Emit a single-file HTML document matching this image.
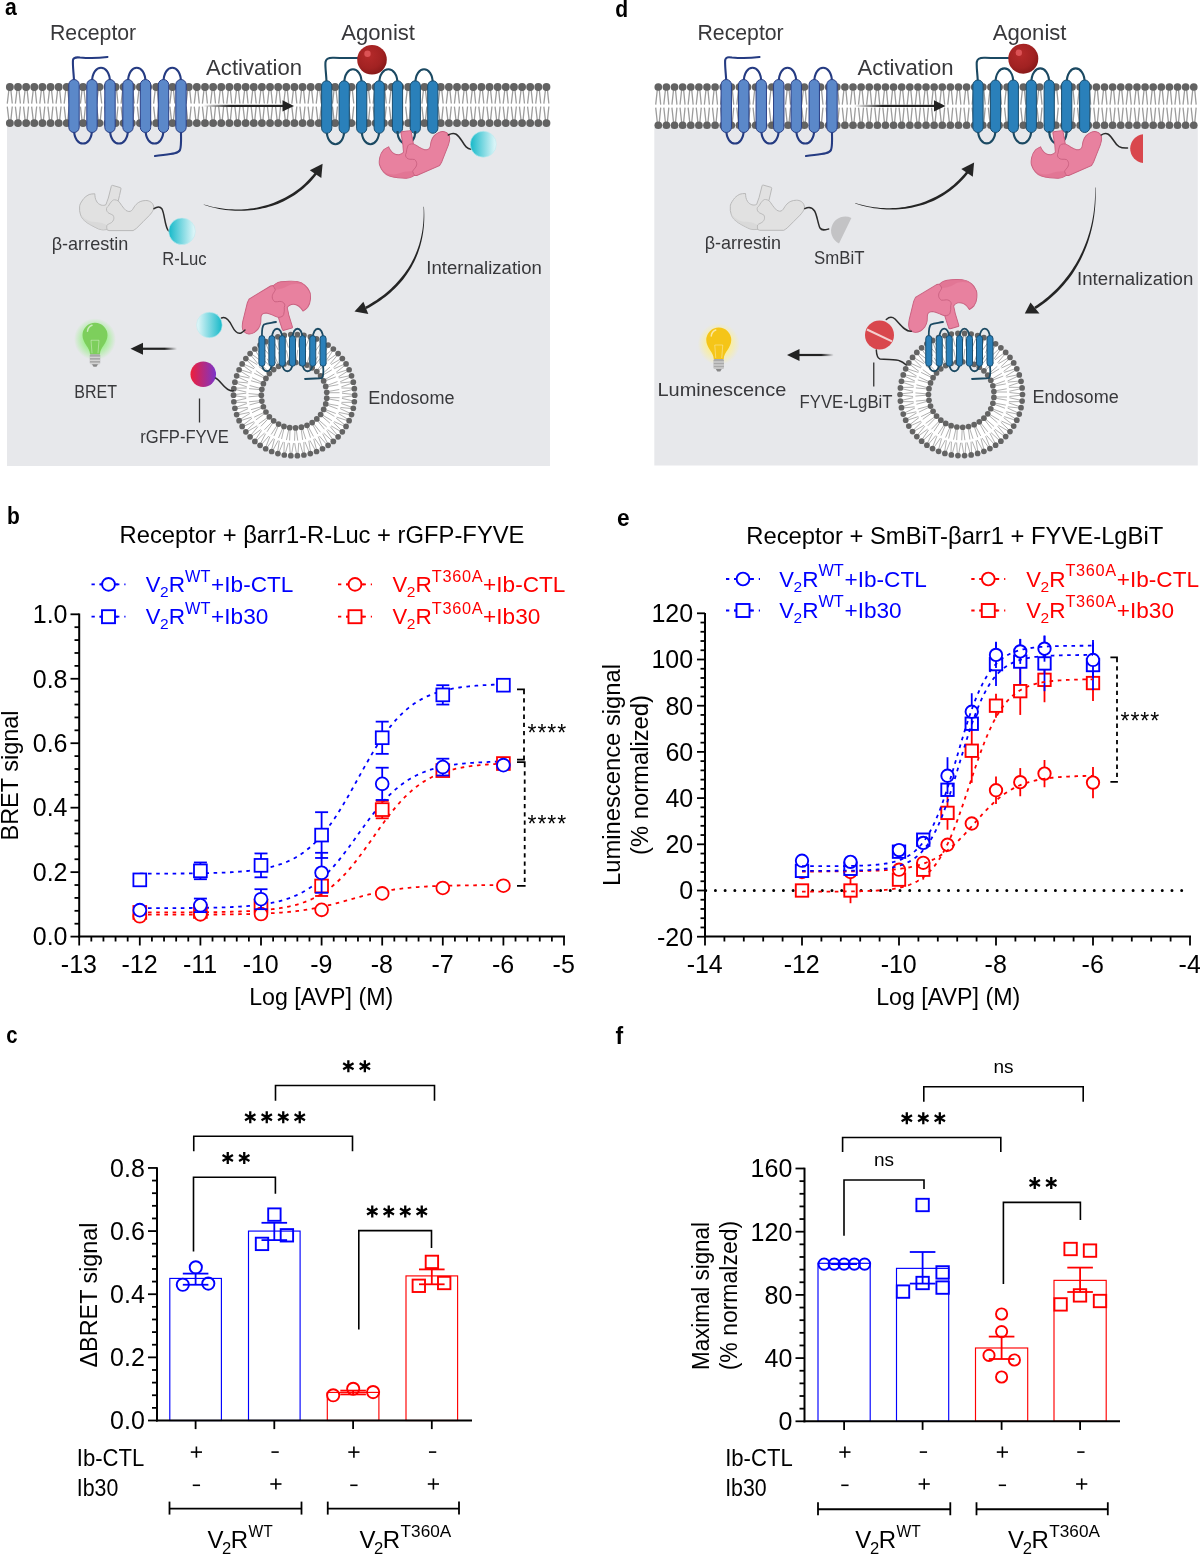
<!DOCTYPE html>
<html><head><meta charset="utf-8"><style>
html,body{margin:0;padding:0;background:#fff;}
svg{display:block;will-change:transform;}
text{font-family:"Liberation Sans",sans-serif;}
</style></head><body>
<svg width="1200" height="1555" viewBox="0 0 1200 1555">
<rect width="1200" height="1555" fill="#fff"/>
<g>
<line x1="79.2" y1="613.5" x2="79.2" y2="937.6" stroke="#000" stroke-width="2" />
<line x1="78.2" y1="936.6" x2="565" y2="936.6" stroke="#000" stroke-width="2" />
<line x1="70.5" y1="936.6" x2="79.2" y2="936.6" stroke="#000" stroke-width="1.8" />
<text x="67.5" y="945.4" font-size="25" text-anchor="end" fill="#000" font-weight="normal" >0.0</text>
<line x1="74.5" y1="923.71" x2="79.2" y2="923.71" stroke="#000" stroke-width="1.8" />
<line x1="74.5" y1="910.82" x2="79.2" y2="910.82" stroke="#000" stroke-width="1.8" />
<line x1="74.5" y1="897.92" x2="79.2" y2="897.92" stroke="#000" stroke-width="1.8" />
<line x1="74.5" y1="885.03" x2="79.2" y2="885.03" stroke="#000" stroke-width="1.8" />
<line x1="70.5" y1="872.14" x2="79.2" y2="872.14" stroke="#000" stroke-width="1.8" />
<text x="67.5" y="880.94" font-size="25" text-anchor="end" fill="#000" font-weight="normal" >0.2</text>
<line x1="74.5" y1="859.25" x2="79.2" y2="859.25" stroke="#000" stroke-width="1.8" />
<line x1="74.5" y1="846.36" x2="79.2" y2="846.36" stroke="#000" stroke-width="1.8" />
<line x1="74.5" y1="833.46" x2="79.2" y2="833.46" stroke="#000" stroke-width="1.8" />
<line x1="74.5" y1="820.57" x2="79.2" y2="820.57" stroke="#000" stroke-width="1.8" />
<line x1="70.5" y1="807.68" x2="79.2" y2="807.68" stroke="#000" stroke-width="1.8" />
<text x="67.5" y="816.48" font-size="25" text-anchor="end" fill="#000" font-weight="normal" >0.4</text>
<line x1="74.5" y1="794.79" x2="79.2" y2="794.79" stroke="#000" stroke-width="1.8" />
<line x1="74.5" y1="781.9" x2="79.2" y2="781.9" stroke="#000" stroke-width="1.8" />
<line x1="74.5" y1="769" x2="79.2" y2="769" stroke="#000" stroke-width="1.8" />
<line x1="74.5" y1="756.11" x2="79.2" y2="756.11" stroke="#000" stroke-width="1.8" />
<line x1="70.5" y1="743.22" x2="79.2" y2="743.22" stroke="#000" stroke-width="1.8" />
<text x="67.5" y="752.02" font-size="25" text-anchor="end" fill="#000" font-weight="normal" >0.6</text>
<line x1="74.5" y1="730.33" x2="79.2" y2="730.33" stroke="#000" stroke-width="1.8" />
<line x1="74.5" y1="717.44" x2="79.2" y2="717.44" stroke="#000" stroke-width="1.8" />
<line x1="74.5" y1="704.54" x2="79.2" y2="704.54" stroke="#000" stroke-width="1.8" />
<line x1="74.5" y1="691.65" x2="79.2" y2="691.65" stroke="#000" stroke-width="1.8" />
<line x1="70.5" y1="678.76" x2="79.2" y2="678.76" stroke="#000" stroke-width="1.8" />
<text x="67.5" y="687.56" font-size="25" text-anchor="end" fill="#000" font-weight="normal" >0.8</text>
<line x1="74.5" y1="665.87" x2="79.2" y2="665.87" stroke="#000" stroke-width="1.8" />
<line x1="74.5" y1="652.98" x2="79.2" y2="652.98" stroke="#000" stroke-width="1.8" />
<line x1="74.5" y1="640.08" x2="79.2" y2="640.08" stroke="#000" stroke-width="1.8" />
<line x1="74.5" y1="627.19" x2="79.2" y2="627.19" stroke="#000" stroke-width="1.8" />
<line x1="70.5" y1="614.3" x2="79.2" y2="614.3" stroke="#000" stroke-width="1.8" />
<text x="67.5" y="623.1" font-size="25" text-anchor="end" fill="#000" font-weight="normal" >1.0</text>
<line x1="79.2" y1="936.6" x2="79.2" y2="945.5" stroke="#000" stroke-width="1.8" />
<text x="78.9" y="972.6" font-size="25" text-anchor="middle" fill="#000" font-weight="normal" >-13</text>
<line x1="91.32" y1="936.6" x2="91.32" y2="941.5" stroke="#000" stroke-width="1.8" />
<line x1="103.44" y1="936.6" x2="103.44" y2="941.5" stroke="#000" stroke-width="1.8" />
<line x1="115.56" y1="936.6" x2="115.56" y2="941.5" stroke="#000" stroke-width="1.8" />
<line x1="127.68" y1="936.6" x2="127.68" y2="941.5" stroke="#000" stroke-width="1.8" />
<line x1="139.8" y1="936.6" x2="139.8" y2="945.5" stroke="#000" stroke-width="1.8" />
<text x="139.5" y="972.6" font-size="25" text-anchor="middle" fill="#000" font-weight="normal" >-12</text>
<line x1="151.92" y1="936.6" x2="151.92" y2="941.5" stroke="#000" stroke-width="1.8" />
<line x1="164.04" y1="936.6" x2="164.04" y2="941.5" stroke="#000" stroke-width="1.8" />
<line x1="176.16" y1="936.6" x2="176.16" y2="941.5" stroke="#000" stroke-width="1.8" />
<line x1="188.28" y1="936.6" x2="188.28" y2="941.5" stroke="#000" stroke-width="1.8" />
<line x1="200.4" y1="936.6" x2="200.4" y2="945.5" stroke="#000" stroke-width="1.8" />
<text x="200.1" y="972.6" font-size="25" text-anchor="middle" fill="#000" font-weight="normal" >-11</text>
<line x1="212.52" y1="936.6" x2="212.52" y2="941.5" stroke="#000" stroke-width="1.8" />
<line x1="224.64" y1="936.6" x2="224.64" y2="941.5" stroke="#000" stroke-width="1.8" />
<line x1="236.76" y1="936.6" x2="236.76" y2="941.5" stroke="#000" stroke-width="1.8" />
<line x1="248.88" y1="936.6" x2="248.88" y2="941.5" stroke="#000" stroke-width="1.8" />
<line x1="261" y1="936.6" x2="261" y2="945.5" stroke="#000" stroke-width="1.8" />
<text x="260.7" y="972.6" font-size="25" text-anchor="middle" fill="#000" font-weight="normal" >-10</text>
<line x1="273.12" y1="936.6" x2="273.12" y2="941.5" stroke="#000" stroke-width="1.8" />
<line x1="285.24" y1="936.6" x2="285.24" y2="941.5" stroke="#000" stroke-width="1.8" />
<line x1="297.36" y1="936.6" x2="297.36" y2="941.5" stroke="#000" stroke-width="1.8" />
<line x1="309.48" y1="936.6" x2="309.48" y2="941.5" stroke="#000" stroke-width="1.8" />
<line x1="321.6" y1="936.6" x2="321.6" y2="945.5" stroke="#000" stroke-width="1.8" />
<text x="321.3" y="972.6" font-size="25" text-anchor="middle" fill="#000" font-weight="normal" >-9</text>
<line x1="333.72" y1="936.6" x2="333.72" y2="941.5" stroke="#000" stroke-width="1.8" />
<line x1="345.84" y1="936.6" x2="345.84" y2="941.5" stroke="#000" stroke-width="1.8" />
<line x1="357.96" y1="936.6" x2="357.96" y2="941.5" stroke="#000" stroke-width="1.8" />
<line x1="370.08" y1="936.6" x2="370.08" y2="941.5" stroke="#000" stroke-width="1.8" />
<line x1="382.2" y1="936.6" x2="382.2" y2="945.5" stroke="#000" stroke-width="1.8" />
<text x="381.9" y="972.6" font-size="25" text-anchor="middle" fill="#000" font-weight="normal" >-8</text>
<line x1="394.32" y1="936.6" x2="394.32" y2="941.5" stroke="#000" stroke-width="1.8" />
<line x1="406.44" y1="936.6" x2="406.44" y2="941.5" stroke="#000" stroke-width="1.8" />
<line x1="418.56" y1="936.6" x2="418.56" y2="941.5" stroke="#000" stroke-width="1.8" />
<line x1="430.68" y1="936.6" x2="430.68" y2="941.5" stroke="#000" stroke-width="1.8" />
<line x1="442.8" y1="936.6" x2="442.8" y2="945.5" stroke="#000" stroke-width="1.8" />
<text x="442.5" y="972.6" font-size="25" text-anchor="middle" fill="#000" font-weight="normal" >-7</text>
<line x1="454.92" y1="936.6" x2="454.92" y2="941.5" stroke="#000" stroke-width="1.8" />
<line x1="467.04" y1="936.6" x2="467.04" y2="941.5" stroke="#000" stroke-width="1.8" />
<line x1="479.16" y1="936.6" x2="479.16" y2="941.5" stroke="#000" stroke-width="1.8" />
<line x1="491.28" y1="936.6" x2="491.28" y2="941.5" stroke="#000" stroke-width="1.8" />
<line x1="503.4" y1="936.6" x2="503.4" y2="945.5" stroke="#000" stroke-width="1.8" />
<text x="503.1" y="972.6" font-size="25" text-anchor="middle" fill="#000" font-weight="normal" >-6</text>
<line x1="515.52" y1="936.6" x2="515.52" y2="941.5" stroke="#000" stroke-width="1.8" />
<line x1="527.64" y1="936.6" x2="527.64" y2="941.5" stroke="#000" stroke-width="1.8" />
<line x1="539.76" y1="936.6" x2="539.76" y2="941.5" stroke="#000" stroke-width="1.8" />
<line x1="551.88" y1="936.6" x2="551.88" y2="941.5" stroke="#000" stroke-width="1.8" />
<line x1="564" y1="936.6" x2="564" y2="945.5" stroke="#000" stroke-width="1.8" />
<text x="563.7" y="972.6" font-size="25" text-anchor="middle" fill="#000" font-weight="normal" >-5</text>
<text x="321.2" y="1005" font-size="24.6" text-anchor="middle" fill="#000" font-weight="normal" textLength="144" lengthAdjust="spacingAndGlyphs">Log [AVP] (M)</text>
<text x="18" y="775.5" font-size="24" text-anchor="middle" fill="#000" font-weight="normal" transform="rotate(-90 18 775.5)" textLength="130" lengthAdjust="spacingAndGlyphs">BRET signal</text>
<text x="322" y="542.7" font-size="24.6" text-anchor="middle" fill="#000" font-weight="normal" textLength="405" lengthAdjust="spacingAndGlyphs">Receptor + βarr1-R-Luc + rGFP-FYVE</text>
<polyline points="139.8,912.41 141.62,912.4 143.44,912.4 145.25,912.4 147.07,912.4 148.89,912.4 150.71,912.4 152.53,912.39 154.34,912.39 156.16,912.39 157.98,912.39 159.8,912.38 161.62,912.38 163.43,912.38 165.25,912.37 167.07,912.37 168.89,912.36 170.71,912.36 172.52,912.35 174.34,912.35 176.16,912.34 177.98,912.34 179.8,912.33 181.61,912.32 183.43,912.32 185.25,912.31 187.07,912.3 188.89,912.29 190.7,912.28 192.52,912.27 194.34,912.26 196.16,912.25 197.98,912.23 199.79,912.22 201.61,912.21 203.43,912.19 205.25,912.17 207.07,912.16 208.88,912.14 210.7,912.12 212.52,912.09 214.34,912.07 216.16,912.04 217.97,912.02 219.79,911.99 221.61,911.96 223.43,911.92 225.25,911.89 227.06,911.85 228.88,911.81 230.7,911.76 232.52,911.71 234.34,911.66 236.15,911.61 237.97,911.55 239.79,911.49 241.61,911.42 243.43,911.35 245.24,911.27 247.06,911.19 248.88,911.1 250.7,911.01 252.52,910.91 254.33,910.8 256.15,910.69 257.97,910.56 259.79,910.43 261.61,910.29 263.42,910.14 265.24,909.98 267.06,909.81 268.88,909.63 270.7,909.43 272.51,909.22 274.33,908.99 276.15,908.76 277.97,908.5 279.79,908.23 281.6,907.93 283.42,907.62 285.24,907.29 287.06,906.94 288.88,906.56 290.69,906.16 292.51,905.73 294.33,905.27 296.15,904.79 297.97,904.27 299.78,903.72 301.6,903.14 303.42,902.52 305.24,901.86 307.06,901.16 308.87,900.42 310.69,899.63 312.51,898.8 314.33,897.92 316.15,896.99 317.96,896.01 319.78,894.97 321.6,893.88 323.42,892.73 325.24,891.51 327.05,890.24 328.87,888.9 330.69,887.5 332.51,886.03 334.33,884.49 336.14,882.89 337.96,881.22 339.78,879.48 341.6,877.67 343.42,875.79 345.23,873.84 347.05,871.83 348.87,869.75 350.69,867.61 352.51,865.41 354.32,863.16 356.14,860.85 357.96,858.48 359.78,856.08 361.6,853.63 363.41,851.14 365.23,848.63 367.05,846.08 368.87,843.52 370.69,840.94 372.5,838.36 374.32,835.77 376.14,833.18 377.96,830.61 379.78,828.05 381.59,825.52 383.41,823.01 385.23,820.54 387.05,818.1 388.87,815.71 390.68,813.36 392.5,811.07 394.32,808.83 396.14,806.65 397.96,804.53 399.77,802.48 401.59,800.49 403.41,798.56 405.23,796.71 407.05,794.92 408.86,793.2 410.68,791.55 412.5,789.97 414.32,788.46 416.14,787.01 417.95,785.63 419.77,784.31 421.59,783.06 423.41,781.87 425.23,780.74 427.04,779.66 428.86,778.64 430.68,777.68 432.5,776.76 434.32,775.9 436.13,775.08 437.95,774.31 439.77,773.59 441.59,772.9 443.41,772.26 445.22,771.65 447.04,771.08 448.86,770.54 450.68,770.03 452.5,769.56 454.31,769.11 456.13,768.69 457.95,768.3 459.77,767.93 461.59,767.58 463.4,767.26 465.22,766.95 467.04,766.67 468.86,766.4 470.68,766.15 472.49,765.91 474.31,765.7 476.13,765.49 477.95,765.3 479.77,765.12 481.58,764.95 483.4,764.79 485.22,764.65 487.04,764.51 488.86,764.38 490.67,764.26 492.49,764.15 494.31,764.04 496.13,763.94 497.95,763.85 499.76,763.77 501.58,763.69 503.4,763.61" fill="none" stroke="#ff0000" stroke-width="1.8" stroke-dasharray="3.6 4.6"/>
<polyline points="139.8,914.67 141.62,914.67 143.44,914.67 145.25,914.67 147.07,914.67 148.89,914.67 150.71,914.67 152.53,914.67 154.34,914.67 156.16,914.66 157.98,914.66 159.8,914.66 161.62,914.66 163.43,914.66 165.25,914.66 167.07,914.65 168.89,914.65 170.71,914.65 172.52,914.65 174.34,914.64 176.16,914.64 177.98,914.64 179.8,914.64 181.61,914.63 183.43,914.63 185.25,914.62 187.07,914.62 188.89,914.62 190.7,914.61 192.52,914.61 194.34,914.6 196.16,914.59 197.98,914.59 199.79,914.58 201.61,914.57 203.43,914.57 205.25,914.56 207.07,914.55 208.88,914.54 210.7,914.53 212.52,914.52 214.34,914.51 216.16,914.49 217.97,914.48 219.79,914.47 221.61,914.45 223.43,914.43 225.25,914.42 227.06,914.4 228.88,914.38 230.7,914.35 232.52,914.33 234.34,914.31 236.15,914.28 237.97,914.25 239.79,914.22 241.61,914.19 243.43,914.15 245.24,914.12 247.06,914.08 248.88,914.03 250.7,913.99 252.52,913.94 254.33,913.89 256.15,913.83 257.97,913.77 259.79,913.71 261.61,913.64 263.42,913.57 265.24,913.5 267.06,913.42 268.88,913.33 270.7,913.24 272.51,913.14 274.33,913.03 276.15,912.92 277.97,912.81 279.79,912.68 281.6,912.55 283.42,912.41 285.24,912.26 287.06,912.1 288.88,911.93 290.69,911.75 292.51,911.57 294.33,911.37 296.15,911.16 297.97,910.94 299.78,910.71 301.6,910.46 303.42,910.21 305.24,909.94 307.06,909.66 308.87,909.36 310.69,909.05 312.51,908.73 314.33,908.4 316.15,908.05 317.96,907.68 319.78,907.31 321.6,906.92 323.42,906.52 325.24,906.1 327.05,905.67 328.87,905.23 330.69,904.78 332.51,904.32 334.33,903.85 336.14,903.37 337.96,902.89 339.78,902.39 341.6,901.89 343.42,901.39 345.23,900.88 347.05,900.37 348.87,899.86 350.69,899.35 352.51,898.84 354.32,898.33 356.14,897.82 357.96,897.32 359.78,896.83 361.6,896.34 363.41,895.86 365.23,895.39 367.05,894.93 368.87,894.48 370.69,894.04 372.5,893.61 374.32,893.2 376.14,892.8 377.96,892.41 379.78,892.03 381.59,891.67 383.41,891.32 385.23,890.98 387.05,890.66 388.87,890.35 390.68,890.06 392.5,889.78 394.32,889.51 396.14,889.25 397.96,889.01 399.77,888.78 401.59,888.56 403.41,888.35 405.23,888.15 407.05,887.96 408.86,887.78 410.68,887.62 412.5,887.46 414.32,887.31 416.14,887.17 417.95,887.03 419.77,886.91 421.59,886.79 423.41,886.68 425.23,886.58 427.04,886.48 428.86,886.39 430.68,886.3 432.5,886.22 434.32,886.14 436.13,886.07 437.95,886 439.77,885.94 441.59,885.88 443.41,885.83 445.22,885.78 447.04,885.73 448.86,885.68 450.68,885.64 452.5,885.6 454.31,885.56 456.13,885.53 457.95,885.49 459.77,885.46 461.59,885.44 463.4,885.41 465.22,885.38 467.04,885.36 468.86,885.34 470.68,885.32 472.49,885.3 474.31,885.28 476.13,885.27 477.95,885.25 479.77,885.24 481.58,885.22 483.4,885.21 485.22,885.2 487.04,885.19 488.86,885.18 490.67,885.17 492.49,885.16 494.31,885.15 496.13,885.14 497.95,885.13 499.76,885.13 501.58,885.12 503.4,885.12" fill="none" stroke="#ff0000" stroke-width="1.8" stroke-dasharray="3.6 4.6"/>
<polyline points="139.8,873.7 141.62,873.7 143.44,873.7 145.25,873.69 147.07,873.69 148.89,873.68 150.71,873.68 152.53,873.67 154.34,873.67 156.16,873.66 157.98,873.66 159.8,873.65 161.62,873.64 163.43,873.63 165.25,873.63 167.07,873.62 168.89,873.61 170.71,873.6 172.52,873.59 174.34,873.57 176.16,873.56 177.98,873.55 179.8,873.53 181.61,873.52 183.43,873.5 185.25,873.48 187.07,873.46 188.89,873.44 190.7,873.42 192.52,873.4 194.34,873.37 196.16,873.35 197.98,873.32 199.79,873.29 201.61,873.25 203.43,873.22 205.25,873.18 207.07,873.14 208.88,873.09 210.7,873.05 212.52,873 214.34,872.94 216.16,872.89 217.97,872.82 219.79,872.76 221.61,872.69 223.43,872.61 225.25,872.53 227.06,872.44 228.88,872.35 230.7,872.25 232.52,872.15 234.34,872.03 236.15,871.91 237.97,871.78 239.79,871.64 241.61,871.49 243.43,871.33 245.24,871.16 247.06,870.98 248.88,870.78 250.7,870.58 252.52,870.35 254.33,870.11 256.15,869.86 257.97,869.59 259.79,869.3 261.61,868.99 263.42,868.65 265.24,868.3 267.06,867.92 268.88,867.52 270.7,867.09 272.51,866.63 274.33,866.14 276.15,865.62 277.97,865.07 279.79,864.47 281.6,863.85 283.42,863.18 285.24,862.47 287.06,861.71 288.88,860.91 290.69,860.05 292.51,859.15 294.33,858.19 296.15,857.17 297.97,856.1 299.78,854.96 301.6,853.76 303.42,852.49 305.24,851.15 307.06,849.74 308.87,848.25 310.69,846.69 312.51,845.04 314.33,843.32 316.15,841.51 317.96,839.62 319.78,837.64 321.6,835.58 323.42,833.42 325.24,831.19 327.05,828.86 328.87,826.45 330.69,823.95 332.51,821.37 334.33,818.71 336.14,815.97 337.96,813.15 339.78,810.27 341.6,807.31 343.42,804.3 345.23,801.22 347.05,798.1 348.87,794.93 350.69,791.73 352.51,788.49 354.32,785.23 356.14,781.96 357.96,778.67 359.78,775.39 361.6,772.12 363.41,768.86 365.23,765.62 367.05,762.41 368.87,759.25 370.69,756.12 372.5,753.05 374.32,750.03 376.14,747.08 377.96,744.19 379.78,741.38 381.59,738.64 383.41,735.98 385.23,733.39 387.05,730.9 388.87,728.49 390.68,726.16 392.5,723.92 394.32,721.77 396.14,719.71 397.96,717.73 399.77,715.84 401.59,714.03 403.41,712.3 405.23,710.66 407.05,709.1 408.86,707.61 410.68,706.2 412.5,704.86 414.32,703.59 416.14,702.38 417.95,701.25 419.77,700.17 421.59,699.16 423.41,698.2 425.23,697.29 427.04,696.44 428.86,695.64 430.68,694.88 432.5,694.17 434.32,693.5 436.13,692.87 437.95,692.28 439.77,691.73 441.59,691.2 443.41,690.72 445.22,690.26 447.04,689.83 448.86,689.42 450.68,689.05 452.5,688.69 454.31,688.36 456.13,688.05 457.95,687.76 459.77,687.49 461.59,687.23 463.4,686.99 465.22,686.77 467.04,686.56 468.86,686.37 470.68,686.18 472.49,686.01 474.31,685.85 476.13,685.7 477.95,685.57 479.77,685.43 481.58,685.31 483.4,685.2 485.22,685.09 487.04,684.99 488.86,684.9 490.67,684.81 492.49,684.73 494.31,684.66 496.13,684.59 497.95,684.52 499.76,684.46 501.58,684.4 503.4,684.35" fill="none" stroke="#0000ff" stroke-width="1.8" stroke-dasharray="3.6 4.6"/>
<polyline points="139.8,908.2 141.62,908.2 143.44,908.2 145.25,908.19 147.07,908.19 148.89,908.19 150.71,908.18 152.53,908.18 154.34,908.17 156.16,908.17 157.98,908.16 159.8,908.16 161.62,908.15 163.43,908.15 165.25,908.14 167.07,908.13 168.89,908.13 170.71,908.12 172.52,908.11 174.34,908.1 176.16,908.09 177.98,908.08 179.8,908.07 181.61,908.06 183.43,908.04 185.25,908.03 187.07,908.02 188.89,908 190.7,907.98 192.52,907.96 194.34,907.94 196.16,907.92 197.98,907.9 199.79,907.88 201.61,907.85 203.43,907.82 205.25,907.79 207.07,907.76 208.88,907.73 210.7,907.69 212.52,907.65 214.34,907.61 216.16,907.57 217.97,907.52 219.79,907.47 221.61,907.41 223.43,907.36 225.25,907.29 227.06,907.23 228.88,907.15 230.7,907.08 232.52,906.99 234.34,906.91 236.15,906.81 237.97,906.71 239.79,906.6 241.61,906.49 243.43,906.36 245.24,906.23 247.06,906.09 248.88,905.94 250.7,905.78 252.52,905.61 254.33,905.42 256.15,905.22 257.97,905.01 259.79,904.79 261.61,904.55 263.42,904.29 265.24,904.02 267.06,903.72 268.88,903.41 270.7,903.08 272.51,902.72 274.33,902.34 276.15,901.94 277.97,901.51 279.79,901.05 281.6,900.56 283.42,900.05 285.24,899.5 287.06,898.91 288.88,898.29 290.69,897.63 292.51,896.93 294.33,896.18 296.15,895.4 297.97,894.56 299.78,893.68 301.6,892.75 303.42,891.77 305.24,890.73 307.06,889.64 308.87,888.48 310.69,887.27 312.51,886 314.33,884.66 316.15,883.26 317.96,881.8 319.78,880.27 321.6,878.67 323.42,877 325.24,875.27 327.05,873.47 328.87,871.6 330.69,869.66 332.51,867.66 334.33,865.6 336.14,863.48 337.96,861.3 339.78,859.06 341.6,856.77 343.42,854.44 345.23,852.06 347.05,849.64 348.87,847.19 350.69,844.7 352.51,842.2 354.32,839.67 356.14,837.13 357.96,834.59 359.78,832.05 361.6,829.51 363.41,826.99 365.23,824.48 367.05,822 368.87,819.55 370.69,817.13 372.5,814.75 374.32,812.41 376.14,810.12 377.96,807.88 379.78,805.7 381.59,803.58 383.41,801.52 385.23,799.52 387.05,797.59 388.87,795.72 390.68,793.92 392.5,792.18 394.32,790.52 396.14,788.92 397.96,787.39 399.77,785.92 401.59,784.52 403.41,783.18 405.23,781.91 407.05,780.7 408.86,779.55 410.68,778.45 412.5,777.42 414.32,776.43 416.14,775.5 417.95,774.62 419.77,773.79 421.59,773 423.41,772.26 425.23,771.56 427.04,770.9 428.86,770.27 430.68,769.69 432.5,769.14 434.32,768.62 436.13,768.13 437.95,767.67 439.77,767.24 441.59,766.84 443.41,766.46 445.22,766.11 447.04,765.77 448.86,765.46 450.68,765.17 452.5,764.89 454.31,764.64 456.13,764.4 457.95,764.17 459.77,763.96 461.59,763.76 463.4,763.58 465.22,763.41 467.04,763.24 468.86,763.09 470.68,762.95 472.49,762.82 474.31,762.7 476.13,762.58 477.95,762.47 479.77,762.37 481.58,762.28 483.4,762.19 485.22,762.11 487.04,762.03 488.86,761.96 490.67,761.89 492.49,761.83 494.31,761.77 496.13,761.72 497.95,761.66 499.76,761.62 501.58,761.57 503.4,761.53" fill="none" stroke="#0000ff" stroke-width="1.8" stroke-dasharray="3.6 4.6"/>
<rect x="133.4" y="906.03" width="12.8" height="12.8" fill="#fff" stroke="#ff0000" stroke-width="1.8"/>
<rect x="194" y="905.06" width="12.8" height="12.8" fill="#fff" stroke="#ff0000" stroke-width="1.8"/>
<rect x="254.6" y="899.58" width="12.8" height="12.8" fill="#fff" stroke="#ff0000" stroke-width="1.8"/>
<line x1="321.6" y1="876.01" x2="321.6" y2="895.99" stroke="#ff0000" stroke-width="1.8" />
<line x1="315.1" y1="876.01" x2="328.1" y2="876.01" stroke="#ff0000" stroke-width="1.8" />
<line x1="315.1" y1="895.99" x2="328.1" y2="895.99" stroke="#ff0000" stroke-width="1.8" />
<rect x="315.2" y="879.6" width="12.8" height="12.8" fill="#fff" stroke="#ff0000" stroke-width="1.8"/>
<line x1="382.2" y1="800.91" x2="382.2" y2="818.32" stroke="#ff0000" stroke-width="1.8" />
<line x1="375.7" y1="800.91" x2="388.7" y2="800.91" stroke="#ff0000" stroke-width="1.8" />
<line x1="375.7" y1="818.32" x2="388.7" y2="818.32" stroke="#ff0000" stroke-width="1.8" />
<rect x="375.8" y="803.21" width="12.8" height="12.8" fill="#fff" stroke="#ff0000" stroke-width="1.8"/>
<rect x="436.4" y="764.22" width="12.8" height="12.8" fill="#fff" stroke="#ff0000" stroke-width="1.8"/>
<rect x="497" y="757.12" width="12.8" height="12.8" fill="#fff" stroke="#ff0000" stroke-width="1.8"/>
<circle cx="139.8" cy="916.3" r="6.4" fill="#fff" stroke="#ff0000" stroke-width="1.8"/>
<circle cx="200.4" cy="914.36" r="6.4" fill="#fff" stroke="#ff0000" stroke-width="1.8"/>
<circle cx="261" cy="914.04" r="6.4" fill="#fff" stroke="#ff0000" stroke-width="1.8"/>
<circle cx="321.6" cy="909.85" r="6.4" fill="#fff" stroke="#ff0000" stroke-width="1.8"/>
<circle cx="382.2" cy="893.41" r="6.4" fill="#fff" stroke="#ff0000" stroke-width="1.8"/>
<circle cx="442.8" cy="887.93" r="6.4" fill="#fff" stroke="#ff0000" stroke-width="1.8"/>
<circle cx="503.4" cy="885.68" r="6.4" fill="#fff" stroke="#ff0000" stroke-width="1.8"/>
<rect x="133.4" y="873.48" width="12.8" height="12.8" fill="#fff" stroke="#0000ff" stroke-width="1.8"/>
<line x1="200.4" y1="862.47" x2="200.4" y2="879.23" stroke="#0000ff" stroke-width="1.8" />
<line x1="193.9" y1="862.47" x2="206.9" y2="862.47" stroke="#0000ff" stroke-width="1.8" />
<line x1="193.9" y1="879.23" x2="206.9" y2="879.23" stroke="#0000ff" stroke-width="1.8" />
<rect x="194" y="864.45" width="12.8" height="12.8" fill="#fff" stroke="#0000ff" stroke-width="1.8"/>
<line x1="261" y1="853.45" x2="261" y2="877.3" stroke="#0000ff" stroke-width="1.8" />
<line x1="254.5" y1="853.45" x2="267.5" y2="853.45" stroke="#0000ff" stroke-width="1.8" />
<line x1="254.5" y1="877.3" x2="267.5" y2="877.3" stroke="#0000ff" stroke-width="1.8" />
<rect x="254.6" y="858.97" width="12.8" height="12.8" fill="#fff" stroke="#0000ff" stroke-width="1.8"/>
<line x1="321.6" y1="812.19" x2="321.6" y2="857.96" stroke="#0000ff" stroke-width="1.8" />
<line x1="315.1" y1="812.19" x2="328.1" y2="812.19" stroke="#0000ff" stroke-width="1.8" />
<line x1="315.1" y1="857.96" x2="328.1" y2="857.96" stroke="#0000ff" stroke-width="1.8" />
<rect x="315.2" y="828.68" width="12.8" height="12.8" fill="#fff" stroke="#0000ff" stroke-width="1.8"/>
<line x1="382.2" y1="721.63" x2="382.2" y2="753.86" stroke="#0000ff" stroke-width="1.8" />
<line x1="375.7" y1="721.63" x2="388.7" y2="721.63" stroke="#0000ff" stroke-width="1.8" />
<line x1="375.7" y1="753.86" x2="388.7" y2="753.86" stroke="#0000ff" stroke-width="1.8" />
<rect x="375.8" y="731.34" width="12.8" height="12.8" fill="#fff" stroke="#0000ff" stroke-width="1.8"/>
<line x1="442.8" y1="685.21" x2="442.8" y2="704.54" stroke="#0000ff" stroke-width="1.8" />
<line x1="436.3" y1="685.21" x2="449.3" y2="685.21" stroke="#0000ff" stroke-width="1.8" />
<line x1="436.3" y1="704.54" x2="449.3" y2="704.54" stroke="#0000ff" stroke-width="1.8" />
<rect x="436.4" y="688.48" width="12.8" height="12.8" fill="#fff" stroke="#0000ff" stroke-width="1.8"/>
<rect x="497" y="678.81" width="12.8" height="12.8" fill="#fff" stroke="#0000ff" stroke-width="1.8"/>
<circle cx="139.8" cy="910.17" r="6.4" fill="#fff" stroke="#0000ff" stroke-width="1.8"/>
<line x1="200.4" y1="898.57" x2="200.4" y2="912.11" stroke="#0000ff" stroke-width="1.8" />
<line x1="193.9" y1="898.57" x2="206.9" y2="898.57" stroke="#0000ff" stroke-width="1.8" />
<line x1="193.9" y1="912.11" x2="206.9" y2="912.11" stroke="#0000ff" stroke-width="1.8" />
<circle cx="200.4" cy="905.34" r="6.4" fill="#fff" stroke="#0000ff" stroke-width="1.8"/>
<line x1="261" y1="889.22" x2="261" y2="909.2" stroke="#0000ff" stroke-width="1.8" />
<line x1="254.5" y1="889.22" x2="267.5" y2="889.22" stroke="#0000ff" stroke-width="1.8" />
<line x1="254.5" y1="909.2" x2="267.5" y2="909.2" stroke="#0000ff" stroke-width="1.8" />
<circle cx="261" cy="899.21" r="6.4" fill="#fff" stroke="#0000ff" stroke-width="1.8"/>
<line x1="321.6" y1="852.8" x2="321.6" y2="892.77" stroke="#0000ff" stroke-width="1.8" />
<line x1="315.1" y1="852.8" x2="328.1" y2="852.8" stroke="#0000ff" stroke-width="1.8" />
<line x1="315.1" y1="892.77" x2="328.1" y2="892.77" stroke="#0000ff" stroke-width="1.8" />
<circle cx="321.6" cy="872.78" r="6.4" fill="#fff" stroke="#0000ff" stroke-width="1.8"/>
<line x1="382.2" y1="767.71" x2="382.2" y2="799.94" stroke="#0000ff" stroke-width="1.8" />
<line x1="375.7" y1="767.71" x2="388.7" y2="767.71" stroke="#0000ff" stroke-width="1.8" />
<line x1="375.7" y1="799.94" x2="388.7" y2="799.94" stroke="#0000ff" stroke-width="1.8" />
<circle cx="382.2" cy="783.83" r="6.4" fill="#fff" stroke="#0000ff" stroke-width="1.8"/>
<line x1="442.8" y1="758.69" x2="442.8" y2="775.45" stroke="#0000ff" stroke-width="1.8" />
<line x1="436.3" y1="758.69" x2="449.3" y2="758.69" stroke="#0000ff" stroke-width="1.8" />
<line x1="436.3" y1="775.45" x2="449.3" y2="775.45" stroke="#0000ff" stroke-width="1.8" />
<circle cx="442.8" cy="767.07" r="6.4" fill="#fff" stroke="#0000ff" stroke-width="1.8"/>
<circle cx="503.4" cy="765.14" r="6.4" fill="#fff" stroke="#0000ff" stroke-width="1.8"/>
<g stroke="#000" stroke-width="1.8" fill="none">
<path d="M517 689.3H524.9M517 759.6H524.9M517 762.2H525.6M517 885.8H525.6"/>
<path d="M524 690V759M524.7 763V885" stroke-dasharray="4.3 3.9"/>
</g>
<text x="547.3" y="741.4" font-size="23" text-anchor="middle" fill="#000" font-weight="normal" letter-spacing="0.9">****</text>
<text x="547.3" y="832" font-size="23" text-anchor="middle" fill="#000" font-weight="normal" letter-spacing="0.9">****</text>
<line x1="91.5" y1="584.4" x2="125.5" y2="584.4" stroke="#0000ff" stroke-width="1.8" stroke-dasharray="3.3 4.9"/>
<circle cx="108.5" cy="584.4" r="6.4" fill="#fff" stroke="#0000ff" stroke-width="1.9"/>
<line x1="99.5" y1="584.4" x2="102.1" y2="584.4" stroke="#0000ff" stroke-width="1.8" />
<line x1="114.9" y1="584.4" x2="118" y2="584.4" stroke="#0000ff" stroke-width="1.8" />
<text x="145.8" y="592.3" font-size="22" fill="#0000ff">V</text>
<text x="160" y="597.3" font-size="15.5" fill="#0000ff">2</text>
<text x="168.8" y="592.3" font-size="22.6" fill="#0000ff">R</text>
<text x="185.1" y="581.7" font-size="16.3" fill="#0000ff">WT</text>
<text x="211.1" y="592.3" font-size="22.6" fill="#0000ff">+Ib-CTL</text>
<line x1="91.5" y1="616.7" x2="125.5" y2="616.7" stroke="#0000ff" stroke-width="1.8" stroke-dasharray="3.3 4.9"/>
<rect x="102" y="610.2" width="13" height="13" fill="#fff" stroke="#0000ff" stroke-width="1.9"/>
<line x1="99.5" y1="616.7" x2="102" y2="616.7" stroke="#0000ff" stroke-width="1.8" />
<line x1="115" y1="616.7" x2="118" y2="616.7" stroke="#0000ff" stroke-width="1.8" />
<text x="145.8" y="624.3" font-size="22" fill="#0000ff">V</text>
<text x="160" y="629.3" font-size="15.5" fill="#0000ff">2</text>
<text x="168.8" y="624.3" font-size="22.6" fill="#0000ff">R</text>
<text x="185.1" y="613.7" font-size="16.3" fill="#0000ff">WT</text>
<text x="211.1" y="624.3" font-size="22.6" fill="#0000ff">+Ib30</text>
<line x1="338" y1="584.4" x2="372" y2="584.4" stroke="#ff0000" stroke-width="1.8" stroke-dasharray="3.3 4.9"/>
<circle cx="355" cy="584.4" r="6.4" fill="#fff" stroke="#ff0000" stroke-width="1.9"/>
<line x1="346" y1="584.4" x2="348.6" y2="584.4" stroke="#ff0000" stroke-width="1.8" />
<line x1="361.4" y1="584.4" x2="364.5" y2="584.4" stroke="#ff0000" stroke-width="1.8" />
<text x="392.5" y="592.3" font-size="22" fill="#ff0000">V</text>
<text x="406.7" y="597.3" font-size="15.5" fill="#ff0000">2</text>
<text x="415.5" y="592.3" font-size="22.6" fill="#ff0000">R</text>
<text x="431.8" y="581.7" font-size="16.3" fill="#ff0000" textLength="50.7">T360A</text>
<text x="483.1" y="592.3" font-size="22.6" fill="#ff0000">+Ib-CTL</text>
<line x1="338" y1="616.7" x2="372" y2="616.7" stroke="#ff0000" stroke-width="1.8" stroke-dasharray="3.3 4.9"/>
<rect x="348.5" y="610.2" width="13" height="13" fill="#fff" stroke="#ff0000" stroke-width="1.9"/>
<line x1="346" y1="616.7" x2="348.5" y2="616.7" stroke="#ff0000" stroke-width="1.8" />
<line x1="361.5" y1="616.7" x2="364.5" y2="616.7" stroke="#ff0000" stroke-width="1.8" />
<text x="392.5" y="624.3" font-size="22" fill="#ff0000">V</text>
<text x="406.7" y="629.3" font-size="15.5" fill="#ff0000">2</text>
<text x="415.5" y="624.3" font-size="22.6" fill="#ff0000">R</text>
<text x="431.8" y="613.7" font-size="16.3" fill="#ff0000" textLength="50.7">T360A</text>
<text x="483.1" y="624.3" font-size="22.6" fill="#ff0000">+Ib30</text>
</g>
<g>
<line x1="705" y1="613" x2="705" y2="937.5" stroke="#000" stroke-width="2" />
<line x1="704" y1="936.6" x2="1191" y2="936.6" stroke="#000" stroke-width="2" />
<line x1="697" y1="936.7" x2="705" y2="936.7" stroke="#000" stroke-width="1.8" />
<text x="693.2" y="945.5" font-size="25" text-anchor="end" fill="#000" font-weight="normal" >-20</text>
<line x1="700.5" y1="927.46" x2="705" y2="927.46" stroke="#000" stroke-width="1.8" />
<line x1="700.5" y1="918.22" x2="705" y2="918.22" stroke="#000" stroke-width="1.8" />
<line x1="700.5" y1="908.98" x2="705" y2="908.98" stroke="#000" stroke-width="1.8" />
<line x1="700.5" y1="899.74" x2="705" y2="899.74" stroke="#000" stroke-width="1.8" />
<line x1="697" y1="890.5" x2="705" y2="890.5" stroke="#000" stroke-width="1.8" />
<text x="693.2" y="899.3" font-size="25" text-anchor="end" fill="#000" font-weight="normal" >0</text>
<line x1="700.5" y1="881.26" x2="705" y2="881.26" stroke="#000" stroke-width="1.8" />
<line x1="700.5" y1="872.02" x2="705" y2="872.02" stroke="#000" stroke-width="1.8" />
<line x1="700.5" y1="862.78" x2="705" y2="862.78" stroke="#000" stroke-width="1.8" />
<line x1="700.5" y1="853.54" x2="705" y2="853.54" stroke="#000" stroke-width="1.8" />
<line x1="697" y1="844.3" x2="705" y2="844.3" stroke="#000" stroke-width="1.8" />
<text x="693.2" y="853.1" font-size="25" text-anchor="end" fill="#000" font-weight="normal" >20</text>
<line x1="700.5" y1="835.06" x2="705" y2="835.06" stroke="#000" stroke-width="1.8" />
<line x1="700.5" y1="825.82" x2="705" y2="825.82" stroke="#000" stroke-width="1.8" />
<line x1="700.5" y1="816.58" x2="705" y2="816.58" stroke="#000" stroke-width="1.8" />
<line x1="700.5" y1="807.34" x2="705" y2="807.34" stroke="#000" stroke-width="1.8" />
<line x1="697" y1="798.1" x2="705" y2="798.1" stroke="#000" stroke-width="1.8" />
<text x="693.2" y="806.9" font-size="25" text-anchor="end" fill="#000" font-weight="normal" >40</text>
<line x1="700.5" y1="788.86" x2="705" y2="788.86" stroke="#000" stroke-width="1.8" />
<line x1="700.5" y1="779.62" x2="705" y2="779.62" stroke="#000" stroke-width="1.8" />
<line x1="700.5" y1="770.38" x2="705" y2="770.38" stroke="#000" stroke-width="1.8" />
<line x1="700.5" y1="761.14" x2="705" y2="761.14" stroke="#000" stroke-width="1.8" />
<line x1="697" y1="751.9" x2="705" y2="751.9" stroke="#000" stroke-width="1.8" />
<text x="693.2" y="760.7" font-size="25" text-anchor="end" fill="#000" font-weight="normal" >60</text>
<line x1="700.5" y1="742.66" x2="705" y2="742.66" stroke="#000" stroke-width="1.8" />
<line x1="700.5" y1="733.42" x2="705" y2="733.42" stroke="#000" stroke-width="1.8" />
<line x1="700.5" y1="724.18" x2="705" y2="724.18" stroke="#000" stroke-width="1.8" />
<line x1="700.5" y1="714.94" x2="705" y2="714.94" stroke="#000" stroke-width="1.8" />
<line x1="697" y1="705.7" x2="705" y2="705.7" stroke="#000" stroke-width="1.8" />
<text x="693.2" y="714.5" font-size="25" text-anchor="end" fill="#000" font-weight="normal" >80</text>
<line x1="700.5" y1="696.46" x2="705" y2="696.46" stroke="#000" stroke-width="1.8" />
<line x1="700.5" y1="687.22" x2="705" y2="687.22" stroke="#000" stroke-width="1.8" />
<line x1="700.5" y1="677.98" x2="705" y2="677.98" stroke="#000" stroke-width="1.8" />
<line x1="700.5" y1="668.74" x2="705" y2="668.74" stroke="#000" stroke-width="1.8" />
<line x1="697" y1="659.5" x2="705" y2="659.5" stroke="#000" stroke-width="1.8" />
<text x="693.2" y="668.3" font-size="25" text-anchor="end" fill="#000" font-weight="normal" >100</text>
<line x1="700.5" y1="650.26" x2="705" y2="650.26" stroke="#000" stroke-width="1.8" />
<line x1="700.5" y1="641.02" x2="705" y2="641.02" stroke="#000" stroke-width="1.8" />
<line x1="700.5" y1="631.78" x2="705" y2="631.78" stroke="#000" stroke-width="1.8" />
<line x1="700.5" y1="622.54" x2="705" y2="622.54" stroke="#000" stroke-width="1.8" />
<line x1="697" y1="613.3" x2="705" y2="613.3" stroke="#000" stroke-width="1.8" />
<text x="693.2" y="622.1" font-size="25" text-anchor="end" fill="#000" font-weight="normal" >120</text>
<line x1="705" y1="936.6" x2="705" y2="945.5" stroke="#000" stroke-width="1.8" />
<text x="704.7" y="972.6" font-size="25" text-anchor="middle" fill="#000" font-weight="normal" >-14</text>
<line x1="724.4" y1="936.6" x2="724.4" y2="941.5" stroke="#000" stroke-width="1.8" />
<line x1="743.8" y1="936.6" x2="743.8" y2="941.5" stroke="#000" stroke-width="1.8" />
<line x1="763.2" y1="936.6" x2="763.2" y2="941.5" stroke="#000" stroke-width="1.8" />
<line x1="782.6" y1="936.6" x2="782.6" y2="941.5" stroke="#000" stroke-width="1.8" />
<line x1="802" y1="936.6" x2="802" y2="945.5" stroke="#000" stroke-width="1.8" />
<text x="801.7" y="972.6" font-size="25" text-anchor="middle" fill="#000" font-weight="normal" >-12</text>
<line x1="821.4" y1="936.6" x2="821.4" y2="941.5" stroke="#000" stroke-width="1.8" />
<line x1="840.8" y1="936.6" x2="840.8" y2="941.5" stroke="#000" stroke-width="1.8" />
<line x1="860.2" y1="936.6" x2="860.2" y2="941.5" stroke="#000" stroke-width="1.8" />
<line x1="879.6" y1="936.6" x2="879.6" y2="941.5" stroke="#000" stroke-width="1.8" />
<line x1="899" y1="936.6" x2="899" y2="945.5" stroke="#000" stroke-width="1.8" />
<text x="898.7" y="972.6" font-size="25" text-anchor="middle" fill="#000" font-weight="normal" >-10</text>
<line x1="918.4" y1="936.6" x2="918.4" y2="941.5" stroke="#000" stroke-width="1.8" />
<line x1="937.8" y1="936.6" x2="937.8" y2="941.5" stroke="#000" stroke-width="1.8" />
<line x1="957.2" y1="936.6" x2="957.2" y2="941.5" stroke="#000" stroke-width="1.8" />
<line x1="976.6" y1="936.6" x2="976.6" y2="941.5" stroke="#000" stroke-width="1.8" />
<line x1="996" y1="936.6" x2="996" y2="945.5" stroke="#000" stroke-width="1.8" />
<text x="995.7" y="972.6" font-size="25" text-anchor="middle" fill="#000" font-weight="normal" >-8</text>
<line x1="1015.4" y1="936.6" x2="1015.4" y2="941.5" stroke="#000" stroke-width="1.8" />
<line x1="1034.8" y1="936.6" x2="1034.8" y2="941.5" stroke="#000" stroke-width="1.8" />
<line x1="1054.2" y1="936.6" x2="1054.2" y2="941.5" stroke="#000" stroke-width="1.8" />
<line x1="1073.6" y1="936.6" x2="1073.6" y2="941.5" stroke="#000" stroke-width="1.8" />
<line x1="1093" y1="936.6" x2="1093" y2="945.5" stroke="#000" stroke-width="1.8" />
<text x="1092.7" y="972.6" font-size="25" text-anchor="middle" fill="#000" font-weight="normal" >-6</text>
<line x1="1112.4" y1="936.6" x2="1112.4" y2="941.5" stroke="#000" stroke-width="1.8" />
<line x1="1131.8" y1="936.6" x2="1131.8" y2="941.5" stroke="#000" stroke-width="1.8" />
<line x1="1151.2" y1="936.6" x2="1151.2" y2="941.5" stroke="#000" stroke-width="1.8" />
<line x1="1170.6" y1="936.6" x2="1170.6" y2="941.5" stroke="#000" stroke-width="1.8" />
<line x1="1190" y1="936.6" x2="1190" y2="945.5" stroke="#000" stroke-width="1.8" />
<text x="1189.7" y="972.6" font-size="25" text-anchor="middle" fill="#000" font-weight="normal" >-4</text>
<line x1="705.7" y1="890.5" x2="1182.5" y2="890.5" stroke="#000" stroke-width="3" stroke-linecap="round" stroke-dasharray="0 9.714"/>
<text x="948.2" y="1005" font-size="24.6" text-anchor="middle" fill="#000" font-weight="normal" textLength="144" lengthAdjust="spacingAndGlyphs">Log [AVP] (M)</text>
<text x="620.1" y="775" font-size="24.4" text-anchor="middle" fill="#000" font-weight="normal" transform="rotate(-90 620.1 775)" textLength="222" lengthAdjust="spacingAndGlyphs">Luminescence signal</text>
<text x="647.5" y="775" font-size="24.4" text-anchor="middle" fill="#000" font-weight="normal" transform="rotate(-90 647.5 775)" textLength="160" lengthAdjust="spacingAndGlyphs">(% normalized)</text>
<text x="954.8" y="544" font-size="24.6" text-anchor="middle" fill="#000" font-weight="normal" textLength="417" lengthAdjust="spacingAndGlyphs">Receptor + SmBiT-βarr1 + FYVE-LgBiT</text>
<rect x="795.8" y="884.3" width="12.4" height="12.4" fill="#fff" stroke="#ff0000" stroke-width="1.9"/>
<line x1="850.5" y1="877.79" x2="850.5" y2="903.21" stroke="#ff0000" stroke-width="1.8" />
<rect x="844.3" y="884.3" width="12.4" height="12.4" fill="#fff" stroke="#ff0000" stroke-width="1.9"/>
<rect x="892.8" y="873.44" width="12.4" height="12.4" fill="#fff" stroke="#ff0000" stroke-width="1.9"/>
<line x1="923.25" y1="859.78" x2="923.25" y2="879.64" stroke="#ff0000" stroke-width="1.8" />
<rect x="917.05" y="863.51" width="12.4" height="12.4" fill="#fff" stroke="#ff0000" stroke-width="1.9"/>
<line x1="947.5" y1="796.02" x2="947.5" y2="829.75" stroke="#ff0000" stroke-width="1.8" />
<rect x="941.3" y="806.68" width="12.4" height="12.4" fill="#fff" stroke="#ff0000" stroke-width="1.9"/>
<line x1="971.75" y1="718.64" x2="971.75" y2="782.85" stroke="#ff0000" stroke-width="1.8" />
<rect x="965.55" y="744.54" width="12.4" height="12.4" fill="#fff" stroke="#ff0000" stroke-width="1.9"/>
<line x1="996" y1="693.69" x2="996" y2="717.71" stroke="#ff0000" stroke-width="1.8" />
<rect x="989.8" y="699.5" width="12.4" height="12.4" fill="#fff" stroke="#ff0000" stroke-width="1.9"/>
<line x1="1020.25" y1="667.35" x2="1020.25" y2="714.94" stroke="#ff0000" stroke-width="1.8" />
<rect x="1014.05" y="684.95" width="12.4" height="12.4" fill="#fff" stroke="#ff0000" stroke-width="1.9"/>
<line x1="1044.5" y1="657.42" x2="1044.5" y2="702.24" stroke="#ff0000" stroke-width="1.8" />
<rect x="1038.3" y="673.63" width="12.4" height="12.4" fill="#fff" stroke="#ff0000" stroke-width="1.9"/>
<line x1="1093" y1="665.04" x2="1093" y2="701.08" stroke="#ff0000" stroke-width="1.8" />
<rect x="1086.8" y="676.86" width="12.4" height="12.4" fill="#fff" stroke="#ff0000" stroke-width="1.9"/>
<circle cx="802" cy="872.02" r="6.2" fill="#fff" stroke="#ff0000" stroke-width="1.9"/>
<line x1="850.5" y1="865.09" x2="850.5" y2="878.95" stroke="#ff0000" stroke-width="1.8" />
<circle cx="850.5" cy="872.02" r="6.2" fill="#fff" stroke="#ff0000" stroke-width="1.9"/>
<circle cx="899" cy="869.71" r="6.2" fill="#fff" stroke="#ff0000" stroke-width="1.9"/>
<circle cx="923.25" cy="862.78" r="6.2" fill="#fff" stroke="#ff0000" stroke-width="1.9"/>
<circle cx="947.5" cy="844.76" r="6.2" fill="#fff" stroke="#ff0000" stroke-width="1.9"/>
<circle cx="971.75" cy="823.51" r="6.2" fill="#fff" stroke="#ff0000" stroke-width="1.9"/>
<line x1="996" y1="776.62" x2="996" y2="803.88" stroke="#ff0000" stroke-width="1.8" />
<circle cx="996" cy="790.25" r="6.2" fill="#fff" stroke="#ff0000" stroke-width="1.9"/>
<line x1="1020.25" y1="768.07" x2="1020.25" y2="796.25" stroke="#ff0000" stroke-width="1.8" />
<circle cx="1020.25" cy="782.16" r="6.2" fill="#fff" stroke="#ff0000" stroke-width="1.9"/>
<line x1="1044.5" y1="759.99" x2="1044.5" y2="787.24" stroke="#ff0000" stroke-width="1.8" />
<circle cx="1044.5" cy="773.61" r="6.2" fill="#fff" stroke="#ff0000" stroke-width="1.9"/>
<line x1="1093" y1="766.91" x2="1093" y2="798.33" stroke="#ff0000" stroke-width="1.8" />
<circle cx="1093" cy="782.62" r="6.2" fill="#fff" stroke="#ff0000" stroke-width="1.9"/>
<rect x="795.8" y="864.66" width="12.4" height="12.4" fill="#fff" stroke="#0000ff" stroke-width="1.9"/>
<rect x="844.3" y="862.59" width="12.4" height="12.4" fill="#fff" stroke="#0000ff" stroke-width="1.9"/>
<rect x="892.8" y="845.49" width="12.4" height="12.4" fill="#fff" stroke="#0000ff" stroke-width="1.9"/>
<rect x="917.05" y="833.48" width="12.4" height="12.4" fill="#fff" stroke="#0000ff" stroke-width="1.9"/>
<rect x="941.3" y="783.58" width="12.4" height="12.4" fill="#fff" stroke="#0000ff" stroke-width="1.9"/>
<rect x="965.55" y="717.52" width="12.4" height="12.4" fill="#fff" stroke="#0000ff" stroke-width="1.9"/>
<line x1="996" y1="642.17" x2="996" y2="686.07" stroke="#0000ff" stroke-width="1.8" />
<rect x="989.8" y="657.92" width="12.4" height="12.4" fill="#fff" stroke="#0000ff" stroke-width="1.9"/>
<line x1="1020.25" y1="638.94" x2="1020.25" y2="684.22" stroke="#0000ff" stroke-width="1.8" />
<rect x="1014.05" y="655.38" width="12.4" height="12.4" fill="#fff" stroke="#0000ff" stroke-width="1.9"/>
<line x1="1044.5" y1="635.71" x2="1044.5" y2="691.15" stroke="#0000ff" stroke-width="1.8" />
<rect x="1038.3" y="657.23" width="12.4" height="12.4" fill="#fff" stroke="#0000ff" stroke-width="1.9"/>
<line x1="1093" y1="640.1" x2="1093" y2="689.99" stroke="#0000ff" stroke-width="1.8" />
<rect x="1086.8" y="658.84" width="12.4" height="12.4" fill="#fff" stroke="#0000ff" stroke-width="1.9"/>
<circle cx="802" cy="860.7" r="6.2" fill="#fff" stroke="#0000ff" stroke-width="1.9"/>
<circle cx="850.5" cy="861.86" r="6.2" fill="#fff" stroke="#0000ff" stroke-width="1.9"/>
<circle cx="899" cy="850.08" r="6.2" fill="#fff" stroke="#0000ff" stroke-width="1.9"/>
<circle cx="923.25" cy="842.91" r="6.2" fill="#fff" stroke="#0000ff" stroke-width="1.9"/>
<line x1="947.5" y1="757.21" x2="947.5" y2="794.17" stroke="#0000ff" stroke-width="1.8" />
<circle cx="947.5" cy="775.69" r="6.2" fill="#fff" stroke="#0000ff" stroke-width="1.9"/>
<line x1="971.75" y1="693.23" x2="971.75" y2="730.19" stroke="#0000ff" stroke-width="1.8" />
<circle cx="971.75" cy="711.71" r="6.2" fill="#fff" stroke="#0000ff" stroke-width="1.9"/>
<line x1="996" y1="641.71" x2="996" y2="668.05" stroke="#0000ff" stroke-width="1.8" />
<circle cx="996" cy="654.88" r="6.2" fill="#fff" stroke="#0000ff" stroke-width="1.9"/>
<line x1="1020.25" y1="638.94" x2="1020.25" y2="663.89" stroke="#0000ff" stroke-width="1.8" />
<circle cx="1020.25" cy="651.41" r="6.2" fill="#fff" stroke="#0000ff" stroke-width="1.9"/>
<line x1="1044.5" y1="635.59" x2="1044.5" y2="661.69" stroke="#0000ff" stroke-width="1.8" />
<circle cx="1044.5" cy="648.64" r="6.2" fill="#fff" stroke="#0000ff" stroke-width="1.9"/>
<line x1="1093" y1="642.41" x2="1093" y2="677.52" stroke="#0000ff" stroke-width="1.8" />
<circle cx="1093" cy="659.96" r="6.2" fill="#fff" stroke="#0000ff" stroke-width="1.9"/>
<polyline points="802,891.64 803.45,891.64 804.91,891.64 806.37,891.64 807.82,891.63 809.27,891.63 810.73,891.63 812.19,891.63 813.64,891.63 815.1,891.62 816.55,891.62 818,891.62 819.46,891.61 820.91,891.61 822.37,891.61 823.82,891.6 825.28,891.6 826.74,891.59 828.19,891.59 829.64,891.58 831.1,891.57 832.56,891.57 834.01,891.56 835.46,891.55 836.92,891.54 838.38,891.53 839.83,891.52 841.29,891.51 842.74,891.5 844.19,891.48 845.65,891.47 847.11,891.45 848.56,891.44 850.01,891.42 851.47,891.4 852.93,891.38 854.38,891.35 855.84,891.32 857.29,891.3 858.75,891.27 860.2,891.23 861.65,891.2 863.11,891.16 864.56,891.11 866.02,891.07 867.48,891.02 868.93,890.96 870.38,890.9 871.84,890.84 873.3,890.76 874.75,890.69 876.2,890.6 877.66,890.51 879.12,890.42 880.57,890.31 882.02,890.19 883.48,890.07 884.94,889.93 886.39,889.79 887.85,889.63 889.3,889.45 890.75,889.26 892.21,889.06 893.66,888.84 895.12,888.6 896.57,888.34 898.03,888.06 899.49,887.75 900.94,887.42 902.39,887.06 903.85,886.68 905.3,886.26 906.76,885.8 908.21,885.31 909.67,884.78 911.12,884.21 912.58,883.59 914.04,882.92 915.49,882.2 916.95,881.42 918.4,880.58 919.86,879.68 921.31,878.71 922.76,877.66 924.22,876.54 925.68,875.34 927.13,874.04 928.59,872.66 930.04,871.17 931.5,869.59 932.95,867.89 934.4,866.09 935.86,864.16 937.31,862.12 938.77,859.94 940.23,857.64 941.68,855.21 943.13,852.63 944.59,849.92 946.05,847.07 947.5,844.08 948.95,840.95 950.41,837.68 951.87,834.28 953.32,830.74 954.77,827.08 956.23,823.29 957.69,819.39 959.14,815.39 960.6,811.29 962.05,807.11 963.5,802.85 964.96,798.54 966.41,794.18 967.87,789.8 969.33,785.39 970.78,780.99 972.24,776.61 973.69,772.25 975.14,767.94 976.6,763.68 978.05,759.5 979.51,755.4 980.96,751.4 982.42,747.5 983.88,743.71 985.33,740.05 986.79,736.51 988.24,733.11 989.7,729.84 991.15,726.71 992.61,723.72 994.06,720.87 995.51,718.16 996.97,715.58 998.42,713.15 999.88,710.85 1001.34,708.67 1002.79,706.63 1004.25,704.7 1005.7,702.9 1007.15,701.2 1008.61,699.62 1010.07,698.13 1011.52,696.75 1012.97,695.45 1014.43,694.25 1015.88,693.13 1017.34,692.08 1018.8,691.11 1020.25,690.21 1021.7,689.37 1023.16,688.59 1024.62,687.87 1026.07,687.2 1027.53,686.58 1028.98,686.01 1030.43,685.48 1031.89,684.99 1033.35,684.53 1034.8,684.11 1036.26,683.73 1037.71,683.37 1039.16,683.04 1040.62,682.73 1042.08,682.45 1043.53,682.19 1044.99,681.95 1046.44,681.73 1047.89,681.53 1049.35,681.34 1050.81,681.16 1052.26,681 1053.72,680.86 1055.17,680.72 1056.62,680.6 1058.08,680.48 1059.53,680.37 1060.99,680.28 1062.44,680.19 1063.9,680.1 1065.36,680.03 1066.81,679.95 1068.26,679.89 1069.72,679.83 1071.17,679.77 1072.63,679.72 1074.09,679.68 1075.54,679.63 1076.99,679.59 1078.45,679.56 1079.9,679.52 1081.36,679.49 1082.82,679.47 1084.27,679.44 1085.72,679.41 1087.18,679.39 1088.63,679.37 1090.09,679.35 1091.55,679.34 1093,679.32" fill="none" stroke="#ff0000" stroke-width="1.8" stroke-dasharray="3.6 4.6"/>
<polyline points="802,871.53 803.45,871.53 804.91,871.53 806.37,871.52 807.82,871.52 809.27,871.52 810.73,871.52 812.19,871.51 813.64,871.51 815.1,871.51 816.55,871.5 818,871.5 819.46,871.5 820.91,871.49 822.37,871.49 823.82,871.48 825.28,871.48 826.74,871.47 828.19,871.46 829.64,871.46 831.1,871.45 832.56,871.44 834.01,871.43 835.46,871.43 836.92,871.42 838.38,871.41 839.83,871.4 841.29,871.38 842.74,871.37 844.19,871.36 845.65,871.34 847.11,871.33 848.56,871.31 850.01,871.29 851.47,871.28 852.93,871.26 854.38,871.23 855.84,871.21 857.29,871.19 858.75,871.16 860.2,871.13 861.65,871.1 863.11,871.07 864.56,871.03 866.02,871 867.48,870.96 868.93,870.91 870.38,870.87 871.84,870.82 873.3,870.77 874.75,870.71 876.2,870.65 877.66,870.58 879.12,870.52 880.57,870.44 882.02,870.36 883.48,870.28 884.94,870.19 886.39,870.09 887.85,869.99 889.3,869.88 890.75,869.76 892.21,869.64 893.66,869.5 895.12,869.36 896.57,869.2 898.03,869.04 899.49,868.86 900.94,868.68 902.39,868.48 903.85,868.27 905.3,868.04 906.76,867.8 908.21,867.54 909.67,867.26 911.12,866.97 912.58,866.66 914.04,866.33 915.49,865.98 916.95,865.6 918.4,865.2 919.86,864.78 921.31,864.33 922.76,863.86 924.22,863.36 925.68,862.82 927.13,862.26 928.59,861.66 930.04,861.03 931.5,860.37 932.95,859.66 934.4,858.93 935.86,858.15 937.31,857.33 938.77,856.47 940.23,855.57 941.68,854.63 943.13,853.65 944.59,852.62 946.05,851.55 947.5,850.43 948.95,849.27 950.41,848.06 951.87,846.82 953.32,845.53 954.77,844.19 956.23,842.82 957.69,841.41 959.14,839.97 960.6,838.48 962.05,836.97 963.5,835.43 964.96,833.86 966.41,832.26 967.87,830.65 969.33,829.02 970.78,827.37 972.24,825.72 973.69,824.06 975.14,822.4 976.6,820.75 978.05,819.1 979.51,817.46 980.96,815.83 982.42,814.22 983.88,812.64 985.33,811.08 986.79,809.54 988.24,808.04 989.7,806.57 991.15,805.13 992.61,803.74 994.06,802.38 995.51,801.06 996.97,799.78 998.42,798.55 999.88,797.36 1001.34,796.21 1002.79,795.11 1004.25,794.05 1005.7,793.04 1007.15,792.07 1008.61,791.14 1010.07,790.26 1011.52,789.41 1012.97,788.61 1014.43,787.84 1015.88,787.12 1017.34,786.43 1018.8,785.78 1020.25,785.16 1021.7,784.57 1023.16,784.02 1024.62,783.49 1026.07,783 1027.53,782.53 1028.98,782.09 1030.43,781.68 1031.89,781.29 1033.35,780.92 1034.8,780.58 1036.26,780.25 1037.71,779.95 1039.16,779.66 1040.62,779.39 1042.08,779.14 1043.53,778.9 1044.99,778.68 1046.44,778.47 1047.89,778.28 1049.35,778.1 1050.81,777.92 1052.26,777.76 1053.72,777.61 1055.17,777.47 1056.62,777.34 1058.08,777.22 1059.53,777.1 1060.99,777 1062.44,776.89 1063.9,776.8 1065.36,776.71 1066.81,776.63 1068.26,776.55 1069.72,776.48 1071.17,776.41 1072.63,776.35 1074.09,776.29 1075.54,776.24 1076.99,776.19 1078.45,776.14 1079.9,776.09 1081.36,776.05 1082.82,776.01 1084.27,775.98 1085.72,775.94 1087.18,775.91 1088.63,775.88 1090.09,775.85 1091.55,775.83 1093,775.8" fill="none" stroke="#ff0000" stroke-width="1.8" stroke-dasharray="3.6 4.6"/>
<polyline points="802,870.85 803.45,870.85 804.91,870.85 806.37,870.85 807.82,870.85 809.27,870.84 810.73,870.84 812.19,870.84 813.64,870.84 815.1,870.84 816.55,870.83 818,870.83 819.46,870.83 820.91,870.82 822.37,870.82 823.82,870.82 825.28,870.81 826.74,870.81 828.19,870.8 829.64,870.79 831.1,870.79 832.56,870.78 834.01,870.77 835.46,870.76 836.92,870.75 838.38,870.74 839.83,870.73 841.29,870.72 842.74,870.71 844.19,870.69 845.65,870.67 847.11,870.66 848.56,870.64 850.01,870.62 851.47,870.59 852.93,870.57 854.38,870.54 855.84,870.51 857.29,870.48 858.75,870.44 860.2,870.4 861.65,870.36 863.11,870.31 864.56,870.26 866.02,870.2 867.48,870.14 868.93,870.07 870.38,869.99 871.84,869.91 873.3,869.82 874.75,869.72 876.2,869.62 877.66,869.5 879.12,869.37 880.57,869.24 882.02,869.08 883.48,868.92 884.94,868.74 886.39,868.54 887.85,868.32 889.3,868.09 890.75,867.83 892.21,867.55 893.66,867.24 895.12,866.91 896.57,866.54 898.03,866.15 899.49,865.71 900.94,865.24 902.39,864.73 903.85,864.17 905.3,863.56 906.76,862.9 908.21,862.18 909.67,861.4 911.12,860.56 912.58,859.64 914.04,858.64 915.49,857.57 916.95,856.4 918.4,855.14 919.86,853.78 921.31,852.31 922.76,850.73 924.22,849.03 925.68,847.2 927.13,845.24 928.59,843.15 930.04,840.9 931.5,838.51 932.95,835.96 934.4,833.25 935.86,830.38 937.31,827.34 938.77,824.14 940.23,820.77 941.68,817.23 943.13,813.53 944.59,809.67 946.05,805.65 947.5,801.49 948.95,797.2 950.41,792.78 951.87,788.25 953.32,783.62 954.77,778.92 956.23,774.15 957.69,769.33 959.14,764.49 960.6,759.64 962.05,754.81 963.5,750 964.96,745.25 966.41,740.57 967.87,735.97 969.33,731.48 970.78,727.1 972.24,722.85 973.69,718.74 975.14,714.77 976.6,710.97 978.05,707.32 979.51,703.83 980.96,700.52 982.42,697.37 983.88,694.39 985.33,691.57 986.79,688.92 988.24,686.42 989.7,684.08 991.15,681.88 992.61,679.83 994.06,677.92 995.51,676.13 996.97,674.47 998.42,672.93 999.88,671.5 1001.34,670.17 1002.79,668.95 1004.25,667.81 1005.7,666.76 1007.15,665.79 1008.61,664.9 1010.07,664.07 1011.52,663.32 1012.97,662.62 1014.43,661.97 1015.88,661.38 1017.34,660.84 1018.8,660.34 1020.25,659.88 1021.7,659.46 1023.16,659.08 1024.62,658.72 1026.07,658.4 1027.53,658.1 1028.98,657.83 1030.43,657.58 1031.89,657.35 1033.35,657.14 1034.8,656.95 1036.26,656.77 1037.71,656.61 1039.16,656.46 1040.62,656.33 1042.08,656.2 1043.53,656.09 1044.99,655.99 1046.44,655.89 1047.89,655.81 1049.35,655.73 1050.81,655.65 1052.26,655.59 1053.72,655.53 1055.17,655.47 1056.62,655.42 1058.08,655.37 1059.53,655.33 1060.99,655.29 1062.44,655.26 1063.9,655.23 1065.36,655.2 1066.81,655.17 1068.26,655.14 1069.72,655.12 1071.17,655.1 1072.63,655.08 1074.09,655.06 1075.54,655.05 1076.99,655.03 1078.45,655.02 1079.9,655.01 1081.36,655 1082.82,654.99 1084.27,654.98 1085.72,654.97 1087.18,654.96 1088.63,654.96 1090.09,654.95 1091.55,654.94 1093,654.94" fill="none" stroke="#0000ff" stroke-width="1.8" stroke-dasharray="3.6 4.6"/>
<polyline points="802,866.23 803.45,866.23 804.91,866.23 806.37,866.23 807.82,866.22 809.27,866.22 810.73,866.22 812.19,866.22 813.64,866.21 815.1,866.21 816.55,866.21 818,866.2 819.46,866.2 820.91,866.2 822.37,866.19 823.82,866.19 825.28,866.18 826.74,866.17 828.19,866.17 829.64,866.16 831.1,866.15 832.56,866.14 834.01,866.13 835.46,866.12 836.92,866.11 838.38,866.1 839.83,866.09 841.29,866.07 842.74,866.06 844.19,866.04 845.65,866.02 847.11,866 848.56,865.98 850.01,865.95 851.47,865.92 852.93,865.89 854.38,865.86 855.84,865.82 857.29,865.78 858.75,865.74 860.2,865.69 861.65,865.64 863.11,865.58 864.56,865.52 866.02,865.45 867.48,865.38 868.93,865.3 870.38,865.21 871.84,865.11 873.3,865.01 874.75,864.89 876.2,864.77 877.66,864.63 879.12,864.48 880.57,864.31 882.02,864.13 883.48,863.94 884.94,863.72 886.39,863.49 887.85,863.23 889.3,862.96 890.75,862.65 892.21,862.32 893.66,861.96 895.12,861.56 896.57,861.13 898.03,860.67 899.49,860.16 900.94,859.6 902.39,859 903.85,858.34 905.3,857.63 906.76,856.85 908.21,856.01 909.67,855.1 911.12,854.11 912.58,853.04 914.04,851.88 915.49,850.62 916.95,849.27 918.4,847.81 919.86,846.23 921.31,844.54 922.76,842.71 924.22,840.76 925.68,838.66 927.13,836.42 928.59,834.03 930.04,831.48 931.5,828.77 932.95,825.89 934.4,822.85 935.86,819.63 937.31,816.24 938.77,812.69 940.23,808.96 941.68,805.07 943.13,801.02 944.59,796.82 946.05,792.48 947.5,788.01 948.95,783.42 950.41,778.72 951.87,773.94 953.32,769.09 954.77,764.18 956.23,759.24 957.69,754.29 959.14,749.35 960.6,744.43 962.05,739.56 963.5,734.75 964.96,730.02 966.41,725.39 967.87,720.88 969.33,716.49 970.78,712.25 972.24,708.15 973.69,704.2 975.14,700.42 976.6,696.81 978.05,693.36 979.51,690.09 980.96,686.99 982.42,684.06 983.88,681.29 985.33,678.69 986.79,676.24 988.24,673.95 989.7,671.81 991.15,669.81 992.61,667.94 994.06,666.2 995.51,664.59 996.97,663.09 998.42,661.7 999.88,660.41 1001.34,659.22 1002.79,658.12 1004.25,657.11 1005.7,656.17 1007.15,655.3 1008.61,654.51 1010.07,653.77 1011.52,653.1 1012.97,652.48 1014.43,651.91 1015.88,651.38 1017.34,650.9 1018.8,650.46 1020.25,650.05 1021.7,649.68 1023.16,649.34 1024.62,649.03 1026.07,648.74 1027.53,648.48 1028.98,648.24 1030.43,648.02 1031.89,647.81 1033.35,647.63 1034.8,647.46 1036.26,647.3 1037.71,647.16 1039.16,647.03 1040.62,646.91 1042.08,646.8 1043.53,646.71 1044.99,646.61 1046.44,646.53 1047.89,646.45 1049.35,646.38 1050.81,646.32 1052.26,646.26 1053.72,646.21 1055.17,646.16 1056.62,646.12 1058.08,646.08 1059.53,646.04 1060.99,646 1062.44,645.97 1063.9,645.94 1065.36,645.92 1066.81,645.89 1068.26,645.87 1069.72,645.85 1071.17,645.83 1072.63,645.82 1074.09,645.8 1075.54,645.79 1076.99,645.78 1078.45,645.76 1079.9,645.75 1081.36,645.74 1082.82,645.73 1084.27,645.73 1085.72,645.72 1087.18,645.71 1088.63,645.71 1090.09,645.7 1091.55,645.7 1093,645.69" fill="none" stroke="#0000ff" stroke-width="1.8" stroke-dasharray="3.6 4.6"/>
<path d="M1110.4 657.4H1117.9M1110.4 781.9H1117.9" stroke="#000" stroke-width="1.8" fill="none"/>
<path d="M1117 658V781" stroke="#000" stroke-width="1.8" fill="none" stroke-dasharray="4.3 3.9"/>
<text x="1140.3" y="728.6" font-size="23" text-anchor="middle" fill="#000" font-weight="normal" letter-spacing="0.9">****</text>
<line x1="726" y1="579" x2="760" y2="579" stroke="#0000ff" stroke-width="1.8" stroke-dasharray="3.3 4.9"/>
<circle cx="743" cy="579" r="6.4" fill="#fff" stroke="#0000ff" stroke-width="1.9"/>
<line x1="734" y1="579" x2="736.6" y2="579" stroke="#0000ff" stroke-width="1.8" />
<line x1="749.4" y1="579" x2="752.5" y2="579" stroke="#0000ff" stroke-width="1.8" />
<text x="779.2" y="586.5" font-size="22" fill="#0000ff">V</text>
<text x="793.4" y="591.5" font-size="15.5" fill="#0000ff">2</text>
<text x="802.2" y="586.5" font-size="22.6" fill="#0000ff">R</text>
<text x="818.5" y="575.9" font-size="16.3" fill="#0000ff">WT</text>
<text x="844.5" y="586.5" font-size="22.6" fill="#0000ff">+Ib-CTL</text>
<line x1="726" y1="610.5" x2="760" y2="610.5" stroke="#0000ff" stroke-width="1.8" stroke-dasharray="3.3 4.9"/>
<rect x="736.5" y="604" width="13" height="13" fill="#fff" stroke="#0000ff" stroke-width="1.9"/>
<line x1="734" y1="610.5" x2="736.5" y2="610.5" stroke="#0000ff" stroke-width="1.8" />
<line x1="749.5" y1="610.5" x2="752.5" y2="610.5" stroke="#0000ff" stroke-width="1.8" />
<text x="779.2" y="617.8" font-size="22" fill="#0000ff">V</text>
<text x="793.4" y="622.8" font-size="15.5" fill="#0000ff">2</text>
<text x="802.2" y="617.8" font-size="22.6" fill="#0000ff">R</text>
<text x="818.5" y="607.2" font-size="16.3" fill="#0000ff">WT</text>
<text x="844.5" y="617.8" font-size="22.6" fill="#0000ff">+Ib30</text>
<line x1="971.3" y1="579" x2="1005.3" y2="579" stroke="#ff0000" stroke-width="1.8" stroke-dasharray="3.3 4.9"/>
<circle cx="988.3" cy="579" r="6.4" fill="#fff" stroke="#ff0000" stroke-width="1.9"/>
<line x1="979.3" y1="579" x2="981.9" y2="579" stroke="#ff0000" stroke-width="1.8" />
<line x1="994.7" y1="579" x2="997.8" y2="579" stroke="#ff0000" stroke-width="1.8" />
<text x="1026.2" y="586.5" font-size="22" fill="#ff0000">V</text>
<text x="1040.4" y="591.5" font-size="15.5" fill="#ff0000">2</text>
<text x="1049.2" y="586.5" font-size="22.6" fill="#ff0000">R</text>
<text x="1065.5" y="575.9" font-size="16.3" fill="#ff0000" textLength="50.7">T360A</text>
<text x="1116.8" y="586.5" font-size="22.6" fill="#ff0000">+Ib-CTL</text>
<line x1="971.3" y1="610.5" x2="1005.3" y2="610.5" stroke="#ff0000" stroke-width="1.8" stroke-dasharray="3.3 4.9"/>
<rect x="981.8" y="604" width="13" height="13" fill="#fff" stroke="#ff0000" stroke-width="1.9"/>
<line x1="979.3" y1="610.5" x2="981.8" y2="610.5" stroke="#ff0000" stroke-width="1.8" />
<line x1="994.8" y1="610.5" x2="997.8" y2="610.5" stroke="#ff0000" stroke-width="1.8" />
<text x="1026.2" y="617.8" font-size="22" fill="#ff0000">V</text>
<text x="1040.4" y="622.8" font-size="15.5" fill="#ff0000">2</text>
<text x="1049.2" y="617.8" font-size="22.6" fill="#ff0000">R</text>
<text x="1065.5" y="607.2" font-size="16.3" fill="#ff0000" textLength="50.7">T360A</text>
<text x="1116.8" y="617.8" font-size="22.6" fill="#ff0000">+Ib30</text>
</g>
<g>
<rect x="169.8" y="1278.43" width="51.6" height="142.07" fill="none" stroke="#0000ff" stroke-width="1.15"/>
<rect x="248.5" y="1231.08" width="51.6" height="189.42" fill="none" stroke="#0000ff" stroke-width="1.15"/>
<rect x="327.3" y="1392.4" width="51.6" height="28.1" fill="none" stroke="#ff0000" stroke-width="1.15"/>
<rect x="406" y="1275.91" width="51.6" height="144.59" fill="none" stroke="#ff0000" stroke-width="1.15"/>
<circle cx="195.8" cy="1267.3" r="6.1" fill="none" stroke="#0000ff" stroke-width="1.9"/>
<circle cx="182.8" cy="1284.75" r="6.1" fill="none" stroke="#0000ff" stroke-width="1.9"/>
<circle cx="208.3" cy="1283.6" r="6.1" fill="none" stroke="#0000ff" stroke-width="1.9"/>
<rect x="268.2" y="1208.4" width="12.4" height="12.4" fill="none" stroke="#0000ff" stroke-width="1.9"/>
<rect x="255.8" y="1237.7" width="12.4" height="12.4" fill="none" stroke="#0000ff" stroke-width="1.9"/>
<rect x="280.7" y="1229.1" width="12.4" height="12.4" fill="none" stroke="#0000ff" stroke-width="1.9"/>
<circle cx="333.2" cy="1395.3" r="6.1" fill="none" stroke="#ff0000" stroke-width="1.9"/>
<circle cx="353.2" cy="1388.8" r="6.1" fill="none" stroke="#ff0000" stroke-width="1.9"/>
<circle cx="373.1" cy="1392.1" r="6.1" fill="none" stroke="#ff0000" stroke-width="1.9"/>
<rect x="425.7" y="1255.7" width="12.4" height="12.4" fill="none" stroke="#ff0000" stroke-width="1.9"/>
<rect x="412.6" y="1279.6" width="12.4" height="12.4" fill="none" stroke="#ff0000" stroke-width="1.9"/>
<rect x="438" y="1276.8" width="12.4" height="12.4" fill="none" stroke="#ff0000" stroke-width="1.9"/>
<line x1="195.6" y1="1273.6" x2="195.6" y2="1284.75" stroke="#0000ff" stroke-width="1.8" />
<line x1="182.8" y1="1273.6" x2="208.4" y2="1273.6" stroke="#0000ff" stroke-width="1.8" />
<line x1="182.8" y1="1284.75" x2="208.4" y2="1284.75" stroke="#0000ff" stroke-width="1.8" />
<line x1="274.3" y1="1222.8" x2="274.3" y2="1240.1" stroke="#0000ff" stroke-width="1.8" />
<line x1="261.5" y1="1222.8" x2="287.1" y2="1222.8" stroke="#0000ff" stroke-width="1.8" />
<line x1="261.5" y1="1240.1" x2="287.1" y2="1240.1" stroke="#0000ff" stroke-width="1.8" />
<line x1="353.1" y1="1390.6" x2="353.1" y2="1394.4" stroke="#ff0000" stroke-width="1.8" />
<line x1="340.3" y1="1390.6" x2="365.9" y2="1390.6" stroke="#ff0000" stroke-width="1.8" />
<line x1="340.3" y1="1394.4" x2="365.9" y2="1394.4" stroke="#ff0000" stroke-width="1.8" />
<line x1="431.8" y1="1269.4" x2="431.8" y2="1284.3" stroke="#ff0000" stroke-width="1.8" />
<line x1="419" y1="1269.4" x2="444.6" y2="1269.4" stroke="#ff0000" stroke-width="1.8" />
<line x1="419" y1="1284.3" x2="444.6" y2="1284.3" stroke="#ff0000" stroke-width="1.8" />
<line x1="157" y1="1167.3" x2="157" y2="1421.5" stroke="#000" stroke-width="2" />
<line x1="156" y1="1420.5" x2="472" y2="1420.5" stroke="#000" stroke-width="2" />
<line x1="148" y1="1420.5" x2="157" y2="1420.5" stroke="#000" stroke-width="1.8" />
<text x="144.8" y="1429.3" font-size="25" text-anchor="end" fill="#000" font-weight="normal" >0.0</text>
<line x1="152" y1="1407.87" x2="157" y2="1407.87" stroke="#000" stroke-width="1.8" />
<line x1="152" y1="1395.24" x2="157" y2="1395.24" stroke="#000" stroke-width="1.8" />
<line x1="152" y1="1382.62" x2="157" y2="1382.62" stroke="#000" stroke-width="1.8" />
<line x1="152" y1="1369.99" x2="157" y2="1369.99" stroke="#000" stroke-width="1.8" />
<line x1="148" y1="1357.36" x2="157" y2="1357.36" stroke="#000" stroke-width="1.8" />
<text x="144.8" y="1366.16" font-size="25" text-anchor="end" fill="#000" font-weight="normal" >0.2</text>
<line x1="152" y1="1344.73" x2="157" y2="1344.73" stroke="#000" stroke-width="1.8" />
<line x1="152" y1="1332.1" x2="157" y2="1332.1" stroke="#000" stroke-width="1.8" />
<line x1="152" y1="1319.48" x2="157" y2="1319.48" stroke="#000" stroke-width="1.8" />
<line x1="152" y1="1306.85" x2="157" y2="1306.85" stroke="#000" stroke-width="1.8" />
<line x1="148" y1="1294.22" x2="157" y2="1294.22" stroke="#000" stroke-width="1.8" />
<text x="144.8" y="1303.02" font-size="25" text-anchor="end" fill="#000" font-weight="normal" >0.4</text>
<line x1="152" y1="1281.59" x2="157" y2="1281.59" stroke="#000" stroke-width="1.8" />
<line x1="152" y1="1268.96" x2="157" y2="1268.96" stroke="#000" stroke-width="1.8" />
<line x1="152" y1="1256.34" x2="157" y2="1256.34" stroke="#000" stroke-width="1.8" />
<line x1="152" y1="1243.71" x2="157" y2="1243.71" stroke="#000" stroke-width="1.8" />
<line x1="148" y1="1231.08" x2="157" y2="1231.08" stroke="#000" stroke-width="1.8" />
<text x="144.8" y="1239.88" font-size="25" text-anchor="end" fill="#000" font-weight="normal" >0.6</text>
<line x1="152" y1="1218.45" x2="157" y2="1218.45" stroke="#000" stroke-width="1.8" />
<line x1="152" y1="1205.82" x2="157" y2="1205.82" stroke="#000" stroke-width="1.8" />
<line x1="152" y1="1193.2" x2="157" y2="1193.2" stroke="#000" stroke-width="1.8" />
<line x1="152" y1="1180.57" x2="157" y2="1180.57" stroke="#000" stroke-width="1.8" />
<line x1="148" y1="1167.94" x2="157" y2="1167.94" stroke="#000" stroke-width="1.8" />
<text x="144.8" y="1176.74" font-size="25" text-anchor="end" fill="#000" font-weight="normal" >0.8</text>
<line x1="195.6" y1="1420.5" x2="195.6" y2="1429.1" stroke="#000" stroke-width="1.8" />
<line x1="274.3" y1="1420.5" x2="274.3" y2="1429.1" stroke="#000" stroke-width="1.8" />
<line x1="353.1" y1="1420.5" x2="353.1" y2="1429.1" stroke="#000" stroke-width="1.8" />
<line x1="431.8" y1="1420.5" x2="431.8" y2="1429.1" stroke="#000" stroke-width="1.8" />
</g>
<text x="97" y="1295" font-size="24.2" text-anchor="middle" fill="#000" font-weight="normal" transform="rotate(-90 97 1295)" textLength="145" lengthAdjust="spacingAndGlyphs">ΔBRET signal</text>
<path d="M193.5 1251.6V1177.3H275.4V1193.7" stroke="#000" stroke-width="1.6" fill="none"/>
<path d="M227.75 1151.9L227.75 1163.9M222.55 1154.9L232.95 1160.9M232.95 1154.9L222.55 1160.9" stroke="#000" stroke-width="2.3" fill="none"/>
<path d="M244.25 1151.9L244.25 1163.9M239.05 1154.9L249.45 1160.9M249.45 1154.9L239.05 1160.9" stroke="#000" stroke-width="2.3" fill="none"/>
<path d="M193.75 1151.25V1136.25H352.5V1151.25" stroke="#000" stroke-width="1.6" fill="none"/>
<path d="M250.25 1111.2L250.25 1123.2M245.05 1114.2L255.45 1120.2M255.45 1114.2L245.05 1120.2" stroke="#000" stroke-width="2.3" fill="none"/>
<path d="M266.75 1111.2L266.75 1123.2M261.55 1114.2L271.95 1120.2M271.95 1114.2L261.55 1120.2" stroke="#000" stroke-width="2.3" fill="none"/>
<path d="M283.25 1111.2L283.25 1123.2M278.05 1114.2L288.45 1120.2M288.45 1114.2L278.05 1120.2" stroke="#000" stroke-width="2.3" fill="none"/>
<path d="M299.75 1111.2L299.75 1123.2M294.55 1114.2L304.95 1120.2M304.95 1114.2L294.55 1120.2" stroke="#000" stroke-width="2.3" fill="none"/>
<path d="M275.5 1100.75V1085.5H434.5V1100.75" stroke="#000" stroke-width="1.6" fill="none"/>
<path d="M348.35 1060.3L348.35 1072.3M343.15 1063.3L353.55 1069.3M353.55 1063.3L343.15 1069.3" stroke="#000" stroke-width="2.3" fill="none"/>
<path d="M364.85 1060.3L364.85 1072.3M359.65 1063.3L370.05 1069.3M370.05 1063.3L359.65 1069.3" stroke="#000" stroke-width="2.3" fill="none"/>
<path d="M358.8 1329.4V1230.6H431.5V1248" stroke="#000" stroke-width="1.6" fill="none"/>
<path d="M372.25 1205.6L372.25 1217.6M367.05 1208.6L377.45 1214.6M377.45 1208.6L367.05 1214.6" stroke="#000" stroke-width="2.3" fill="none"/>
<path d="M388.75 1205.6L388.75 1217.6M383.55 1208.6L393.95 1214.6M393.95 1208.6L383.55 1214.6" stroke="#000" stroke-width="2.3" fill="none"/>
<path d="M405.25 1205.6L405.25 1217.6M400.05 1208.6L410.45 1214.6M410.45 1208.6L400.05 1214.6" stroke="#000" stroke-width="2.3" fill="none"/>
<path d="M421.75 1205.6L421.75 1217.6M416.55 1208.6L426.95 1214.6M426.95 1208.6L416.55 1214.6" stroke="#000" stroke-width="2.3" fill="none"/>
<text x="76.8" y="1465.7" font-size="24" text-anchor="start" fill="#000" font-weight="normal" textLength="67.5" lengthAdjust="spacingAndGlyphs">Ib-CTL</text>
<text x="76.8" y="1495.6" font-size="23.5" text-anchor="start" fill="#000" font-weight="normal" textLength="41.5" lengthAdjust="spacingAndGlyphs">Ib30</text>
<line x1="190.8" y1="1452.1" x2="202" y2="1452.1" stroke="#000" stroke-width="1.6" />
<line x1="196.4" y1="1446.5" x2="196.4" y2="1457.7" stroke="#000" stroke-width="1.6" />
<line x1="192.75" y1="1485.3" x2="200.05" y2="1485.3" stroke="#000" stroke-width="1.6" />
<line x1="271.45" y1="1452.1" x2="278.75" y2="1452.1" stroke="#000" stroke-width="1.6" />
<line x1="270.3" y1="1484" x2="281.5" y2="1484" stroke="#000" stroke-width="1.6" />
<line x1="275.9" y1="1478.4" x2="275.9" y2="1489.6" stroke="#000" stroke-width="1.6" />
<line x1="348.3" y1="1452.1" x2="359.5" y2="1452.1" stroke="#000" stroke-width="1.6" />
<line x1="353.9" y1="1446.5" x2="353.9" y2="1457.7" stroke="#000" stroke-width="1.6" />
<line x1="350.25" y1="1485.3" x2="357.55" y2="1485.3" stroke="#000" stroke-width="1.6" />
<line x1="428.95" y1="1452.1" x2="436.25" y2="1452.1" stroke="#000" stroke-width="1.6" />
<line x1="427.8" y1="1484" x2="439" y2="1484" stroke="#000" stroke-width="1.6" />
<line x1="433.4" y1="1478.4" x2="433.4" y2="1489.6" stroke="#000" stroke-width="1.6" />
<line x1="169.5" y1="1508.6" x2="301.5" y2="1508.6" stroke="#000" stroke-width="1.8" />
<line x1="169.5" y1="1501.6" x2="169.5" y2="1514.6" stroke="#000" stroke-width="1.8" />
<line x1="301.5" y1="1501.6" x2="301.5" y2="1514.6" stroke="#000" stroke-width="1.8" />
<line x1="327.75" y1="1508.6" x2="459" y2="1508.6" stroke="#000" stroke-width="1.8" />
<line x1="327.75" y1="1501.6" x2="327.75" y2="1514.6" stroke="#000" stroke-width="1.8" />
<line x1="459" y1="1501.6" x2="459" y2="1514.6" stroke="#000" stroke-width="1.8" />
<text x="207.4" y="1548.2" font-size="24" fill="#000">V</text>
<text x="222.1" y="1553.5" font-size="16.6" fill="#000">2</text>
<text x="230.8" y="1548.2" font-size="24" fill="#000">R</text>
<text x="248.6" y="1537" font-size="17.3" fill="#000" textLength="24.2" lengthAdjust="spacingAndGlyphs">WT</text>
<text x="359.4" y="1548.2" font-size="24" fill="#000">V</text>
<text x="374.1" y="1553.5" font-size="16.6" fill="#000">2</text>
<text x="382.8" y="1548.2" font-size="24" fill="#000">R</text>
<text x="400.6" y="1537" font-size="17.3" fill="#000" textLength="50.6" lengthAdjust="spacingAndGlyphs">T360A</text>
<g>
<rect x="818" y="1263.3" width="52.2" height="158" fill="none" stroke="#0000ff" stroke-width="1.15"/>
<rect x="896.5" y="1268.36" width="52.2" height="152.94" fill="none" stroke="#0000ff" stroke-width="1.15"/>
<rect x="975.5" y="1347.99" width="52.2" height="73.31" fill="none" stroke="#ff0000" stroke-width="1.15"/>
<rect x="1054" y="1280.36" width="52.2" height="140.94" fill="none" stroke="#ff0000" stroke-width="1.15"/>
<circle cx="824.1" cy="1264.1" r="5.6" fill="none" stroke="#0000ff" stroke-width="1.9"/>
<circle cx="834.2" cy="1264.1" r="5.6" fill="none" stroke="#0000ff" stroke-width="1.9"/>
<circle cx="844.1" cy="1264.1" r="5.6" fill="none" stroke="#0000ff" stroke-width="1.9"/>
<circle cx="854.3" cy="1264.1" r="5.6" fill="none" stroke="#0000ff" stroke-width="1.9"/>
<circle cx="864.6" cy="1264.1" r="5.6" fill="none" stroke="#0000ff" stroke-width="1.9"/>
<rect x="916.4" y="1198.8" width="12.4" height="12.4" fill="none" stroke="#0000ff" stroke-width="1.9"/>
<rect x="896.8" y="1285.4" width="12.4" height="12.4" fill="none" stroke="#0000ff" stroke-width="1.9"/>
<rect x="916.4" y="1276.8" width="12.4" height="12.4" fill="none" stroke="#0000ff" stroke-width="1.9"/>
<rect x="936.4" y="1266.2" width="12.4" height="12.4" fill="none" stroke="#0000ff" stroke-width="1.9"/>
<rect x="936.4" y="1281.4" width="12.4" height="12.4" fill="none" stroke="#0000ff" stroke-width="1.9"/>
<circle cx="1001.6" cy="1314" r="5.6" fill="none" stroke="#ff0000" stroke-width="1.9"/>
<circle cx="1001.6" cy="1331.6" r="5.6" fill="none" stroke="#ff0000" stroke-width="1.9"/>
<circle cx="989" cy="1355.4" r="5.6" fill="none" stroke="#ff0000" stroke-width="1.9"/>
<circle cx="1014.4" cy="1360" r="5.6" fill="none" stroke="#ff0000" stroke-width="1.9"/>
<circle cx="1001.6" cy="1377" r="5.6" fill="none" stroke="#ff0000" stroke-width="1.9"/>
<rect x="1064.4" y="1242.8" width="12.4" height="12.4" fill="none" stroke="#ff0000" stroke-width="1.9"/>
<rect x="1083.8" y="1244.4" width="12.4" height="12.4" fill="none" stroke="#ff0000" stroke-width="1.9"/>
<rect x="1054.4" y="1298.2" width="12.4" height="12.4" fill="none" stroke="#ff0000" stroke-width="1.9"/>
<rect x="1073.8" y="1289.2" width="12.4" height="12.4" fill="none" stroke="#ff0000" stroke-width="1.9"/>
<rect x="1093.8" y="1294.8" width="12.4" height="12.4" fill="none" stroke="#ff0000" stroke-width="1.9"/>
<line x1="844.1" y1="1264.1" x2="844.1" y2="1264.1" stroke="#0000ff" stroke-width="1.8" />
<line x1="831.3" y1="1264.1" x2="856.9" y2="1264.1" stroke="#0000ff" stroke-width="1.8" />
<line x1="831.3" y1="1264.1" x2="856.9" y2="1264.1" stroke="#0000ff" stroke-width="1.8" />
<line x1="922.6" y1="1252" x2="922.6" y2="1283.6" stroke="#0000ff" stroke-width="1.8" />
<line x1="909.8" y1="1252" x2="935.4" y2="1252" stroke="#0000ff" stroke-width="1.8" />
<line x1="909.8" y1="1283.6" x2="935.4" y2="1283.6" stroke="#0000ff" stroke-width="1.8" />
<line x1="1001.6" y1="1336.6" x2="1001.6" y2="1359" stroke="#ff0000" stroke-width="1.8" />
<line x1="988.8" y1="1336.6" x2="1014.4" y2="1336.6" stroke="#ff0000" stroke-width="1.8" />
<line x1="988.8" y1="1359" x2="1014.4" y2="1359" stroke="#ff0000" stroke-width="1.8" />
<line x1="1080.1" y1="1267.6" x2="1080.1" y2="1292" stroke="#ff0000" stroke-width="1.8" />
<line x1="1067.3" y1="1267.6" x2="1092.9" y2="1267.6" stroke="#ff0000" stroke-width="1.8" />
<line x1="1067.3" y1="1292" x2="1092.9" y2="1292" stroke="#ff0000" stroke-width="1.8" />
<line x1="804.5" y1="1167.7" x2="804.5" y2="1422.3" stroke="#000" stroke-width="2" />
<line x1="803.5" y1="1421.3" x2="1120" y2="1421.3" stroke="#000" stroke-width="2" />
<line x1="795.5" y1="1421.3" x2="804.5" y2="1421.3" stroke="#000" stroke-width="1.8" />
<text x="792.3" y="1430.1" font-size="25" text-anchor="end" fill="#000" font-weight="normal" >0</text>
<line x1="799.5" y1="1408.66" x2="804.5" y2="1408.66" stroke="#000" stroke-width="1.8" />
<line x1="799.5" y1="1396.02" x2="804.5" y2="1396.02" stroke="#000" stroke-width="1.8" />
<line x1="799.5" y1="1383.38" x2="804.5" y2="1383.38" stroke="#000" stroke-width="1.8" />
<line x1="799.5" y1="1370.74" x2="804.5" y2="1370.74" stroke="#000" stroke-width="1.8" />
<line x1="795.5" y1="1358.1" x2="804.5" y2="1358.1" stroke="#000" stroke-width="1.8" />
<text x="792.3" y="1366.9" font-size="25" text-anchor="end" fill="#000" font-weight="normal" >40</text>
<line x1="799.5" y1="1345.46" x2="804.5" y2="1345.46" stroke="#000" stroke-width="1.8" />
<line x1="799.5" y1="1332.82" x2="804.5" y2="1332.82" stroke="#000" stroke-width="1.8" />
<line x1="799.5" y1="1320.18" x2="804.5" y2="1320.18" stroke="#000" stroke-width="1.8" />
<line x1="799.5" y1="1307.54" x2="804.5" y2="1307.54" stroke="#000" stroke-width="1.8" />
<line x1="795.5" y1="1294.9" x2="804.5" y2="1294.9" stroke="#000" stroke-width="1.8" />
<text x="792.3" y="1303.7" font-size="25" text-anchor="end" fill="#000" font-weight="normal" >80</text>
<line x1="799.5" y1="1282.26" x2="804.5" y2="1282.26" stroke="#000" stroke-width="1.8" />
<line x1="799.5" y1="1269.62" x2="804.5" y2="1269.62" stroke="#000" stroke-width="1.8" />
<line x1="799.5" y1="1256.98" x2="804.5" y2="1256.98" stroke="#000" stroke-width="1.8" />
<line x1="799.5" y1="1244.34" x2="804.5" y2="1244.34" stroke="#000" stroke-width="1.8" />
<line x1="795.5" y1="1231.7" x2="804.5" y2="1231.7" stroke="#000" stroke-width="1.8" />
<text x="792.3" y="1240.5" font-size="25" text-anchor="end" fill="#000" font-weight="normal" >120</text>
<line x1="799.5" y1="1219.06" x2="804.5" y2="1219.06" stroke="#000" stroke-width="1.8" />
<line x1="799.5" y1="1206.42" x2="804.5" y2="1206.42" stroke="#000" stroke-width="1.8" />
<line x1="799.5" y1="1193.78" x2="804.5" y2="1193.78" stroke="#000" stroke-width="1.8" />
<line x1="799.5" y1="1181.14" x2="804.5" y2="1181.14" stroke="#000" stroke-width="1.8" />
<line x1="795.5" y1="1168.5" x2="804.5" y2="1168.5" stroke="#000" stroke-width="1.8" />
<text x="792.3" y="1177.3" font-size="25" text-anchor="end" fill="#000" font-weight="normal" >160</text>
<line x1="844.1" y1="1421.3" x2="844.1" y2="1429.9" stroke="#000" stroke-width="1.8" />
<line x1="922.6" y1="1421.3" x2="922.6" y2="1429.9" stroke="#000" stroke-width="1.8" />
<line x1="1001.6" y1="1421.3" x2="1001.6" y2="1429.9" stroke="#000" stroke-width="1.8" />
<line x1="1080.1" y1="1421.3" x2="1080.1" y2="1429.9" stroke="#000" stroke-width="1.8" />
</g>
<text x="708.9" y="1296" font-size="24.2" text-anchor="middle" fill="#000" font-weight="normal" transform="rotate(-90 708.9 1296)" textLength="148" lengthAdjust="spacingAndGlyphs">Maximal signal</text>
<text x="736.8" y="1295.6" font-size="24.2" text-anchor="middle" fill="#000" font-weight="normal" transform="rotate(-90 736.8 1295.6)" textLength="149.5" lengthAdjust="spacingAndGlyphs">(% normalzed)</text>
<path d="M844 1235.8V1180H924V1189" stroke="#000" stroke-width="1.6" fill="none"/>
<text x="884" y="1166" font-size="19" text-anchor="middle" fill="#000" font-weight="normal" >ns</text>
<path d="M842.6 1152V1137.5H1000.8V1152" stroke="#000" stroke-width="1.6" fill="none"/>
<path d="M906.8 1112.2L906.8 1124.2M901.6 1115.2L912 1121.2M912 1115.2L901.6 1121.2" stroke="#000" stroke-width="2.3" fill="none"/>
<path d="M923.3 1112.2L923.3 1124.2M918.1 1115.2L928.5 1121.2M928.5 1115.2L918.1 1121.2" stroke="#000" stroke-width="2.3" fill="none"/>
<path d="M939.8 1112.2L939.8 1124.2M934.6 1115.2L945 1121.2M945 1115.2L934.6 1121.2" stroke="#000" stroke-width="2.3" fill="none"/>
<path d="M923.8 1101.8V1086.7H1083.2V1101.8" stroke="#000" stroke-width="1.6" fill="none"/>
<text x="1003.5" y="1072.7" font-size="19" text-anchor="middle" fill="#000" font-weight="normal" >ns</text>
<path d="M1003.4 1284V1202.4H1080.4V1220" stroke="#000" stroke-width="1.6" fill="none"/>
<path d="M1034.75 1177L1034.75 1189M1029.55 1180L1039.95 1186M1039.95 1180L1029.55 1186" stroke="#000" stroke-width="2.3" fill="none"/>
<path d="M1051.25 1177L1051.25 1189M1046.05 1180L1056.45 1186M1056.45 1180L1046.05 1186" stroke="#000" stroke-width="2.3" fill="none"/>
<text x="725.2" y="1465.7" font-size="24" text-anchor="start" fill="#000" font-weight="normal" textLength="67.5" lengthAdjust="spacingAndGlyphs">Ib-CTL</text>
<text x="725.2" y="1495.6" font-size="23.5" text-anchor="start" fill="#000" font-weight="normal" textLength="41.5" lengthAdjust="spacingAndGlyphs">Ib30</text>
<line x1="839.3" y1="1452.1" x2="850.5" y2="1452.1" stroke="#000" stroke-width="1.6" />
<line x1="844.9" y1="1446.5" x2="844.9" y2="1457.7" stroke="#000" stroke-width="1.6" />
<line x1="841.25" y1="1485.3" x2="848.55" y2="1485.3" stroke="#000" stroke-width="1.6" />
<line x1="919.75" y1="1452.1" x2="927.05" y2="1452.1" stroke="#000" stroke-width="1.6" />
<line x1="918.6" y1="1484" x2="929.8" y2="1484" stroke="#000" stroke-width="1.6" />
<line x1="924.2" y1="1478.4" x2="924.2" y2="1489.6" stroke="#000" stroke-width="1.6" />
<line x1="996.8" y1="1452.1" x2="1008" y2="1452.1" stroke="#000" stroke-width="1.6" />
<line x1="1002.4" y1="1446.5" x2="1002.4" y2="1457.7" stroke="#000" stroke-width="1.6" />
<line x1="998.75" y1="1485.3" x2="1006.05" y2="1485.3" stroke="#000" stroke-width="1.6" />
<line x1="1077.25" y1="1452.1" x2="1084.55" y2="1452.1" stroke="#000" stroke-width="1.6" />
<line x1="1076.1" y1="1484" x2="1087.3" y2="1484" stroke="#000" stroke-width="1.6" />
<line x1="1081.7" y1="1478.4" x2="1081.7" y2="1489.6" stroke="#000" stroke-width="1.6" />
<line x1="818" y1="1509.25" x2="950.3" y2="1509.25" stroke="#000" stroke-width="1.8" />
<line x1="818" y1="1502.25" x2="818" y2="1515.25" stroke="#000" stroke-width="1.8" />
<line x1="950.3" y1="1502.25" x2="950.3" y2="1515.25" stroke="#000" stroke-width="1.8" />
<line x1="976.5" y1="1509.25" x2="1107.8" y2="1509.25" stroke="#000" stroke-width="1.8" />
<line x1="976.5" y1="1502.25" x2="976.5" y2="1515.25" stroke="#000" stroke-width="1.8" />
<line x1="1107.8" y1="1502.25" x2="1107.8" y2="1515.25" stroke="#000" stroke-width="1.8" />
<text x="855.3" y="1548.2" font-size="24" fill="#000">V</text>
<text x="870" y="1553.5" font-size="16.6" fill="#000">2</text>
<text x="878.7" y="1548.2" font-size="24" fill="#000">R</text>
<text x="896.5" y="1537" font-size="17.3" fill="#000" textLength="24.2" lengthAdjust="spacingAndGlyphs">WT</text>
<text x="1008.1" y="1548.2" font-size="24" fill="#000">V</text>
<text x="1022.8" y="1553.5" font-size="16.6" fill="#000">2</text>
<text x="1031.5" y="1548.2" font-size="24" fill="#000">R</text>
<text x="1049.3" y="1537" font-size="17.3" fill="#000" textLength="50.6" lengthAdjust="spacingAndGlyphs">T360A</text>
<defs>
<linearGradient id="gCyanR" x1="0" x2="1" y1="0" y2="0"><stop offset="0" stop-color="#15b9c9"/><stop offset="1" stop-color="#e6f8fa"/></linearGradient>
<linearGradient id="gCyanL" x1="0" x2="1" y1="0" y2="0"><stop offset="0" stop-color="#e6f8fa"/><stop offset="1" stop-color="#15b9c9"/></linearGradient>
<linearGradient id="gRFP" x1="0" x2="1" y1="0" y2="0"><stop offset="0" stop-color="#ee1f3a"/><stop offset="1" stop-color="#7b35c9"/></linearGradient>
<radialGradient id="gAgo" cx="0.4" cy="0.35" r="0.65"><stop offset="0" stop-color="#b52a2a"/><stop offset="0.7" stop-color="#a12222"/><stop offset="1" stop-color="#8a1a1a"/></radialGradient>
<linearGradient id="gArrowR" x1="0" x2="1" y1="0" y2="0"><stop offset="0" stop-color="#222" stop-opacity="0"/><stop offset="0.35" stop-color="#222"/><stop offset="1" stop-color="#222"/></linearGradient>
<linearGradient id="gArrowL" x1="0" x2="1" y1="0" y2="0"><stop offset="0" stop-color="#222"/><stop offset="0.65" stop-color="#222"/><stop offset="1" stop-color="#222" stop-opacity="0"/></linearGradient>
<radialGradient id="gGlowG"><stop offset="0.45" stop-color="#8ef07a" stop-opacity="0.85"/><stop offset="1" stop-color="#8ef07a" stop-opacity="0"/></radialGradient>
<radialGradient id="gGlowY"><stop offset="0.45" stop-color="#fff08a" stop-opacity="0.9"/><stop offset="1" stop-color="#fff08a" stop-opacity="0"/></radialGradient>
<path id="arrestin" d="M94.8 193.8C92.5 193.8 91 194 89.2 194.5C86 196 84 198 82.8 199.8C80.5 203 79.5 205 79.6 206.9C79.4 209.5 79.6 212 80.3 214C81.2 217 82.5 219 84.2 220.4C86.5 222.6 89 224 91.3 225.3C94 226.8 96.5 228 98.4 228.9C100.5 229.6 102 229.9 103.3 229.9L106.5 229.6L109 230.6L133.1 230.6C134.5 229.8 135.5 229 136.6 228.2L143 221.8L149.4 215.4C151 213.5 152.3 212 152.9 210.5C153.8 208.8 154 207.5 153.6 206.2C153 204 152 202.8 150.8 202C149 200.8 147.5 200.5 145.8 200.5C143.5 200.5 141.7 201 140.2 201.6C138 202.6 136.5 204 135.2 205.5C133.8 207.3 132.8 209.5 131.7 210.5C130.8 211.3 129.8 211.6 128.8 211.5C127.8 211.3 126.8 210.9 126 210.5C124.5 209.2 123 207.3 121.7 205.5C120.5 203.8 119.5 202 118.2 200.9L119.5 195.5L121 188.8C121.1 188 120.6 187.6 120 187.5L112.6 185.4C111.9 185.2 111.5 185.6 111.3 186.3L108.3 198.1C107.5 199.8 106.8 202.5 106 204.6C104.5 205.6 102.8 205.4 101.2 205.1C99.2 204.3 97.8 203.3 97 202C96 200.5 95.4 199 95.2 197.7C94.9 196.2 94.9 195 94.8 193.8Z"/>
<path id="arrestinSeam" d="M108.3 206.2C107.2 207 106.6 207.8 106.5 208.7C106.4 209.8 106.6 210.6 106.9 211.2C107.5 212.2 108.2 212.8 109 213.3C110.5 214 112 214.5 113.2 215.4C113.9 216.5 114 218.3 113.6 219.7C112.8 221.5 111.8 222.5 110.4 223.2C108.8 224 107.5 224.5 106.9 225.3C106.6 226.5 106.6 228 107 229.6M108.3 206.2C109.5 204 110.8 202 112.5 200.5C113.3 199.9 114 199.7 114.7 199.8C116 199.9 117.2 200.3 118.2 200.9" fill="none"/>
<path id="arrestinShade" d="M80.3 214C81.2 217 82.5 219 84.2 220.4C86.5 222.6 89 224 91.3 225.3C94 226.8 96.5 228 98.4 228.9C100.5 229.6 102 229.9 103.3 229.9L106.5 229.6L107 225.3C103 223 99 222 95 222C90 222 86 220 82 216Z"/>
</defs>
<g>
<rect x="7" y="124" width="543" height="342" fill="#e7e8eb"/>
<rect x="5.92" y="87" width="544.63" height="36.1" fill="#fff"/>
<path d="M8.97 89L7.27 103.55M10.77 89L12.27 103.55M8.97 121.1L7.27 106.55M10.77 121.1L12.27 106.55M17.1 89L15.4 103.55M18.9 89L20.4 103.55M17.1 121.1L15.4 106.55M18.9 121.1L20.4 106.55M25.23 89L23.53 103.55M27.03 89L28.53 103.55M25.23 121.1L23.53 106.55M27.03 121.1L28.53 106.55M33.36 89L31.66 103.55M35.16 89L36.66 103.55M33.36 121.1L31.66 106.55M35.16 121.1L36.66 106.55M41.49 89L39.79 103.55M43.29 89L44.79 103.55M41.49 121.1L39.79 106.55M43.29 121.1L44.79 106.55M49.62 89L47.92 103.55M51.42 89L52.92 103.55M49.62 121.1L47.92 106.55M51.42 121.1L52.92 106.55M57.75 89L56.05 103.55M59.55 89L61.05 103.55M57.75 121.1L56.05 106.55M59.55 121.1L61.05 106.55M65.88 89L64.18 103.55M67.68 89L69.18 103.55M65.88 121.1L64.18 106.55M67.68 121.1L69.18 106.55M74.01 89L72.31 103.55M75.81 89L77.31 103.55M74.01 121.1L72.31 106.55M75.81 121.1L77.31 106.55M82.14 89L80.44 103.55M83.94 89L85.44 103.55M82.14 121.1L80.44 106.55M83.94 121.1L85.44 106.55M90.27 89L88.57 103.55M92.07 89L93.57 103.55M90.27 121.1L88.57 106.55M92.07 121.1L93.57 106.55M98.4 89L96.7 103.55M100.2 89L101.7 103.55M98.4 121.1L96.7 106.55M100.2 121.1L101.7 106.55M106.53 89L104.83 103.55M108.33 89L109.83 103.55M106.53 121.1L104.83 106.55M108.33 121.1L109.83 106.55M114.66 89L112.96 103.55M116.46 89L117.96 103.55M114.66 121.1L112.96 106.55M116.46 121.1L117.96 106.55M122.79 89L121.09 103.55M124.59 89L126.09 103.55M122.79 121.1L121.09 106.55M124.59 121.1L126.09 106.55M130.92 89L129.22 103.55M132.72 89L134.22 103.55M130.92 121.1L129.22 106.55M132.72 121.1L134.22 106.55M139.05 89L137.35 103.55M140.85 89L142.35 103.55M139.05 121.1L137.35 106.55M140.85 121.1L142.35 106.55M147.18 89L145.48 103.55M148.98 89L150.48 103.55M147.18 121.1L145.48 106.55M148.98 121.1L150.48 106.55M155.31 89L153.61 103.55M157.11 89L158.61 103.55M155.31 121.1L153.61 106.55M157.11 121.1L158.61 106.55M163.44 89L161.74 103.55M165.24 89L166.74 103.55M163.44 121.1L161.74 106.55M165.24 121.1L166.74 106.55M171.57 89L169.87 103.55M173.37 89L174.87 103.55M171.57 121.1L169.87 106.55M173.37 121.1L174.87 106.55M179.7 89L178 103.55M181.5 89L183 103.55M179.7 121.1L178 106.55M181.5 121.1L183 106.55M187.83 89L186.13 103.55M189.63 89L191.13 103.55M187.83 121.1L186.13 106.55M189.63 121.1L191.13 106.55M195.96 89L194.26 103.55M197.76 89L199.26 103.55M195.96 121.1L194.26 106.55M197.76 121.1L199.26 106.55M204.09 89L202.39 103.55M205.89 89L207.39 103.55M204.09 121.1L202.39 106.55M205.89 121.1L207.39 106.55M212.22 89L210.52 103.55M214.02 89L215.52 103.55M212.22 121.1L210.52 106.55M214.02 121.1L215.52 106.55M220.35 89L218.65 103.55M222.15 89L223.65 103.55M220.35 121.1L218.65 106.55M222.15 121.1L223.65 106.55M228.48 89L226.78 103.55M230.28 89L231.78 103.55M228.48 121.1L226.78 106.55M230.28 121.1L231.78 106.55M236.61 89L234.91 103.55M238.41 89L239.91 103.55M236.61 121.1L234.91 106.55M238.41 121.1L239.91 106.55M244.74 89L243.04 103.55M246.54 89L248.04 103.55M244.74 121.1L243.04 106.55M246.54 121.1L248.04 106.55M252.87 89L251.17 103.55M254.67 89L256.17 103.55M252.87 121.1L251.17 106.55M254.67 121.1L256.17 106.55M261 89L259.3 103.55M262.8 89L264.3 103.55M261 121.1L259.3 106.55M262.8 121.1L264.3 106.55M269.13 89L267.43 103.55M270.93 89L272.43 103.55M269.13 121.1L267.43 106.55M270.93 121.1L272.43 106.55M277.26 89L275.56 103.55M279.06 89L280.56 103.55M277.26 121.1L275.56 106.55M279.06 121.1L280.56 106.55M285.39 89L283.69 103.55M287.19 89L288.69 103.55M285.39 121.1L283.69 106.55M287.19 121.1L288.69 106.55M293.52 89L291.82 103.55M295.32 89L296.82 103.55M293.52 121.1L291.82 106.55M295.32 121.1L296.82 106.55M301.65 89L299.95 103.55M303.45 89L304.95 103.55M301.65 121.1L299.95 106.55M303.45 121.1L304.95 106.55M309.78 89L308.08 103.55M311.58 89L313.08 103.55M309.78 121.1L308.08 106.55M311.58 121.1L313.08 106.55M317.91 89L316.21 103.55M319.71 89L321.21 103.55M317.91 121.1L316.21 106.55M319.71 121.1L321.21 106.55M326.04 89L324.34 103.55M327.84 89L329.34 103.55M326.04 121.1L324.34 106.55M327.84 121.1L329.34 106.55M334.17 89L332.47 103.55M335.97 89L337.47 103.55M334.17 121.1L332.47 106.55M335.97 121.1L337.47 106.55M342.3 89L340.6 103.55M344.1 89L345.6 103.55M342.3 121.1L340.6 106.55M344.1 121.1L345.6 106.55M350.43 89L348.73 103.55M352.23 89L353.73 103.55M350.43 121.1L348.73 106.55M352.23 121.1L353.73 106.55M358.56 89L356.86 103.55M360.36 89L361.86 103.55M358.56 121.1L356.86 106.55M360.36 121.1L361.86 106.55M366.69 89L364.99 103.55M368.49 89L369.99 103.55M366.69 121.1L364.99 106.55M368.49 121.1L369.99 106.55M374.82 89L373.12 103.55M376.62 89L378.12 103.55M374.82 121.1L373.12 106.55M376.62 121.1L378.12 106.55M382.95 89L381.25 103.55M384.75 89L386.25 103.55M382.95 121.1L381.25 106.55M384.75 121.1L386.25 106.55M391.08 89L389.38 103.55M392.88 89L394.38 103.55M391.08 121.1L389.38 106.55M392.88 121.1L394.38 106.55M399.21 89L397.51 103.55M401.01 89L402.51 103.55M399.21 121.1L397.51 106.55M401.01 121.1L402.51 106.55M407.34 89L405.64 103.55M409.14 89L410.64 103.55M407.34 121.1L405.64 106.55M409.14 121.1L410.64 106.55M415.47 89L413.77 103.55M417.27 89L418.77 103.55M415.47 121.1L413.77 106.55M417.27 121.1L418.77 106.55M423.6 89L421.9 103.55M425.4 89L426.9 103.55M423.6 121.1L421.9 106.55M425.4 121.1L426.9 106.55M431.73 89L430.03 103.55M433.53 89L435.03 103.55M431.73 121.1L430.03 106.55M433.53 121.1L435.03 106.55M439.86 89L438.16 103.55M441.66 89L443.16 103.55M439.86 121.1L438.16 106.55M441.66 121.1L443.16 106.55M447.99 89L446.29 103.55M449.79 89L451.29 103.55M447.99 121.1L446.29 106.55M449.79 121.1L451.29 106.55M456.12 89L454.42 103.55M457.92 89L459.42 103.55M456.12 121.1L454.42 106.55M457.92 121.1L459.42 106.55M464.25 89L462.55 103.55M466.05 89L467.55 103.55M464.25 121.1L462.55 106.55M466.05 121.1L467.55 106.55M472.38 89L470.68 103.55M474.18 89L475.68 103.55M472.38 121.1L470.68 106.55M474.18 121.1L475.68 106.55M480.51 89L478.81 103.55M482.31 89L483.81 103.55M480.51 121.1L478.81 106.55M482.31 121.1L483.81 106.55M488.64 89L486.94 103.55M490.44 89L491.94 103.55M488.64 121.1L486.94 106.55M490.44 121.1L491.94 106.55M496.77 89L495.07 103.55M498.57 89L500.07 103.55M496.77 121.1L495.07 106.55M498.57 121.1L500.07 106.55M504.9 89L503.2 103.55M506.7 89L508.2 103.55M504.9 121.1L503.2 106.55M506.7 121.1L508.2 106.55M513.03 89L511.33 103.55M514.83 89L516.33 103.55M513.03 121.1L511.33 106.55M514.83 121.1L516.33 106.55M521.16 89L519.46 103.55M522.96 89L524.46 103.55M521.16 121.1L519.46 106.55M522.96 121.1L524.46 106.55M529.29 89L527.59 103.55M531.09 89L532.59 103.55M529.29 121.1L527.59 106.55M531.09 121.1L532.59 106.55M537.42 89L535.72 103.55M539.22 89L540.72 103.55M537.42 121.1L535.72 106.55M539.22 121.1L540.72 106.55M545.55 89L543.85 103.55M547.35 89L548.85 103.55M545.55 121.1L543.85 106.55M547.35 121.1L548.85 106.55" stroke="#9c9c9c" stroke-width="1.3" fill="none"/>
<g fill="#626262"><circle cx="9.87" cy="87" r="3.95"/><circle cx="9.87" cy="123.1" r="3.95"/><circle cx="18" cy="87" r="3.95"/><circle cx="18" cy="123.1" r="3.95"/><circle cx="26.13" cy="87" r="3.95"/><circle cx="26.13" cy="123.1" r="3.95"/><circle cx="34.26" cy="87" r="3.95"/><circle cx="34.26" cy="123.1" r="3.95"/><circle cx="42.39" cy="87" r="3.95"/><circle cx="42.39" cy="123.1" r="3.95"/><circle cx="50.52" cy="87" r="3.95"/><circle cx="50.52" cy="123.1" r="3.95"/><circle cx="58.65" cy="87" r="3.95"/><circle cx="58.65" cy="123.1" r="3.95"/><circle cx="66.78" cy="87" r="3.95"/><circle cx="66.78" cy="123.1" r="3.95"/><circle cx="74.91" cy="87" r="3.95"/><circle cx="74.91" cy="123.1" r="3.95"/><circle cx="83.04" cy="87" r="3.95"/><circle cx="83.04" cy="123.1" r="3.95"/><circle cx="91.17" cy="87" r="3.95"/><circle cx="91.17" cy="123.1" r="3.95"/><circle cx="99.3" cy="87" r="3.95"/><circle cx="99.3" cy="123.1" r="3.95"/><circle cx="107.43" cy="87" r="3.95"/><circle cx="107.43" cy="123.1" r="3.95"/><circle cx="115.56" cy="87" r="3.95"/><circle cx="115.56" cy="123.1" r="3.95"/><circle cx="123.69" cy="87" r="3.95"/><circle cx="123.69" cy="123.1" r="3.95"/><circle cx="131.82" cy="87" r="3.95"/><circle cx="131.82" cy="123.1" r="3.95"/><circle cx="139.95" cy="87" r="3.95"/><circle cx="139.95" cy="123.1" r="3.95"/><circle cx="148.08" cy="87" r="3.95"/><circle cx="148.08" cy="123.1" r="3.95"/><circle cx="156.21" cy="87" r="3.95"/><circle cx="156.21" cy="123.1" r="3.95"/><circle cx="164.34" cy="87" r="3.95"/><circle cx="164.34" cy="123.1" r="3.95"/><circle cx="172.47" cy="87" r="3.95"/><circle cx="172.47" cy="123.1" r="3.95"/><circle cx="180.6" cy="87" r="3.95"/><circle cx="180.6" cy="123.1" r="3.95"/><circle cx="188.73" cy="87" r="3.95"/><circle cx="188.73" cy="123.1" r="3.95"/><circle cx="196.86" cy="87" r="3.95"/><circle cx="196.86" cy="123.1" r="3.95"/><circle cx="204.99" cy="87" r="3.95"/><circle cx="204.99" cy="123.1" r="3.95"/><circle cx="213.12" cy="87" r="3.95"/><circle cx="213.12" cy="123.1" r="3.95"/><circle cx="221.25" cy="87" r="3.95"/><circle cx="221.25" cy="123.1" r="3.95"/><circle cx="229.38" cy="87" r="3.95"/><circle cx="229.38" cy="123.1" r="3.95"/><circle cx="237.51" cy="87" r="3.95"/><circle cx="237.51" cy="123.1" r="3.95"/><circle cx="245.64" cy="87" r="3.95"/><circle cx="245.64" cy="123.1" r="3.95"/><circle cx="253.77" cy="87" r="3.95"/><circle cx="253.77" cy="123.1" r="3.95"/><circle cx="261.9" cy="87" r="3.95"/><circle cx="261.9" cy="123.1" r="3.95"/><circle cx="270.03" cy="87" r="3.95"/><circle cx="270.03" cy="123.1" r="3.95"/><circle cx="278.16" cy="87" r="3.95"/><circle cx="278.16" cy="123.1" r="3.95"/><circle cx="286.29" cy="87" r="3.95"/><circle cx="286.29" cy="123.1" r="3.95"/><circle cx="294.42" cy="87" r="3.95"/><circle cx="294.42" cy="123.1" r="3.95"/><circle cx="302.55" cy="87" r="3.95"/><circle cx="302.55" cy="123.1" r="3.95"/><circle cx="310.68" cy="87" r="3.95"/><circle cx="310.68" cy="123.1" r="3.95"/><circle cx="318.81" cy="87" r="3.95"/><circle cx="318.81" cy="123.1" r="3.95"/><circle cx="326.94" cy="87" r="3.95"/><circle cx="326.94" cy="123.1" r="3.95"/><circle cx="335.07" cy="87" r="3.95"/><circle cx="335.07" cy="123.1" r="3.95"/><circle cx="343.2" cy="87" r="3.95"/><circle cx="343.2" cy="123.1" r="3.95"/><circle cx="351.33" cy="87" r="3.95"/><circle cx="351.33" cy="123.1" r="3.95"/><circle cx="359.46" cy="87" r="3.95"/><circle cx="359.46" cy="123.1" r="3.95"/><circle cx="367.59" cy="87" r="3.95"/><circle cx="367.59" cy="123.1" r="3.95"/><circle cx="375.72" cy="87" r="3.95"/><circle cx="375.72" cy="123.1" r="3.95"/><circle cx="383.85" cy="87" r="3.95"/><circle cx="383.85" cy="123.1" r="3.95"/><circle cx="391.98" cy="87" r="3.95"/><circle cx="391.98" cy="123.1" r="3.95"/><circle cx="400.11" cy="87" r="3.95"/><circle cx="400.11" cy="123.1" r="3.95"/><circle cx="408.24" cy="87" r="3.95"/><circle cx="408.24" cy="123.1" r="3.95"/><circle cx="416.37" cy="87" r="3.95"/><circle cx="416.37" cy="123.1" r="3.95"/><circle cx="424.5" cy="87" r="3.95"/><circle cx="424.5" cy="123.1" r="3.95"/><circle cx="432.63" cy="87" r="3.95"/><circle cx="432.63" cy="123.1" r="3.95"/><circle cx="440.76" cy="87" r="3.95"/><circle cx="440.76" cy="123.1" r="3.95"/><circle cx="448.89" cy="87" r="3.95"/><circle cx="448.89" cy="123.1" r="3.95"/><circle cx="457.02" cy="87" r="3.95"/><circle cx="457.02" cy="123.1" r="3.95"/><circle cx="465.15" cy="87" r="3.95"/><circle cx="465.15" cy="123.1" r="3.95"/><circle cx="473.28" cy="87" r="3.95"/><circle cx="473.28" cy="123.1" r="3.95"/><circle cx="481.41" cy="87" r="3.95"/><circle cx="481.41" cy="123.1" r="3.95"/><circle cx="489.54" cy="87" r="3.95"/><circle cx="489.54" cy="123.1" r="3.95"/><circle cx="497.67" cy="87" r="3.95"/><circle cx="497.67" cy="123.1" r="3.95"/><circle cx="505.8" cy="87" r="3.95"/><circle cx="505.8" cy="123.1" r="3.95"/><circle cx="513.93" cy="87" r="3.95"/><circle cx="513.93" cy="123.1" r="3.95"/><circle cx="522.06" cy="87" r="3.95"/><circle cx="522.06" cy="123.1" r="3.95"/><circle cx="530.19" cy="87" r="3.95"/><circle cx="530.19" cy="123.1" r="3.95"/><circle cx="538.32" cy="87" r="3.95"/><circle cx="538.32" cy="123.1" r="3.95"/><circle cx="546.45" cy="87" r="3.95"/><circle cx="546.45" cy="123.1" r="3.95"/></g>
<path d="M92 82.5C92 62.75 110 62.75 110 82.5M128 82.5C128 62.75 145.5 62.75 145.5 82.5M163.5 82.5C163.5 62.75 181 62.75 181 82.5M74 129.5C74 148.25 92 148.25 92 129.5M110 129.5C110 148.25 128 148.25 128 129.5M145.5 129.5C145.5 148.25 163.5 148.25 163.5 129.5M74 80C73.5 72 72.5 64 73 60C73.5 57 76 57 80 57.5C90 58.5 100 58 107.5 57M181 132C181 140 181.5 146 180 150C178 154 170 154 155 156" stroke="#253b82" stroke-width="2.1" fill="none" stroke-linecap="round"/>
<rect x="68.8" y="79.5" width="10.4" height="53" rx="5.2" fill="#5b88c9" stroke="#2a3f86" stroke-width="1"/>
<rect x="86.8" y="79.5" width="10.4" height="53" rx="5.2" fill="#5b88c9" stroke="#2a3f86" stroke-width="1"/>
<rect x="104.8" y="79.5" width="10.4" height="53" rx="5.2" fill="#5b88c9" stroke="#2a3f86" stroke-width="1"/>
<rect x="122.8" y="79.5" width="10.4" height="53" rx="5.2" fill="#5b88c9" stroke="#2a3f86" stroke-width="1"/>
<rect x="140.3" y="79.5" width="10.4" height="53" rx="5.2" fill="#5b88c9" stroke="#2a3f86" stroke-width="1"/>
<rect x="158.3" y="79.5" width="10.4" height="53" rx="5.2" fill="#5b88c9" stroke="#2a3f86" stroke-width="1"/>
<rect x="175.8" y="79.5" width="10.4" height="53" rx="5.2" fill="#5b88c9" stroke="#2a3f86" stroke-width="1"/>
<path d="M344.2 83.8C344.2 64.3 361.7 64.3 361.7 83.8M379.2 83.8C379.2 64.3 397.5 64.3 397.5 83.8M415.3 83.8C415.3 64.3 432.8 64.3 432.8 83.8M326.7 130.3C326.7 148.8 344.2 148.8 344.2 130.3M361.7 130.3C361.7 148.8 379.2 148.8 379.2 130.3M326.5 81C326 72 325 66 325.5 62C326 58.5 329 57.5 334 57.8C342 58.2 350 58 358 58" stroke="#1b4962" stroke-width="2.1" fill="none" stroke-linecap="round"/>
<rect x="321.6" y="80.8" width="10.2" height="52.5" rx="5.1" fill="#2a80ba" stroke="#1a4d6e" stroke-width="1"/>
<rect x="339.1" y="80.8" width="10.2" height="52.5" rx="5.1" fill="#2a80ba" stroke="#1a4d6e" stroke-width="1"/>
<rect x="356.6" y="80.8" width="10.2" height="52.5" rx="5.1" fill="#2a80ba" stroke="#1a4d6e" stroke-width="1"/>
<rect x="374.1" y="80.8" width="10.2" height="52.5" rx="5.1" fill="#2a80ba" stroke="#1a4d6e" stroke-width="1"/>
<rect x="392.4" y="80.8" width="10.2" height="52.5" rx="5.1" fill="#2a80ba" stroke="#1a4d6e" stroke-width="1"/>
<rect x="410.2" y="80.8" width="10.2" height="52.5" rx="5.1" fill="#2a80ba" stroke="#1a4d6e" stroke-width="1"/>
<rect x="427.7" y="80.8" width="10.2" height="52.5" rx="5.1" fill="#2a80ba" stroke="#1a4d6e" stroke-width="1"/>
<circle cx="372" cy="59.7" r="14.8" fill="url(#gAgo)"/>
<circle cx="367.5" cy="53.7" r="3.2" fill="#e0575a" opacity="0.9"/>
<path d="M397.5 131C397.5 148 415.3 148 415.3 131" stroke="#1b4962" stroke-width="2.1" fill="none"/>
<g transform="translate(388.6 146.8) rotate(-23.5) scale(1.02) translate(-94.8 -193.8)"><use href="#arrestin" fill="#e8819f" stroke="#c9607f" stroke-width="0.9"/><use href="#arrestinShade" fill="#de6f90" opacity="0.6"/><use href="#arrestinSeam" stroke="#c9607f" stroke-width="0.8"/></g>
<path d="M448.3 135C455 131 458 135 462 141C465 146 467 149 471 149.2" stroke="#2c2c2c" stroke-width="1.5" fill="none" stroke-linecap="round"/>
<circle cx="483.3" cy="144.2" r="13" fill="url(#gCyanR)" stroke="#bfe9ee" stroke-width="0.6"/>
<g transform="translate(0 0)"><use href="#arrestin" fill="#e1e1e1" stroke="#b3b3b3" stroke-width="0.9"/><use href="#arrestinShade" fill="#d3d3d3" opacity="0.6"/><use href="#arrestinSeam" stroke="#b3b3b3" stroke-width="0.8"/></g>
<path d="M154 208.7C157 206.5 160 206 162 209C164 213 164.5 220 166 225C167 229 168 231 169.5 231.3" stroke="#2c2c2c" stroke-width="1.5" fill="none" stroke-linecap="round"/>
<circle cx="182" cy="231.3" r="13.3" fill="url(#gCyanR)" stroke="#bfe9ee" stroke-width="0.6"/>
<text x="50" y="40" font-size="21.5" fill="#38383b" text-anchor="start" textLength="86.2" lengthAdjust="spacingAndGlyphs">Receptor</text>
<text x="341.3" y="40" font-size="21.5" fill="#38383b" text-anchor="start" textLength="73.7" lengthAdjust="spacingAndGlyphs">Agonist</text>
<text x="206.1" y="74.8" font-size="21.5" fill="#38383b" text-anchor="start" textLength="95.9" lengthAdjust="spacingAndGlyphs">Activation</text>
<text x="51.7" y="250" font-size="19" fill="#38383b" text-anchor="start" textLength="76.6" lengthAdjust="spacingAndGlyphs">β-arrestin</text>
<text x="162.3" y="264.7" font-size="19" fill="#38383b" text-anchor="start" textLength="44.3" lengthAdjust="spacingAndGlyphs">R-Luc</text>
<text x="426.3" y="273.9" font-size="18.8" fill="#38383b" text-anchor="start" textLength="115.5" lengthAdjust="spacingAndGlyphs">Internalization</text>
<text x="368.25" y="403.65" font-size="18.8" fill="#38383b" text-anchor="start" textLength="86.2" lengthAdjust="spacingAndGlyphs">Endosome</text>
<text x="74.25" y="397.5" font-size="18.8" fill="#38383b" text-anchor="start" textLength="42.75" lengthAdjust="spacingAndGlyphs">BRET</text>
<text x="140.25" y="442.5" font-size="18.8" fill="#38383b" text-anchor="start" textLength="88.5" lengthAdjust="spacingAndGlyphs">rGFP-FYVE</text>
<rect x="203" y="104.8" width="80" height="2.2" fill="url(#gArrowR)"/>
<path d="M294 105.9L282.5 100.3L282.5 111.5Z" fill="#222"/>
<path d="M203.69 204.79 L206.78 205.79 L209.89 206.71 L213.01 207.53 L216.14 208.26 L219.28 208.9 L222.42 209.45 L225.57 209.91 L228.72 210.28 L231.87 210.55 L235.02 210.74 L238.16 210.84 L241.29 210.85 L244.42 210.76 L247.53 210.59 L250.64 210.33 L253.72 209.97 L256.79 209.53 L259.84 208.99 L262.87 208.37 L265.87 207.66 L268.85 206.85 L271.8 205.96 L274.72 204.97 L277.61 203.9 L280.46 202.73 L283.26 201.44 L286.01 200.06 L288.72 198.59 L291.39 197.03 L294 195.38 L296.57 193.65 L299.08 191.82 L301.54 189.91 L303.94 187.91 L306.28 185.83 L308.57 183.65 L310.78 181.39 L312.93 179.05 L315.02 176.61 L317.02 174.11 L314.98 172.49 L313.01 174.96 L310.99 177.32 L308.9 179.6 L306.74 181.8 L304.52 183.91 L302.25 185.94 L299.91 187.88 L297.52 189.74 L295.08 191.52 L292.58 193.2 L290.04 194.81 L287.45 196.32 L284.81 197.75 L282.13 199.1 L279.41 200.36 L276.66 201.57 L273.88 202.7 L271.06 203.74 L268.2 204.7 L265.31 205.57 L262.39 206.35 L259.44 207.05 L256.47 207.66 L253.47 208.18 L250.44 208.62 L247.4 208.96 L244.33 209.22 L241.25 209.39 L238.16 209.47 L235.06 209.46 L231.94 209.36 L228.82 209.18 L225.69 208.9 L222.56 208.53 L219.42 208.07 L216.29 207.52 L213.16 206.88 L210.04 206.15 L206.92 205.33 L203.81 204.41Z" fill="#252525"/>
<path d="M322.6 163.8 L309.8 170.3 L321.3 178Z" fill="#252525"/>
<path d="M423.55 206.71 L423.67 210.09 L423.69 213.42 L423.63 216.71 L423.48 219.96 L423.24 223.17 L422.91 226.33 L422.5 229.45 L422 232.52 L421.41 235.56 L420.74 238.54 L419.99 241.49 L419.15 244.38 L418.24 247.24 L417.24 250.04 L416.16 252.8 L415 255.52 L413.76 258.18 L412.44 260.81 L411.05 263.38 L409.57 265.91 L408.02 268.38 L406.4 270.82 L404.7 273.2 L402.92 275.54 L401.08 277.82 L399.19 280.09 L397.23 282.31 L395.19 284.48 L393.08 286.61 L390.9 288.69 L388.64 290.72 L386.31 292.7 L383.92 294.63 L381.45 296.51 L378.91 298.35 L376.3 300.13 L373.63 301.86 L370.88 303.54 L368.07 305.17 L365.17 306.76 L366.43 309.04 L369.35 307.44 L372.21 305.78 L375.01 304.06 L377.74 302.29 L380.4 300.47 L383 298.6 L385.52 296.68 L387.97 294.7 L390.35 292.67 L392.66 290.59 L394.9 288.47 L397.06 286.29 L399.15 284.06 L401.16 281.78 L403.1 279.46 L404.92 277.06 L406.67 274.61 L408.34 272.11 L409.93 269.58 L411.44 266.99 L412.87 264.37 L414.21 261.7 L415.48 258.98 L416.66 256.23 L417.76 253.43 L418.78 250.59 L419.71 247.71 L420.55 244.79 L421.32 241.83 L421.99 238.82 L422.58 235.78 L423.09 232.7 L423.5 229.58 L423.83 226.42 L424.08 223.23 L424.23 219.99 L424.29 216.72 L424.27 213.42 L424.15 210.07 L423.95 206.69Z" fill="#252525"/>
<path d="M354.5 311.4 L363.4 301.8 L368.3 314Z" fill="#252525"/>
<rect x="141.5" y="347.65" width="35.5" height="2.2" fill="url(#gArrowL)"/>
<path d="M130.5 348.75L143 342.75L143 354.75Z" fill="#222"/>
<circle cx="95" cy="339.25" r="21" fill="url(#gGlowG)"/>
<path d="M90 354.25C90 347.25 82.5 343.25 82.5 335.25A12.5 12.5 0 1 1 107.5 335.25C107.5 343.25 100 347.25 100 354.25Z" fill="#7dcf5c"/>
<path d="M92 353.25L91 340.25M98 353.25L99 340.25M91 340.25H99" stroke="#fff" stroke-opacity="0.45" stroke-width="0.8" fill="none"/>
<path d="M87.5 331.25Q88 326.75 92 325.25" stroke="#fff" stroke-opacity="0.6" stroke-width="1.5" fill="none" stroke-linecap="round"/>
<rect x="89.8" y="354.25" width="10.4" height="10" rx="1.2" fill="#a9a9a9"/>
<path d="M89.8 357.25H100.2M89.8 360.25H100.2M89.8 363.25H100.2" stroke="#e6e6e6" stroke-width="0.9"/>
<path d="M92 364.25H98L96.5 366.75H93.5Z" fill="#888"/>
<circle cx="294.1" cy="395.2" r="46.7" fill="none" stroke="#fff" stroke-width="27.8"/>
<path d="M352.2 394.4L342 393.2M352.2 396L342 397.2M351.95 400.69L341.94 398.39M351.77 402.28L341.5 402.37M351.01 406.91L341.31 403.54M350.67 408.47L340.45 407.45M349.41 412.99L340.13 408.6M348.9 414.51L338.85 412.39M347.17 418.87L338.41 413.5M346.49 420.32L336.73 417.13M344.3 424.47L336.17 418.18M343.47 425.84L334.11 421.61M340.84 429.72L333.44 422.6M339.87 431L331.02 425.78M336.83 434.57L330.25 426.69M335.73 435.74L327.5 429.59M332.32 438.96L326.63 430.41M331.1 440L323.59 433M327.37 442.84L322.64 433.72M326.04 443.74L319.33 435.97M322.02 446.16L318.3 436.58M320.61 446.91L314.77 438.46M316.35 448.88L313.69 438.96M314.86 449.47L309.97 440.44M310.41 450.97L308.84 440.82M308.87 451.4L304.99 441.89M304.29 452.41L303.82 442.15M302.71 452.66L299.88 442.79M298.04 453.17L298.69 442.92M296.45 453.26L294.7 443.14M291.75 453.26L293.5 443.14M290.16 453.17L289.51 442.92M285.49 452.66L288.32 442.79M283.91 452.41L284.38 442.15M279.33 451.4L283.21 441.89M277.79 450.97L279.36 440.82M273.34 449.47L278.23 440.44M271.85 448.88L274.51 438.96M267.59 446.91L273.43 438.46M266.18 446.16L269.9 436.58M262.16 443.74L268.87 435.97M260.83 442.84L265.56 433.72M257.1 440L264.61 433M255.88 438.96L261.57 430.41M252.47 435.74L260.7 429.59M251.37 434.57L257.95 426.69M248.33 431L257.18 425.78M247.36 429.72L254.76 422.6M244.73 425.84L254.09 421.61M243.9 424.47L252.03 418.18M241.71 420.32L251.47 417.13M241.03 418.87L249.79 413.5M239.3 414.51L249.35 412.39M238.79 412.99L248.07 408.6M237.53 408.47L247.75 407.45M237.19 406.91L246.89 403.54M236.43 402.28L246.7 402.37M236.25 400.69L246.26 398.39M236 396L246.2 397.2M236 394.4L246.2 393.2M236.25 389.71L246.26 392.01M236.43 388.12L246.7 388.03M237.19 383.49L246.89 386.86M237.53 381.93L247.75 382.95M238.79 377.41L248.07 381.8M239.3 375.89L249.35 378.01M241.03 371.53L249.79 376.9M241.71 370.08L251.47 373.27M243.9 365.93L252.03 372.22M244.73 364.56L254.09 368.79M247.36 360.68L254.76 367.8M248.33 359.4L257.18 364.62M251.37 355.83L257.95 363.71M252.47 354.66L260.7 360.81M255.88 351.44L261.57 359.99M257.1 350.4L264.61 357.4M260.83 347.56L265.56 356.68M262.16 346.66L268.87 354.43M266.18 344.24L269.9 353.82M267.59 343.49L273.43 351.94M271.85 341.52L274.51 351.44M273.34 340.93L278.23 349.96M277.79 339.43L279.36 349.58M279.33 339L283.21 348.51M283.91 337.99L284.38 348.25M285.49 337.74L288.32 347.61M290.16 337.23L289.51 347.48M291.75 337.14L293.5 347.26M296.45 337.14L294.7 347.26M298.04 337.23L298.69 347.48M302.71 337.74L299.88 347.61M304.29 337.99L303.82 348.25M308.87 339L304.99 348.51M310.41 339.43L308.84 349.58M314.86 340.93L309.97 349.96M316.35 341.52L313.69 351.44M320.61 343.49L314.77 351.94M322.02 344.24L318.3 353.82M326.04 346.66L319.33 354.43M327.37 347.56L322.64 356.68M331.1 350.4L323.59 357.4M332.32 351.44L326.63 359.99M335.73 354.66L327.5 360.81M336.83 355.83L330.25 363.71M339.87 359.4L331.02 364.62M340.84 360.68L333.44 367.8M343.47 364.56L334.11 368.79M344.3 365.93L336.17 372.22M346.49 370.08L336.73 373.27M347.17 371.53L338.41 376.9M348.9 375.89L338.85 378.01M349.41 377.41L340.13 381.8M350.67 381.93L340.45 382.95M351.01 383.49L341.31 386.86M351.77 388.12L341.5 388.03M351.95 389.71L341.94 392.01M329.32 397.67L339.56 397.69M329.2 399.06L339.27 400.87M328.31 403.92L338.39 405.76M327.94 405.27L337.53 408.85M326.21 409.89L335.79 413.5M325.6 411.15L334.4 416.38M323.07 415.38L331.85 420.65M322.25 416.52L329.97 423.24M319 420.23L326.7 426.98M317.99 421.2L324.39 429.19M314.13 424.27L320.5 432.29M312.96 425.05L317.83 434.05M308.62 427.38L313.45 436.41M307.33 427.93L310.51 437.67M302.64 429.46L305.78 439.2M301.27 429.77L302.66 439.92M296.38 430.43L297.74 440.58M294.98 430.5L294.54 440.73M290.06 430.27L289.58 440.5M288.67 430.09L286.41 440.07M283.86 428.99L281.56 438.97M282.53 428.56L278.52 437.98M277.99 426.62L273.95 436.03M276.76 425.95L271.13 434.51M272.64 423.24L266.98 431.77M271.54 422.36L264.48 429.78M267.98 418.95L260.89 426.34M267.06 417.9L258.78 423.93M264.16 413.91L255.86 419.91M263.44 412.7L254.22 417.16M261.3 408.26L252.06 412.69M260.8 406.95L250.94 409.69M259.49 402.19L249.62 404.9M259.24 400.81L249.05 401.75M258.8 395.9L248.6 396.8M258.8 394.5L248.6 393.6M259.24 389.59L249.05 388.65M259.49 388.21L249.62 385.5M260.8 383.45L250.94 380.71M261.3 382.14L252.06 377.71M263.44 377.7L254.22 373.24M264.16 376.49L255.86 370.49M267.06 372.5L258.78 366.47M267.98 371.45L260.89 364.06M271.54 368.04L264.48 360.62M272.64 367.16L266.98 358.63M276.76 364.45L271.13 355.89M277.99 363.78L273.95 354.37M282.53 361.84L278.52 352.42M283.86 361.41L281.56 351.43M288.67 360.31L286.41 350.33M290.06 360.13L289.58 349.9M294.98 359.9L294.54 349.67M296.38 359.97L297.74 349.82M301.27 360.63L302.66 350.48M302.64 360.94L305.78 351.2M307.33 362.47L310.51 352.73M308.62 363.02L313.45 353.99M312.96 365.35L317.83 356.35M314.13 366.13L320.5 358.11M317.99 369.2L324.39 361.21M319 370.17L326.7 363.42M322.25 373.88L329.97 367.16M323.07 375.02L331.85 369.75M325.6 379.25L334.4 374.02M326.21 380.51L335.79 376.9M327.94 385.13L337.53 381.55M328.31 386.48L338.39 384.64M329.2 391.34L339.27 389.53M329.32 392.73L339.56 392.71" stroke="#a8a8a8" stroke-width="0.9" fill="none"/>
<g fill="#646464"><circle cx="354.7" cy="395.2" r="2.85"/><circle cx="354.34" cy="401.75" r="2.85"/><circle cx="353.28" cy="408.23" r="2.85"/><circle cx="351.53" cy="414.55" r="2.85"/><circle cx="349.1" cy="420.65" r="2.85"/><circle cx="346.03" cy="426.44" r="2.85"/><circle cx="342.34" cy="431.87" r="2.85"/><circle cx="338.1" cy="436.87" r="2.85"/><circle cx="333.33" cy="441.39" r="2.85"/><circle cx="328.11" cy="445.36" r="2.85"/><circle cx="322.49" cy="448.74" r="2.85"/><circle cx="316.53" cy="451.5" r="2.85"/><circle cx="310.31" cy="453.59" r="2.85"/><circle cx="303.9" cy="455" r="2.85"/><circle cx="297.38" cy="455.71" r="2.85"/><circle cx="290.82" cy="455.71" r="2.85"/><circle cx="284.3" cy="455" r="2.85"/><circle cx="277.89" cy="453.59" r="2.85"/><circle cx="271.67" cy="451.5" r="2.85"/><circle cx="265.71" cy="448.74" r="2.85"/><circle cx="260.09" cy="445.36" r="2.85"/><circle cx="254.87" cy="441.39" r="2.85"/><circle cx="250.1" cy="436.87" r="2.85"/><circle cx="245.86" cy="431.87" r="2.85"/><circle cx="242.17" cy="426.44" r="2.85"/><circle cx="239.1" cy="420.65" r="2.85"/><circle cx="236.67" cy="414.55" r="2.85"/><circle cx="234.92" cy="408.23" r="2.85"/><circle cx="233.86" cy="401.75" r="2.85"/><circle cx="233.5" cy="395.2" r="2.85"/><circle cx="233.86" cy="388.65" r="2.85"/><circle cx="234.92" cy="382.17" r="2.85"/><circle cx="236.67" cy="375.85" r="2.85"/><circle cx="239.1" cy="369.75" r="2.85"/><circle cx="242.17" cy="363.96" r="2.85"/><circle cx="245.86" cy="358.53" r="2.85"/><circle cx="250.1" cy="353.53" r="2.85"/><circle cx="254.87" cy="349.01" r="2.85"/><circle cx="260.09" cy="345.04" r="2.85"/><circle cx="265.71" cy="341.66" r="2.85"/><circle cx="271.67" cy="338.9" r="2.85"/><circle cx="277.89" cy="336.81" r="2.85"/><circle cx="284.3" cy="335.4" r="2.85"/><circle cx="290.82" cy="334.69" r="2.85"/><circle cx="297.38" cy="334.69" r="2.85"/><circle cx="303.9" cy="335.4" r="2.85"/><circle cx="310.31" cy="336.81" r="2.85"/><circle cx="316.53" cy="338.9" r="2.85"/><circle cx="322.49" cy="341.66" r="2.85"/><circle cx="328.11" cy="345.04" r="2.85"/><circle cx="333.33" cy="349.01" r="2.85"/><circle cx="338.1" cy="353.53" r="2.85"/><circle cx="342.34" cy="358.53" r="2.85"/><circle cx="346.03" cy="363.96" r="2.85"/><circle cx="349.1" cy="369.75" r="2.85"/><circle cx="351.53" cy="375.85" r="2.85"/><circle cx="353.28" cy="382.17" r="2.85"/><circle cx="354.34" cy="388.65" r="2.85"/><circle cx="326.77" cy="398.14" r="2.85"/><circle cx="325.72" cy="403.93" r="2.85"/><circle cx="323.65" cy="409.43" r="2.85"/><circle cx="320.64" cy="414.48" r="2.85"/><circle cx="316.77" cy="418.91" r="2.85"/><circle cx="312.17" cy="422.57" r="2.85"/><circle cx="306.99" cy="425.36" r="2.85"/><circle cx="301.4" cy="427.18" r="2.85"/><circle cx="295.57" cy="427.97" r="2.85"/><circle cx="289.7" cy="427.7" r="2.85"/><circle cx="283.96" cy="426.39" r="2.85"/><circle cx="278.56" cy="424.08" r="2.85"/><circle cx="273.65" cy="420.84" r="2.85"/><circle cx="269.4" cy="416.78" r="2.85"/><circle cx="265.94" cy="412.02" r="2.85"/><circle cx="263.39" cy="406.73" r="2.85"/><circle cx="261.83" cy="401.06" r="2.85"/><circle cx="261.3" cy="395.2" r="2.85"/><circle cx="261.83" cy="389.34" r="2.85"/><circle cx="263.39" cy="383.67" r="2.85"/><circle cx="265.94" cy="378.38" r="2.85"/><circle cx="269.4" cy="373.62" r="2.85"/><circle cx="273.65" cy="369.56" r="2.85"/><circle cx="278.56" cy="366.32" r="2.85"/><circle cx="283.96" cy="364.01" r="2.85"/><circle cx="289.7" cy="362.7" r="2.85"/><circle cx="295.57" cy="362.43" r="2.85"/><circle cx="301.4" cy="363.22" r="2.85"/><circle cx="306.99" cy="365.04" r="2.85"/><circle cx="312.17" cy="367.83" r="2.85"/><circle cx="316.77" cy="371.49" r="2.85"/><circle cx="320.64" cy="375.92" r="2.85"/><circle cx="323.65" cy="380.97" r="2.85"/><circle cx="325.72" cy="386.47" r="2.85"/><circle cx="326.77" cy="392.26" r="2.85"/></g>
<path d="M271.9 338.6C271.9 325.48 282.25 325.48 282.25 338.6M292.5 338.6C292.5 325.48 302.5 325.48 302.5 338.6M312.75 338.6C312.75 325.48 323.1 325.48 323.1 338.6M261.9 363.3C261.9 373.93 271.9 373.93 271.9 363.3M282.25 363.3C282.25 373.93 292.5 373.93 292.5 363.3M302.5 363.3C302.5 373.93 312.75 373.93 312.75 363.3M261.9 336C261.9 330 262 326 264 324.5C267 323 271 323 276 322M323.1 366C323.5 372 324 375 322 378C319 379 313 378 305 379" stroke="#1b4962" stroke-width="1.8" fill="none" stroke-linecap="round"/>
<rect x="258.9" y="335.6" width="6" height="30.7" rx="3" fill="#2a80ba" stroke="#1a4d6e" stroke-width="1"/>
<rect x="268.9" y="335.6" width="6" height="30.7" rx="3" fill="#2a80ba" stroke="#1a4d6e" stroke-width="1"/>
<rect x="279.25" y="335.6" width="6" height="30.7" rx="3" fill="#2a80ba" stroke="#1a4d6e" stroke-width="1"/>
<rect x="289.5" y="335.6" width="6" height="30.7" rx="3" fill="#2a80ba" stroke="#1a4d6e" stroke-width="1"/>
<rect x="299.5" y="335.6" width="6" height="30.7" rx="3" fill="#2a80ba" stroke="#1a4d6e" stroke-width="1"/>
<rect x="309.75" y="335.6" width="6" height="30.7" rx="3" fill="#2a80ba" stroke="#1a4d6e" stroke-width="1"/>
<rect x="320.1" y="335.6" width="6" height="30.7" rx="3" fill="#2a80ba" stroke="#1a4d6e" stroke-width="1"/>
<g transform="translate(303 311.1) rotate(148.8) scale(1.04) translate(-94.8 -193.8)"><use href="#arrestin" fill="#e8819f" stroke="#c9607f" stroke-width="0.9"/><use href="#arrestinShade" fill="#de6f90" opacity="0.6"/><use href="#arrestinSeam" stroke="#c9607f" stroke-width="0.8"/></g>
<circle cx="209.4" cy="325" r="12.8" fill="url(#gCyanL)" stroke="#bfe9ee" stroke-width="0.6"/>
<path d="M221.5 318C226 316 229 320 232 326C235 332 238 334 241 333C243 332 244 331 245 330" stroke="#2c2c2c" stroke-width="1.5" fill="none" stroke-linecap="round"/>
<circle cx="203.25" cy="374.25" r="12.75" fill="url(#gRFP)" stroke="none" stroke-width="0.6"/>
<path d="M215.5 378C220 380 224 388 229 390C231 391 232.5 391 233.5 390.75" stroke="#2c2c2c" stroke-width="1.5" fill="none" stroke-linecap="round"/>
<line x1="199.5" y1="398.5" x2="199.5" y2="422.5" stroke="#333" stroke-width="1.3" />
</g>
<g>
<rect x="654.3" y="127" width="543.5" height="338.5" fill="#e7e8eb"/>
<rect x="654.45" y="87" width="543.3" height="38.25" fill="#fff"/>
<path d="M657.4 89L655.7 104.62M659.2 89L660.7 104.62M657.4 123.25L655.7 107.62M659.2 123.25L660.7 107.62M665.51 89L663.81 104.62M667.31 89L668.81 104.62M665.51 123.25L663.81 107.62M667.31 123.25L668.81 107.62M673.63 89L671.93 104.62M675.43 89L676.93 104.62M673.63 123.25L671.93 107.62M675.43 123.25L676.93 107.62M681.74 89L680.04 104.62M683.54 89L685.04 104.62M681.74 123.25L680.04 107.62M683.54 123.25L685.04 107.62M689.85 89L688.15 104.62M691.65 89L693.15 104.62M689.85 123.25L688.15 107.62M691.65 123.25L693.15 107.62M697.97 89L696.26 104.62M699.76 89L701.26 104.62M697.97 123.25L696.26 107.62M699.76 123.25L701.26 107.62M706.08 89L704.38 104.62M707.88 89L709.38 104.62M706.08 123.25L704.38 107.62M707.88 123.25L709.38 107.62M714.19 89L712.49 104.62M715.99 89L717.49 104.62M714.19 123.25L712.49 107.62M715.99 123.25L717.49 107.62M722.3 89L720.6 104.62M724.1 89L725.6 104.62M722.3 123.25L720.6 107.62M724.1 123.25L725.6 107.62M730.42 89L728.72 104.62M732.22 89L733.72 104.62M730.42 123.25L728.72 107.62M732.22 123.25L733.72 107.62M738.53 89L736.83 104.62M740.33 89L741.83 104.62M738.53 123.25L736.83 107.62M740.33 123.25L741.83 107.62M746.64 89L744.94 104.62M748.44 89L749.94 104.62M746.64 123.25L744.94 107.62M748.44 123.25L749.94 107.62M754.76 89L753.06 104.62M756.56 89L758.06 104.62M754.76 123.25L753.06 107.62M756.56 123.25L758.06 107.62M762.87 89L761.17 104.62M764.67 89L766.17 104.62M762.87 123.25L761.17 107.62M764.67 123.25L766.17 107.62M770.98 89L769.28 104.62M772.78 89L774.28 104.62M770.98 123.25L769.28 107.62M772.78 123.25L774.28 107.62M779.09 89L777.39 104.62M780.89 89L782.39 104.62M779.09 123.25L777.39 107.62M780.89 123.25L782.39 107.62M787.21 89L785.51 104.62M789.01 89L790.51 104.62M787.21 123.25L785.51 107.62M789.01 123.25L790.51 107.62M795.32 89L793.62 104.62M797.12 89L798.62 104.62M795.32 123.25L793.62 107.62M797.12 123.25L798.62 107.62M803.43 89L801.73 104.62M805.23 89L806.73 104.62M803.43 123.25L801.73 107.62M805.23 123.25L806.73 107.62M811.55 89L809.85 104.62M813.35 89L814.85 104.62M811.55 123.25L809.85 107.62M813.35 123.25L814.85 107.62M819.66 89L817.96 104.62M821.46 89L822.96 104.62M819.66 123.25L817.96 107.62M821.46 123.25L822.96 107.62M827.77 89L826.07 104.62M829.57 89L831.07 104.62M827.77 123.25L826.07 107.62M829.57 123.25L831.07 107.62M835.89 89L834.19 104.62M837.69 89L839.19 104.62M835.89 123.25L834.19 107.62M837.69 123.25L839.19 107.62M844 89L842.3 104.62M845.8 89L847.3 104.62M844 123.25L842.3 107.62M845.8 123.25L847.3 107.62M852.11 89L850.41 104.62M853.91 89L855.41 104.62M852.11 123.25L850.41 107.62M853.91 123.25L855.41 107.62M860.23 89L858.52 104.62M862.02 89L863.52 104.62M860.23 123.25L858.52 107.62M862.02 123.25L863.52 107.62M868.34 89L866.64 104.62M870.14 89L871.64 104.62M868.34 123.25L866.64 107.62M870.14 123.25L871.64 107.62M876.45 89L874.75 104.62M878.25 89L879.75 104.62M876.45 123.25L874.75 107.62M878.25 123.25L879.75 107.62M884.56 89L882.86 104.62M886.36 89L887.86 104.62M884.56 123.25L882.86 107.62M886.36 123.25L887.86 107.62M892.68 89L890.98 104.62M894.48 89L895.98 104.62M892.68 123.25L890.98 107.62M894.48 123.25L895.98 107.62M900.79 89L899.09 104.62M902.59 89L904.09 104.62M900.79 123.25L899.09 107.62M902.59 123.25L904.09 107.62M908.9 89L907.2 104.62M910.7 89L912.2 104.62M908.9 123.25L907.2 107.62M910.7 123.25L912.2 107.62M917.02 89L915.32 104.62M918.82 89L920.32 104.62M917.02 123.25L915.32 107.62M918.82 123.25L920.32 107.62M925.13 89L923.43 104.62M926.93 89L928.43 104.62M925.13 123.25L923.43 107.62M926.93 123.25L928.43 107.62M933.24 89L931.54 104.62M935.04 89L936.54 104.62M933.24 123.25L931.54 107.62M935.04 123.25L936.54 107.62M941.35 89L939.65 104.62M943.15 89L944.65 104.62M941.35 123.25L939.65 107.62M943.15 123.25L944.65 107.62M949.47 89L947.77 104.62M951.27 89L952.77 104.62M949.47 123.25L947.77 107.62M951.27 123.25L952.77 107.62M957.58 89L955.88 104.62M959.38 89L960.88 104.62M957.58 123.25L955.88 107.62M959.38 123.25L960.88 107.62M965.69 89L963.99 104.62M967.49 89L968.99 104.62M965.69 123.25L963.99 107.62M967.49 123.25L968.99 107.62M973.81 89L972.11 104.62M975.61 89L977.11 104.62M973.81 123.25L972.11 107.62M975.61 123.25L977.11 107.62M981.92 89L980.22 104.62M983.72 89L985.22 104.62M981.92 123.25L980.22 107.62M983.72 123.25L985.22 107.62M990.03 89L988.33 104.62M991.83 89L993.33 104.62M990.03 123.25L988.33 107.62M991.83 123.25L993.33 107.62M998.15 89L996.45 104.62M999.95 89L1001.45 104.62M998.15 123.25L996.45 107.62M999.95 123.25L1001.45 107.62M1006.26 89L1004.56 104.62M1008.06 89L1009.56 104.62M1006.26 123.25L1004.56 107.62M1008.06 123.25L1009.56 107.62M1014.37 89L1012.67 104.62M1016.17 89L1017.67 104.62M1014.37 123.25L1012.67 107.62M1016.17 123.25L1017.67 107.62M1022.49 89L1020.78 104.62M1024.29 89L1025.79 104.62M1022.49 123.25L1020.78 107.62M1024.29 123.25L1025.79 107.62M1030.6 89L1028.9 104.62M1032.4 89L1033.9 104.62M1030.6 123.25L1028.9 107.62M1032.4 123.25L1033.9 107.62M1038.71 89L1037.01 104.62M1040.51 89L1042.01 104.62M1038.71 123.25L1037.01 107.62M1040.51 123.25L1042.01 107.62M1046.82 89L1045.12 104.62M1048.62 89L1050.12 104.62M1046.82 123.25L1045.12 107.62M1048.62 123.25L1050.12 107.62M1054.94 89L1053.24 104.62M1056.74 89L1058.24 104.62M1054.94 123.25L1053.24 107.62M1056.74 123.25L1058.24 107.62M1063.05 89L1061.35 104.62M1064.85 89L1066.35 104.62M1063.05 123.25L1061.35 107.62M1064.85 123.25L1066.35 107.62M1071.16 89L1069.46 104.62M1072.96 89L1074.46 104.62M1071.16 123.25L1069.46 107.62M1072.96 123.25L1074.46 107.62M1079.28 89L1077.58 104.62M1081.08 89L1082.58 104.62M1079.28 123.25L1077.58 107.62M1081.08 123.25L1082.58 107.62M1087.39 89L1085.69 104.62M1089.19 89L1090.69 104.62M1087.39 123.25L1085.69 107.62M1089.19 123.25L1090.69 107.62M1095.5 89L1093.8 104.62M1097.3 89L1098.8 104.62M1095.5 123.25L1093.8 107.62M1097.3 123.25L1098.8 107.62M1103.61 89L1101.91 104.62M1105.41 89L1106.91 104.62M1103.61 123.25L1101.91 107.62M1105.41 123.25L1106.91 107.62M1111.73 89L1110.03 104.62M1113.53 89L1115.03 104.62M1111.73 123.25L1110.03 107.62M1113.53 123.25L1115.03 107.62M1119.84 89L1118.14 104.62M1121.64 89L1123.14 104.62M1119.84 123.25L1118.14 107.62M1121.64 123.25L1123.14 107.62M1127.95 89L1126.25 104.62M1129.75 89L1131.25 104.62M1127.95 123.25L1126.25 107.62M1129.75 123.25L1131.25 107.62M1136.07 89L1134.37 104.62M1137.87 89L1139.37 104.62M1136.07 123.25L1134.37 107.62M1137.87 123.25L1139.37 107.62M1144.18 89L1142.48 104.62M1145.98 89L1147.48 104.62M1144.18 123.25L1142.48 107.62M1145.98 123.25L1147.48 107.62M1152.29 89L1150.59 104.62M1154.09 89L1155.59 104.62M1152.29 123.25L1150.59 107.62M1154.09 123.25L1155.59 107.62M1160.41 89L1158.71 104.62M1162.21 89L1163.71 104.62M1160.41 123.25L1158.71 107.62M1162.21 123.25L1163.71 107.62M1168.52 89L1166.82 104.62M1170.32 89L1171.82 104.62M1168.52 123.25L1166.82 107.62M1170.32 123.25L1171.82 107.62M1176.63 89L1174.93 104.62M1178.43 89L1179.93 104.62M1176.63 123.25L1174.93 107.62M1178.43 123.25L1179.93 107.62M1184.74 89L1183.05 104.62M1186.55 89L1188.05 104.62M1184.74 123.25L1183.05 107.62M1186.55 123.25L1188.05 107.62M1192.86 89L1191.16 104.62M1194.66 89L1196.16 104.62M1192.86 123.25L1191.16 107.62M1194.66 123.25L1196.16 107.62" stroke="#9c9c9c" stroke-width="1.3" fill="none"/>
<g fill="#626262"><circle cx="658.3" cy="87" r="3.85"/><circle cx="658.3" cy="125.25" r="3.85"/><circle cx="666.41" cy="87" r="3.85"/><circle cx="666.41" cy="125.25" r="3.85"/><circle cx="674.53" cy="87" r="3.85"/><circle cx="674.53" cy="125.25" r="3.85"/><circle cx="682.64" cy="87" r="3.85"/><circle cx="682.64" cy="125.25" r="3.85"/><circle cx="690.75" cy="87" r="3.85"/><circle cx="690.75" cy="125.25" r="3.85"/><circle cx="698.87" cy="87" r="3.85"/><circle cx="698.87" cy="125.25" r="3.85"/><circle cx="706.98" cy="87" r="3.85"/><circle cx="706.98" cy="125.25" r="3.85"/><circle cx="715.09" cy="87" r="3.85"/><circle cx="715.09" cy="125.25" r="3.85"/><circle cx="723.2" cy="87" r="3.85"/><circle cx="723.2" cy="125.25" r="3.85"/><circle cx="731.32" cy="87" r="3.85"/><circle cx="731.32" cy="125.25" r="3.85"/><circle cx="739.43" cy="87" r="3.85"/><circle cx="739.43" cy="125.25" r="3.85"/><circle cx="747.54" cy="87" r="3.85"/><circle cx="747.54" cy="125.25" r="3.85"/><circle cx="755.66" cy="87" r="3.85"/><circle cx="755.66" cy="125.25" r="3.85"/><circle cx="763.77" cy="87" r="3.85"/><circle cx="763.77" cy="125.25" r="3.85"/><circle cx="771.88" cy="87" r="3.85"/><circle cx="771.88" cy="125.25" r="3.85"/><circle cx="779.99" cy="87" r="3.85"/><circle cx="779.99" cy="125.25" r="3.85"/><circle cx="788.11" cy="87" r="3.85"/><circle cx="788.11" cy="125.25" r="3.85"/><circle cx="796.22" cy="87" r="3.85"/><circle cx="796.22" cy="125.25" r="3.85"/><circle cx="804.33" cy="87" r="3.85"/><circle cx="804.33" cy="125.25" r="3.85"/><circle cx="812.45" cy="87" r="3.85"/><circle cx="812.45" cy="125.25" r="3.85"/><circle cx="820.56" cy="87" r="3.85"/><circle cx="820.56" cy="125.25" r="3.85"/><circle cx="828.67" cy="87" r="3.85"/><circle cx="828.67" cy="125.25" r="3.85"/><circle cx="836.79" cy="87" r="3.85"/><circle cx="836.79" cy="125.25" r="3.85"/><circle cx="844.9" cy="87" r="3.85"/><circle cx="844.9" cy="125.25" r="3.85"/><circle cx="853.01" cy="87" r="3.85"/><circle cx="853.01" cy="125.25" r="3.85"/><circle cx="861.12" cy="87" r="3.85"/><circle cx="861.12" cy="125.25" r="3.85"/><circle cx="869.24" cy="87" r="3.85"/><circle cx="869.24" cy="125.25" r="3.85"/><circle cx="877.35" cy="87" r="3.85"/><circle cx="877.35" cy="125.25" r="3.85"/><circle cx="885.46" cy="87" r="3.85"/><circle cx="885.46" cy="125.25" r="3.85"/><circle cx="893.58" cy="87" r="3.85"/><circle cx="893.58" cy="125.25" r="3.85"/><circle cx="901.69" cy="87" r="3.85"/><circle cx="901.69" cy="125.25" r="3.85"/><circle cx="909.8" cy="87" r="3.85"/><circle cx="909.8" cy="125.25" r="3.85"/><circle cx="917.92" cy="87" r="3.85"/><circle cx="917.92" cy="125.25" r="3.85"/><circle cx="926.03" cy="87" r="3.85"/><circle cx="926.03" cy="125.25" r="3.85"/><circle cx="934.14" cy="87" r="3.85"/><circle cx="934.14" cy="125.25" r="3.85"/><circle cx="942.25" cy="87" r="3.85"/><circle cx="942.25" cy="125.25" r="3.85"/><circle cx="950.37" cy="87" r="3.85"/><circle cx="950.37" cy="125.25" r="3.85"/><circle cx="958.48" cy="87" r="3.85"/><circle cx="958.48" cy="125.25" r="3.85"/><circle cx="966.59" cy="87" r="3.85"/><circle cx="966.59" cy="125.25" r="3.85"/><circle cx="974.71" cy="87" r="3.85"/><circle cx="974.71" cy="125.25" r="3.85"/><circle cx="982.82" cy="87" r="3.85"/><circle cx="982.82" cy="125.25" r="3.85"/><circle cx="990.93" cy="87" r="3.85"/><circle cx="990.93" cy="125.25" r="3.85"/><circle cx="999.05" cy="87" r="3.85"/><circle cx="999.05" cy="125.25" r="3.85"/><circle cx="1007.16" cy="87" r="3.85"/><circle cx="1007.16" cy="125.25" r="3.85"/><circle cx="1015.27" cy="87" r="3.85"/><circle cx="1015.27" cy="125.25" r="3.85"/><circle cx="1023.38" cy="87" r="3.85"/><circle cx="1023.38" cy="125.25" r="3.85"/><circle cx="1031.5" cy="87" r="3.85"/><circle cx="1031.5" cy="125.25" r="3.85"/><circle cx="1039.61" cy="87" r="3.85"/><circle cx="1039.61" cy="125.25" r="3.85"/><circle cx="1047.72" cy="87" r="3.85"/><circle cx="1047.72" cy="125.25" r="3.85"/><circle cx="1055.84" cy="87" r="3.85"/><circle cx="1055.84" cy="125.25" r="3.85"/><circle cx="1063.95" cy="87" r="3.85"/><circle cx="1063.95" cy="125.25" r="3.85"/><circle cx="1072.06" cy="87" r="3.85"/><circle cx="1072.06" cy="125.25" r="3.85"/><circle cx="1080.18" cy="87" r="3.85"/><circle cx="1080.18" cy="125.25" r="3.85"/><circle cx="1088.29" cy="87" r="3.85"/><circle cx="1088.29" cy="125.25" r="3.85"/><circle cx="1096.4" cy="87" r="3.85"/><circle cx="1096.4" cy="125.25" r="3.85"/><circle cx="1104.51" cy="87" r="3.85"/><circle cx="1104.51" cy="125.25" r="3.85"/><circle cx="1112.63" cy="87" r="3.85"/><circle cx="1112.63" cy="125.25" r="3.85"/><circle cx="1120.74" cy="87" r="3.85"/><circle cx="1120.74" cy="125.25" r="3.85"/><circle cx="1128.85" cy="87" r="3.85"/><circle cx="1128.85" cy="125.25" r="3.85"/><circle cx="1136.97" cy="87" r="3.85"/><circle cx="1136.97" cy="125.25" r="3.85"/><circle cx="1145.08" cy="87" r="3.85"/><circle cx="1145.08" cy="125.25" r="3.85"/><circle cx="1153.19" cy="87" r="3.85"/><circle cx="1153.19" cy="125.25" r="3.85"/><circle cx="1161.31" cy="87" r="3.85"/><circle cx="1161.31" cy="125.25" r="3.85"/><circle cx="1169.42" cy="87" r="3.85"/><circle cx="1169.42" cy="125.25" r="3.85"/><circle cx="1177.53" cy="87" r="3.85"/><circle cx="1177.53" cy="125.25" r="3.85"/><circle cx="1185.64" cy="87" r="3.85"/><circle cx="1185.64" cy="125.25" r="3.85"/><circle cx="1193.76" cy="87" r="3.85"/><circle cx="1193.76" cy="125.25" r="3.85"/></g>
<path d="M743.75 82.5C743.75 62.75 761.25 62.75 761.25 82.5M778.75 82.5C778.75 62.75 796.25 62.75 796.25 82.5M814.25 82.5C814.25 62.75 832 62.75 832 82.5M726.25 129.5C726.25 148.25 743.75 148.25 743.75 129.5M761.25 129.5C761.25 148.25 778.75 148.25 778.75 129.5M796.25 129.5C796.25 148.25 814.25 148.25 814.25 129.5M726.2 80C725.7 72 724.7 64 725.2 60C725.7 57 728 57 732 57.5C742 58.5 752 58 759.5 57M832 132C832 140 832.5 146 831 150C829 154 821 154 806 156" stroke="#253b82" stroke-width="2.1" fill="none" stroke-linecap="round"/>
<rect x="721.05" y="79.5" width="10.4" height="53" rx="5.2" fill="#5b88c9" stroke="#2a3f86" stroke-width="1"/>
<rect x="738.55" y="79.5" width="10.4" height="53" rx="5.2" fill="#5b88c9" stroke="#2a3f86" stroke-width="1"/>
<rect x="756.05" y="79.5" width="10.4" height="53" rx="5.2" fill="#5b88c9" stroke="#2a3f86" stroke-width="1"/>
<rect x="773.55" y="79.5" width="10.4" height="53" rx="5.2" fill="#5b88c9" stroke="#2a3f86" stroke-width="1"/>
<rect x="791.05" y="79.5" width="10.4" height="53" rx="5.2" fill="#5b88c9" stroke="#2a3f86" stroke-width="1"/>
<rect x="809.05" y="79.5" width="10.4" height="53" rx="5.2" fill="#5b88c9" stroke="#2a3f86" stroke-width="1"/>
<rect x="826.8" y="79.5" width="10.4" height="53" rx="5.2" fill="#5b88c9" stroke="#2a3f86" stroke-width="1"/>
<path d="M995.5 83C995.5 63.5 1013.3 63.5 1013.3 83M1031.3 83C1031.3 63.5 1049.2 63.5 1049.2 83M1066.7 83C1066.7 63.5 1084.7 63.5 1084.7 83M978 129.5C978 148 995.5 148 995.5 129.5M1013.3 129.5C1013.3 148 1031.3 148 1031.3 129.5M977.8 81C977.3 72 976.3 66 976.8 62C977.3 58.5 980.3 57.5 985.3 57.8C993 58.2 1001 58 1009 58" stroke="#1b4962" stroke-width="2.1" fill="none" stroke-linecap="round"/>
<rect x="972.9" y="80" width="10.2" height="52.5" rx="5.1" fill="#2a80ba" stroke="#1a4d6e" stroke-width="1"/>
<rect x="990.4" y="80" width="10.2" height="52.5" rx="5.1" fill="#2a80ba" stroke="#1a4d6e" stroke-width="1"/>
<rect x="1008.2" y="80" width="10.2" height="52.5" rx="5.1" fill="#2a80ba" stroke="#1a4d6e" stroke-width="1"/>
<rect x="1026.2" y="80" width="10.2" height="52.5" rx="5.1" fill="#2a80ba" stroke="#1a4d6e" stroke-width="1"/>
<rect x="1044.1" y="80" width="10.2" height="52.5" rx="5.1" fill="#2a80ba" stroke="#1a4d6e" stroke-width="1"/>
<rect x="1061.6" y="80" width="10.2" height="52.5" rx="5.1" fill="#2a80ba" stroke="#1a4d6e" stroke-width="1"/>
<rect x="1079.6" y="80" width="10.2" height="52.5" rx="5.1" fill="#2a80ba" stroke="#1a4d6e" stroke-width="1"/>
<circle cx="1023.3" cy="58.7" r="15" fill="url(#gAgo)"/>
<circle cx="1018.8" cy="52.7" r="3.2" fill="#e0575a" opacity="0.9"/>
<path d="M1049.2 131C1049.2 148 1066.7 148 1066.7 131" stroke="#1b4962" stroke-width="2.1" fill="none"/>
<g transform="translate(1040.5 146.8) rotate(-23.5) scale(1.02) translate(-94.8 -193.8)"><use href="#arrestin" fill="#e8819f" stroke="#c9607f" stroke-width="0.9"/><use href="#arrestinShade" fill="#de6f90" opacity="0.6"/><use href="#arrestinSeam" stroke="#c9607f" stroke-width="0.8"/></g>
<path d="M1101.3 135C1107 131 1110 135 1114 141C1117 146 1120 148.5 1127.5 148" stroke="#2c2c2c" stroke-width="1.5" fill="none" stroke-linecap="round"/>
<path d="M1143 134.2A14.5 14.5 0 0 0 1143 163Z" fill="#d9474d"/>
<g transform="translate(650.7 -0.3)"><use href="#arrestin" fill="#e1e1e1" stroke="#b3b3b3" stroke-width="0.9"/><use href="#arrestinShade" fill="#d3d3d3" opacity="0.6"/><use href="#arrestinSeam" stroke="#b3b3b3" stroke-width="0.8"/></g>
<path d="M804.8 208.7C808 207 812 207 814.6 211C817 215 818 224 820 228C822 231 825 230 828.7 229" stroke="#2c2c2c" stroke-width="1.5" fill="none" stroke-linecap="round"/>
<path d="M851.4 218L839 243.4A14 14 0 0 1 851.4 218Z" fill="#c3c3c5"/>
<text x="697.5" y="40" font-size="21.5" fill="#38383b" text-anchor="start" textLength="86.2" lengthAdjust="spacingAndGlyphs">Receptor</text>
<text x="992.8" y="40" font-size="21.5" fill="#38383b" text-anchor="start" textLength="73.7" lengthAdjust="spacingAndGlyphs">Agonist</text>
<text x="857.6" y="74.8" font-size="21.5" fill="#38383b" text-anchor="start" textLength="95.9" lengthAdjust="spacingAndGlyphs">Activation</text>
<text x="704.7" y="248.8" font-size="19" fill="#38383b" text-anchor="start" textLength="76.3" lengthAdjust="spacingAndGlyphs">β-arrestin</text>
<text x="814" y="264" font-size="19" fill="#38383b" text-anchor="start" textLength="50.4" lengthAdjust="spacingAndGlyphs">SmBiT</text>
<text x="1077" y="284.7" font-size="18.8" fill="#38383b" text-anchor="start" textLength="116.3" lengthAdjust="spacingAndGlyphs">Internalization</text>
<text x="1032.5" y="402.5" font-size="18.8" fill="#38383b" text-anchor="start" textLength="86.2" lengthAdjust="spacingAndGlyphs">Endosome</text>
<text x="657.5" y="396.25" font-size="19" fill="#38383b" text-anchor="start" textLength="128.75" lengthAdjust="spacingAndGlyphs">Luminescence</text>
<text x="799.5" y="407.5" font-size="18.8" fill="#38383b" text-anchor="start" textLength="93" lengthAdjust="spacingAndGlyphs">FYVE-LgBiT</text>
<rect x="854.5" y="104.8" width="80" height="2.2" fill="url(#gArrowR)"/>
<path d="M945.5 105.9L934 100.3L934 111.5Z" fill="#222"/>
<path d="M855.24 203.49 L858.33 204.49 L861.43 205.41 L864.55 206.23 L867.68 206.96 L870.81 207.6 L873.95 208.15 L877.1 208.61 L880.24 208.98 L883.39 209.25 L886.54 209.44 L889.68 209.54 L892.81 209.55 L895.93 209.46 L899.05 209.29 L902.15 209.03 L905.23 208.67 L908.3 208.23 L911.35 207.69 L914.38 207.07 L917.38 206.36 L920.36 205.55 L923.31 204.66 L926.23 203.67 L929.11 202.6 L931.96 201.43 L934.76 200.14 L937.51 198.76 L940.22 197.29 L942.89 195.73 L945.5 194.08 L948.07 192.35 L950.58 190.52 L953.04 188.61 L955.44 186.61 L957.78 184.53 L960.07 182.35 L962.28 180.09 L964.43 177.75 L966.52 175.31 L968.52 172.81 L966.48 171.19 L964.51 173.66 L962.49 176.02 L960.4 178.3 L958.24 180.5 L956.02 182.61 L953.75 184.64 L951.41 186.58 L949.02 188.44 L946.58 190.22 L944.08 191.9 L941.54 193.51 L938.95 195.02 L936.31 196.45 L933.63 197.8 L930.91 199.06 L928.17 200.27 L925.38 201.4 L922.56 202.44 L919.71 203.4 L916.82 204.27 L913.9 205.05 L910.95 205.75 L907.98 206.36 L904.98 206.88 L901.95 207.32 L898.91 207.66 L895.85 207.92 L892.77 208.09 L889.68 208.17 L886.58 208.16 L883.46 208.06 L880.34 207.88 L877.22 207.6 L874.09 207.23 L870.96 206.77 L867.83 206.22 L864.7 205.58 L861.58 204.85 L858.47 204.03 L855.36 203.11Z" fill="#252525"/>
<path d="M974.1 162.5 L961.3 169 L972.8 176.7Z" fill="#252525"/>
<path d="M1095.1 187.5 L1095.14 191.42 L1095.08 195.31 L1094.92 199.15 L1094.68 202.96 L1094.34 206.73 L1093.91 210.46 L1093.39 214.15 L1092.79 217.8 L1092.09 221.4 L1091.31 224.96 L1090.45 228.48 L1089.5 231.95 L1088.48 235.37 L1087.37 238.75 L1086.18 242.07 L1084.91 245.35 L1083.56 248.58 L1082.14 251.75 L1080.65 254.87 L1079.08 257.93 L1077.43 260.94 L1075.72 263.89 L1073.93 266.79 L1072.08 269.63 L1070.16 272.4 L1068.2 275.15 L1066.18 277.83 L1064.1 280.45 L1061.95 283.01 L1059.73 285.51 L1057.45 287.95 L1055.11 290.31 L1052.71 292.62 L1050.25 294.85 L1047.74 297.02 L1045.16 299.12 L1042.53 301.15 L1039.84 303.1 L1037.1 304.99 L1034.29 306.81 L1035.71 308.99 L1038.55 307.15 L1041.34 305.23 L1044.09 303.23 L1046.78 301.16 L1049.41 299.01 L1051.98 296.8 L1054.49 294.52 L1056.94 292.17 L1059.33 289.75 L1061.65 287.26 L1063.91 284.71 L1066.11 282.1 L1068.24 279.42 L1070.3 276.68 L1072.3 273.88 L1074.18 271 L1076 268.06 L1077.74 265.07 L1079.41 262.02 L1081 258.92 L1082.51 255.76 L1083.95 252.56 L1085.31 249.31 L1086.6 246 L1087.8 242.65 L1088.92 239.26 L1089.95 235.82 L1090.91 232.33 L1091.78 228.81 L1092.56 225.24 L1093.26 221.63 L1093.87 217.98 L1094.4 214.29 L1094.83 210.57 L1095.17 206.8 L1095.43 203.01 L1095.59 199.18 L1095.65 195.31 L1095.62 191.42 L1095.5 187.5Z" fill="#252525"/>
<path d="M1024.8 313.5 L1030.5 302.5 L1039.5 313.5Z" fill="#252525"/>
<rect x="798" y="353.9" width="35.75" height="2.2" fill="url(#gArrowL)"/>
<path d="M787 355L799.5 349L799.5 361Z" fill="#222"/>
<circle cx="718.75" cy="344" r="21" fill="url(#gGlowY)"/>
<path d="M713.75 359C713.75 352 706.25 348 706.25 340A12.5 12.5 0 1 1 731.25 340C731.25 348 723.75 352 723.75 359Z" fill="#f5c518"/>
<path d="M715.75 358L714.75 345M721.75 358L722.75 345M714.75 345H722.75" stroke="#fff" stroke-opacity="0.45" stroke-width="0.8" fill="none"/>
<path d="M711.25 336Q711.75 331.5 715.75 330" stroke="#fff" stroke-opacity="0.6" stroke-width="1.5" fill="none" stroke-linecap="round"/>
<rect x="713.55" y="359" width="10.4" height="10" rx="1.2" fill="#a9a9a9"/>
<path d="M713.55 362H723.95M713.55 365H723.95M713.55 368H723.95" stroke="#e6e6e6" stroke-width="0.9"/>
<path d="M715.75 369H721.75L720.25 371.5H717.25Z" fill="#888"/>
<circle cx="961.25" cy="394.5" r="47" fill="none" stroke="#fff" stroke-width="28.4"/>
<path d="M1019.95 393.7L1009.45 392.5M1019.95 395.3L1009.45 396.5M1019.69 400.05L1009.38 397.72M1019.52 401.64L1008.95 401.7M1018.75 406.34L1008.75 402.91M1018.41 407.9L1007.89 406.81M1017.13 412.48L1007.57 408M1016.62 414L1006.29 411.79M1014.86 418.42L1005.83 412.92M1014.19 419.87L1004.16 416.55M1011.96 424.08L1003.58 417.64M1011.14 425.45L1001.52 421.06M1008.46 429.39L1000.83 422.08M1007.5 430.66L998.41 425.26M1004.42 434.29L997.62 426.2M1003.32 435.45L994.87 429.1M999.86 438.72L993.98 429.94M998.64 439.76L990.93 432.53M994.85 442.64L989.95 433.27M993.53 443.53L986.64 435.52M989.45 445.99L985.59 436.15M988.04 446.74L982.06 438.02M983.72 448.73L980.95 438.54M982.23 449.33L977.23 440.02M977.72 450.85L976.07 440.41M976.18 451.27L972.22 441.48M971.54 452.3L971.02 441.74M969.96 452.56L967.07 442.39M965.23 453.07L965.86 442.52M963.63 453.16L961.86 442.74M958.87 453.16L960.64 442.74M957.27 453.07L956.64 442.52M952.54 452.56L955.43 442.39M950.96 452.3L951.48 441.74M946.32 451.27L950.28 441.48M944.78 450.85L946.43 440.41M940.27 449.33L945.27 440.02M938.78 448.73L941.55 438.54M934.46 446.74L940.44 438.02M933.05 445.99L936.91 436.15M928.97 443.53L935.86 435.52M927.65 442.64L932.55 433.27M923.86 439.76L931.57 432.53M922.64 438.72L928.52 429.94M919.18 435.45L927.63 429.1M918.08 434.29L924.88 426.2M915 430.66L924.09 425.26M914.04 429.39L921.67 422.08M911.36 425.45L920.98 421.06M910.54 424.08L918.92 417.64M908.31 419.87L918.34 416.55M907.64 418.42L916.67 412.92M905.88 414L916.21 411.79M905.37 412.48L914.93 408M904.09 407.9L914.61 406.81M903.75 406.34L913.75 402.91M902.98 401.64L913.55 401.7M902.81 400.05L913.12 397.72M902.55 395.3L913.05 396.5M902.55 393.7L913.05 392.5M902.81 388.95L913.12 391.28M902.98 387.36L913.55 387.3M903.75 382.66L913.75 386.09M904.09 381.1L914.61 382.19M905.37 376.52L914.93 381M905.88 375L916.21 377.21M907.64 370.58L916.67 376.08M908.31 369.13L918.34 372.45M910.54 364.92L918.92 371.36M911.36 363.55L920.98 367.94M914.04 359.61L921.67 366.92M915 358.34L924.09 363.74M918.08 354.71L924.88 362.8M919.18 353.55L927.63 359.9M922.64 350.28L928.52 359.06M923.86 349.24L931.57 356.47M927.65 346.36L932.55 355.73M928.97 345.47L935.86 353.48M933.05 343.01L936.91 352.85M934.46 342.26L940.44 350.98M938.78 340.27L941.55 350.46M940.27 339.67L945.27 348.98M944.78 338.15L946.43 348.59M946.32 337.73L950.28 347.52M950.96 336.7L951.48 347.26M952.54 336.44L955.43 346.61M957.27 335.93L956.64 346.48M958.87 335.84L960.64 346.26M963.63 335.84L961.86 346.26M965.23 335.93L965.86 346.48M969.96 336.44L967.07 346.61M971.54 336.7L971.02 347.26M976.18 337.73L972.22 347.52M977.72 338.15L976.07 348.59M982.23 339.67L977.23 348.98M983.72 340.27L980.95 350.46M988.04 342.26L982.06 350.98M989.45 343.01L985.59 352.85M993.53 345.47L986.64 353.48M994.85 346.36L989.95 355.73M998.64 349.24L990.93 356.47M999.86 350.28L993.98 359.06M1003.32 353.55L994.87 359.9M1004.42 354.71L997.62 362.8M1007.5 358.34L998.41 363.74M1008.46 359.61L1000.83 366.92M1011.14 363.55L1001.52 367.94M1011.96 364.92L1003.58 371.36M1014.19 369.13L1004.16 372.45M1014.86 370.58L1005.83 376.08M1016.62 375L1006.29 377.21M1017.13 376.52L1007.57 381M1018.41 381.1L1007.89 382.19M1018.75 382.66L1008.75 386.09M1019.52 387.36L1008.95 387.3M1019.69 388.95L1009.38 391.28M996.47 396.97L1007.01 397.01M996.35 398.36L1006.72 400.2M995.46 403.22L1005.83 405.14M995.09 404.57L1004.97 408.23M993.36 409.19L1003.21 412.93M992.75 410.45L1001.82 415.81M990.22 414.68L999.24 420.13M989.4 415.82L997.36 422.71M986.15 419.53L994.06 426.5M985.14 420.5L991.74 428.71M981.28 423.57L987.82 431.84M980.11 424.35L985.15 433.6M975.77 426.68L980.72 435.99M974.48 427.23L977.78 437.24M969.79 428.76L973 438.8M968.42 429.07L969.88 439.51M963.53 429.73L964.9 440.18M962.13 429.8L961.71 440.33M957.21 429.57L956.69 440.1M955.82 429.39L953.52 439.67M951.01 428.29L948.62 438.55M949.68 427.86L945.58 437.56M945.14 425.92L940.96 435.59M943.91 425.25L938.14 434.07M939.79 422.54L933.95 431.31M938.69 421.66L931.44 429.31M935.13 418.25L927.81 425.84M934.21 417.2L925.71 423.43M931.31 413.21L922.75 419.36M930.59 412L921.11 416.62M928.45 407.56L918.93 412.09M927.95 406.25L917.81 409.09M926.64 401.49L916.47 404.25M926.39 400.11L915.9 401.1M925.95 395.2L915.45 396.1M925.95 393.8L915.45 392.9M926.39 388.89L915.9 387.9M926.64 387.51L916.47 384.75M927.95 382.75L917.81 379.91M928.45 381.44L918.93 376.91M930.59 377L921.11 372.38M931.31 375.79L922.75 369.64M934.21 371.8L925.71 365.57M935.13 370.75L927.81 363.16M938.69 367.34L931.44 359.69M939.79 366.46L933.95 357.69M943.91 363.75L938.14 354.93M945.14 363.08L940.96 353.41M949.68 361.14L945.58 351.44M951.01 360.71L948.62 350.45M955.82 359.61L953.52 349.33M957.21 359.43L956.69 348.9M962.13 359.2L961.71 348.67M963.53 359.27L964.9 348.82M968.42 359.93L969.88 349.49M969.79 360.24L973 350.2M974.48 361.77L977.78 351.76M975.77 362.32L980.72 353.01M980.11 364.65L985.15 355.4M981.28 365.43L987.82 357.16M985.14 368.5L991.74 360.29M986.15 369.47L994.06 362.5M989.4 373.18L997.36 366.29M990.22 374.32L999.24 368.87M992.75 378.55L1001.82 373.19M993.36 379.81L1003.21 376.07M995.09 384.43L1004.97 380.77M995.46 385.78L1005.83 383.86M996.35 390.64L1006.72 388.8M996.47 392.03L1007.01 391.99" stroke="#a8a8a8" stroke-width="0.9" fill="none"/>
<g fill="#646464"><circle cx="1022.45" cy="394.5" r="2.85"/><circle cx="1022.09" cy="401.12" r="2.85"/><circle cx="1021.02" cy="407.66" r="2.85"/><circle cx="1019.25" cy="414.04" r="2.85"/><circle cx="1016.79" cy="420.2" r="2.85"/><circle cx="1013.69" cy="426.05" r="2.85"/><circle cx="1009.97" cy="431.54" r="2.85"/><circle cx="1005.68" cy="436.59" r="2.85"/><circle cx="1000.87" cy="441.14" r="2.85"/><circle cx="995.59" cy="445.15" r="2.85"/><circle cx="989.92" cy="448.57" r="2.85"/><circle cx="983.9" cy="451.35" r="2.85"/><circle cx="977.62" cy="453.47" r="2.85"/><circle cx="971.15" cy="454.89" r="2.85"/><circle cx="964.56" cy="455.61" r="2.85"/><circle cx="957.94" cy="455.61" r="2.85"/><circle cx="951.35" cy="454.89" r="2.85"/><circle cx="944.88" cy="453.47" r="2.85"/><circle cx="938.6" cy="451.35" r="2.85"/><circle cx="932.58" cy="448.57" r="2.85"/><circle cx="926.91" cy="445.15" r="2.85"/><circle cx="921.63" cy="441.14" r="2.85"/><circle cx="916.82" cy="436.59" r="2.85"/><circle cx="912.53" cy="431.54" r="2.85"/><circle cx="908.81" cy="426.05" r="2.85"/><circle cx="905.71" cy="420.2" r="2.85"/><circle cx="903.25" cy="414.04" r="2.85"/><circle cx="901.48" cy="407.66" r="2.85"/><circle cx="900.41" cy="401.12" r="2.85"/><circle cx="900.05" cy="394.5" r="2.85"/><circle cx="900.41" cy="387.88" r="2.85"/><circle cx="901.48" cy="381.34" r="2.85"/><circle cx="903.25" cy="374.96" r="2.85"/><circle cx="905.71" cy="368.8" r="2.85"/><circle cx="908.81" cy="362.95" r="2.85"/><circle cx="912.53" cy="357.46" r="2.85"/><circle cx="916.82" cy="352.41" r="2.85"/><circle cx="921.63" cy="347.86" r="2.85"/><circle cx="926.91" cy="343.85" r="2.85"/><circle cx="932.58" cy="340.43" r="2.85"/><circle cx="938.6" cy="337.65" r="2.85"/><circle cx="944.88" cy="335.53" r="2.85"/><circle cx="951.35" cy="334.11" r="2.85"/><circle cx="957.94" cy="333.39" r="2.85"/><circle cx="964.56" cy="333.39" r="2.85"/><circle cx="971.15" cy="334.11" r="2.85"/><circle cx="977.62" cy="335.53" r="2.85"/><circle cx="983.9" cy="337.65" r="2.85"/><circle cx="989.92" cy="340.43" r="2.85"/><circle cx="995.59" cy="343.85" r="2.85"/><circle cx="1000.87" cy="347.86" r="2.85"/><circle cx="1005.68" cy="352.41" r="2.85"/><circle cx="1009.97" cy="357.46" r="2.85"/><circle cx="1013.69" cy="362.95" r="2.85"/><circle cx="1016.79" cy="368.8" r="2.85"/><circle cx="1019.25" cy="374.96" r="2.85"/><circle cx="1021.02" cy="381.34" r="2.85"/><circle cx="1022.09" cy="387.88" r="2.85"/><circle cx="993.92" cy="397.44" r="2.85"/><circle cx="992.87" cy="403.23" r="2.85"/><circle cx="990.8" cy="408.73" r="2.85"/><circle cx="987.79" cy="413.78" r="2.85"/><circle cx="983.92" cy="418.21" r="2.85"/><circle cx="979.32" cy="421.87" r="2.85"/><circle cx="974.14" cy="424.66" r="2.85"/><circle cx="968.55" cy="426.48" r="2.85"/><circle cx="962.72" cy="427.27" r="2.85"/><circle cx="956.85" cy="427" r="2.85"/><circle cx="951.11" cy="425.69" r="2.85"/><circle cx="945.71" cy="423.38" r="2.85"/><circle cx="940.8" cy="420.14" r="2.85"/><circle cx="936.55" cy="416.08" r="2.85"/><circle cx="933.09" cy="411.32" r="2.85"/><circle cx="930.54" cy="406.03" r="2.85"/><circle cx="928.98" cy="400.36" r="2.85"/><circle cx="928.45" cy="394.5" r="2.85"/><circle cx="928.98" cy="388.64" r="2.85"/><circle cx="930.54" cy="382.97" r="2.85"/><circle cx="933.09" cy="377.68" r="2.85"/><circle cx="936.55" cy="372.92" r="2.85"/><circle cx="940.8" cy="368.86" r="2.85"/><circle cx="945.71" cy="365.62" r="2.85"/><circle cx="951.11" cy="363.31" r="2.85"/><circle cx="956.85" cy="362" r="2.85"/><circle cx="962.72" cy="361.73" r="2.85"/><circle cx="968.55" cy="362.52" r="2.85"/><circle cx="974.14" cy="364.34" r="2.85"/><circle cx="979.32" cy="367.13" r="2.85"/><circle cx="983.92" cy="370.79" r="2.85"/><circle cx="987.79" cy="375.22" r="2.85"/><circle cx="990.8" cy="380.27" r="2.85"/><circle cx="992.87" cy="385.77" r="2.85"/><circle cx="993.92" cy="391.56" r="2.85"/></g>
<path d="M939.25 338.5C939.25 325.38 949.25 325.38 949.25 338.5M959.5 338.5C959.5 325.38 969.5 325.38 969.5 338.5M979.5 338.5C979.5 325.38 990 325.38 990 338.5M928.75 363.3C928.75 373.93 939.25 373.93 939.25 363.3M949.25 363.3C949.25 373.93 959.5 373.93 959.5 363.3M969.5 363.3C969.5 373.93 979.5 373.93 979.5 363.3M928.75 336C928.75 330 929 326 931 324.5C934 323 938 323 943 322M990 366C990.4 372 991 375 989 378C986 379 980 378 972 379" stroke="#1b4962" stroke-width="1.8" fill="none" stroke-linecap="round"/>
<rect x="925.75" y="335.5" width="6" height="30.8" rx="3" fill="#2a80ba" stroke="#1a4d6e" stroke-width="1"/>
<rect x="936.25" y="335.5" width="6" height="30.8" rx="3" fill="#2a80ba" stroke="#1a4d6e" stroke-width="1"/>
<rect x="946.25" y="335.5" width="6" height="30.8" rx="3" fill="#2a80ba" stroke="#1a4d6e" stroke-width="1"/>
<rect x="956.5" y="335.5" width="6" height="30.8" rx="3" fill="#2a80ba" stroke="#1a4d6e" stroke-width="1"/>
<rect x="966.5" y="335.5" width="6" height="30.8" rx="3" fill="#2a80ba" stroke="#1a4d6e" stroke-width="1"/>
<rect x="976.5" y="335.5" width="6" height="30.8" rx="3" fill="#2a80ba" stroke="#1a4d6e" stroke-width="1"/>
<rect x="987" y="335.5" width="6" height="30.8" rx="3" fill="#2a80ba" stroke="#1a4d6e" stroke-width="1"/>
<g transform="translate(969.4 309.5) rotate(148.8) scale(1.04) translate(-94.8 -193.8)"><use href="#arrestin" fill="#e8819f" stroke="#c9607f" stroke-width="0.9"/><use href="#arrestinShade" fill="#de6f90" opacity="0.6"/><use href="#arrestinSeam" stroke="#c9607f" stroke-width="0.8"/></g>
<circle cx="879.5" cy="335" r="14.5" fill="#d9474d"/>
<path d="M867 329.5L892 341.3" stroke="#f4d0d0" stroke-width="2"/>
<path d="M886.3 319.5C889 317 892 316.5 895 319C900 324 905 332 911.3 331.3" stroke="#2c2c2c" stroke-width="1.5" fill="none" stroke-linecap="round"/>
<path d="M876.3 350C876.5 354 877 358 880 359C888 360 896 359 900 361C903 362 905 364 906.3 365" stroke="#2c2c2c" stroke-width="1.5" fill="none" stroke-linecap="round"/>
<line x1="873.75" y1="362.5" x2="873.75" y2="386.5" stroke="#333" stroke-width="1.3" />
</g>
<text x="5" y="15.3" font-size="23" font-weight="bold" fill="#000" textLength="11.8" lengthAdjust="spacingAndGlyphs">a</text>
<text x="7" y="523.5" font-size="23" font-weight="bold" fill="#000" textLength="12.8" lengthAdjust="spacingAndGlyphs">b</text>
<text x="6.2" y="1043.3" font-size="23" font-weight="bold" fill="#000" textLength="11.3" lengthAdjust="spacingAndGlyphs">c</text>
<text x="615.2" y="16.7" font-size="23" font-weight="bold" fill="#000" textLength="12.9" lengthAdjust="spacingAndGlyphs">d</text>
<text x="616.9" y="526" font-size="23" font-weight="bold" fill="#000" textLength="12.6" lengthAdjust="spacingAndGlyphs">e</text>
<text x="615.5" y="1043.5" font-size="23" font-weight="bold" fill="#000">f</text>
</svg>
</body></html>
